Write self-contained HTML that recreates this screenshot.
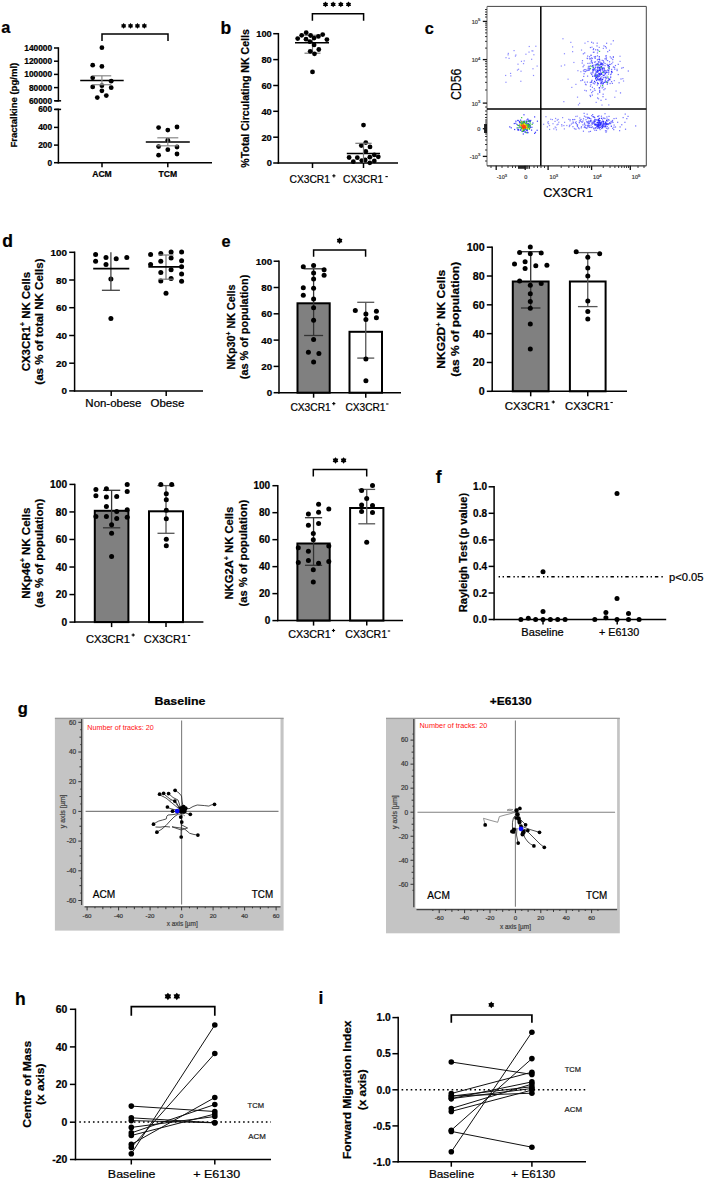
<!DOCTYPE html>
<html><head><meta charset="utf-8"><style>
html,body{margin:0;padding:0;background:#fff;}
svg{display:block;font-family:"Liberation Sans",sans-serif;}
</style></head><body>
<svg width="704" height="1181" viewBox="0 0 704 1181">
<rect width="704" height="1181" fill="#fff"/>
<text x="1.2" y="33.1" font-size="16.3" text-anchor="start" fill="#000" font-weight="bold"  stroke="#000" stroke-width="0.22">a</text>
<text x="220.6" y="33.55" font-size="17.5" text-anchor="start" fill="#000" font-weight="bold"  stroke="#000" stroke-width="0.22">b</text>
<text x="424.7" y="33.95" font-size="16.3" text-anchor="start" fill="#000" font-weight="bold"  stroke="#000" stroke-width="0.22">c</text>
<text x="2.3" y="246.55" font-size="17.5" text-anchor="start" fill="#000" font-weight="bold"  stroke="#000" stroke-width="0.22">d</text>
<text x="221.4" y="246.85" font-size="16.3" text-anchor="start" fill="#000" font-weight="bold"  stroke="#000" stroke-width="0.22">e</text>
<text x="435.8" y="482.9" font-size="17.5" text-anchor="start" fill="#000" font-weight="bold"  stroke="#000" stroke-width="0.22">f</text>
<text x="17.7" y="713.9" font-size="16.5" text-anchor="start" fill="#000" font-weight="bold"  stroke="#000" stroke-width="0.22">g</text>
<text x="15.1" y="1004.5" font-size="17.5" text-anchor="start" fill="#000" font-weight="bold"  stroke="#000" stroke-width="0.22">h</text>
<text x="318.6" y="1004.2" font-size="17.5" text-anchor="start" fill="#000" font-weight="bold"  stroke="#000" stroke-width="0.22">i</text>
<line x1="58.4" y1="47.25" x2="58.4" y2="101.55" stroke="#000" stroke-width="1.5" />
<line x1="54" y1="48" x2="58.4" y2="48" stroke="#000" stroke-width="1.5" />
<text x="52.2" y="51.02" font-size="8.4" text-anchor="end" fill="#000" font-weight="bold"  stroke="#000" stroke-width="0.22">140000</text>
<line x1="54" y1="61.2" x2="58.4" y2="61.2" stroke="#000" stroke-width="1.5" />
<text x="52.2" y="64.22" font-size="8.4" text-anchor="end" fill="#000" font-weight="bold"  stroke="#000" stroke-width="0.22">120000</text>
<line x1="54" y1="74.4" x2="58.4" y2="74.4" stroke="#000" stroke-width="1.5" />
<text x="52.2" y="77.42" font-size="8.4" text-anchor="end" fill="#000" font-weight="bold"  stroke="#000" stroke-width="0.22">100000</text>
<line x1="54" y1="87.6" x2="58.4" y2="87.6" stroke="#000" stroke-width="1.5" />
<text x="52.2" y="90.62" font-size="8.4" text-anchor="end" fill="#000" font-weight="bold"  stroke="#000" stroke-width="0.22">80000</text>
<line x1="54" y1="100.8" x2="58.4" y2="100.8" stroke="#000" stroke-width="1.5" />
<text x="52.2" y="103.82" font-size="8.4" text-anchor="end" fill="#000" font-weight="bold"  stroke="#000" stroke-width="0.22">60000</text>
<line x1="58.4" y1="108.65" x2="58.4" y2="163.45" stroke="#000" stroke-width="1.5" />
<line x1="54" y1="109.4" x2="58.4" y2="109.4" stroke="#000" stroke-width="1.5" />
<text x="52.2" y="112.42" font-size="8.4" text-anchor="end" fill="#000" font-weight="bold"  stroke="#000" stroke-width="0.22">600</text>
<line x1="54" y1="127.4" x2="58.4" y2="127.4" stroke="#000" stroke-width="1.5" />
<text x="52.2" y="130.42" font-size="8.4" text-anchor="end" fill="#000" font-weight="bold"  stroke="#000" stroke-width="0.22">400</text>
<line x1="54" y1="145.1" x2="58.4" y2="145.1" stroke="#000" stroke-width="1.5" />
<text x="52.2" y="148.12" font-size="8.4" text-anchor="end" fill="#000" font-weight="bold"  stroke="#000" stroke-width="0.22">200</text>
<line x1="54" y1="162.7" x2="58.4" y2="162.7" stroke="#000" stroke-width="1.5" />
<text x="52.2" y="165.72" font-size="8.4" text-anchor="end" fill="#000" font-weight="bold"  stroke="#000" stroke-width="0.22">0</text>
<line x1="57.65" y1="162.7" x2="212" y2="162.7" stroke="#000" stroke-width="1.5" />
<line x1="102" y1="162.7" x2="102" y2="167.2" stroke="#000" stroke-width="1.5" />
<line x1="167.8" y1="162.7" x2="167.8" y2="167.2" stroke="#000" stroke-width="1.5" />
<line x1="55.2" y1="100.8" x2="61.1" y2="100.8" stroke="#000" stroke-width="1.5" />
<line x1="55.2" y1="109.4" x2="61.1" y2="109.4" stroke="#000" stroke-width="1.5" />
<text transform="translate(17.2,105.2) rotate(-90)" font-size="9.6" text-anchor="middle" fill="#000" font-weight="bold" textLength="84.8" lengthAdjust="spacingAndGlyphs" stroke="#000" stroke-width="0.22">Fractalkine (pg/ml)</text>
<text x="102" y="177.3" font-size="8.6" text-anchor="middle" fill="#000" font-weight="bold"  stroke="#000" stroke-width="0.22">ACM</text>
<text x="167.8" y="177.3" font-size="8.6" text-anchor="middle" fill="#000" font-weight="bold"  stroke="#000" stroke-width="0.22">TCM</text>
<polyline points="102,41 102,34 168,34 168,41" fill="none" stroke="#000" stroke-width="1.5"/>
<polygon points="123.65,23 124.61,24.24 126.16,24.45 125.56,25.9 126.16,27.35 124.61,27.56 123.65,28.8 122.69,27.56 121.14,27.35 121.74,25.9 121.14,24.45 122.69,24.24" fill="#000"/>
<polygon points="130.55,23 131.51,24.24 133.06,24.45 132.46,25.9 133.06,27.35 131.51,27.56 130.55,28.8 129.59,27.56 128.04,27.35 128.64,25.9 128.04,24.45 129.59,24.24" fill="#000"/>
<polygon points="137.45,23 138.41,24.24 139.96,24.45 139.36,25.9 139.96,27.35 138.41,27.56 137.45,28.8 136.49,27.56 134.94,27.35 135.54,25.9 134.94,24.45 136.49,24.24" fill="#000"/>
<polygon points="144.35,23 145.31,24.24 146.86,24.45 146.26,25.9 146.86,27.35 145.31,27.56 144.35,28.8 143.39,27.56 141.84,27.35 142.44,25.9 141.84,24.45 143.39,24.24" fill="#000"/>
<circle cx="101.9" cy="47.7" r="2.4" fill="#000"/>
<circle cx="92.7" cy="65.2" r="2.4" fill="#000"/>
<circle cx="101.9" cy="66.4" r="2.4" fill="#000"/>
<circle cx="92.7" cy="77.8" r="2.4" fill="#000"/>
<circle cx="111.2" cy="81.2" r="2.4" fill="#000"/>
<circle cx="92.7" cy="86.9" r="2.4" fill="#000"/>
<circle cx="101.9" cy="85.7" r="2.4" fill="#000"/>
<circle cx="111.2" cy="87.7" r="2.4" fill="#000"/>
<circle cx="101.9" cy="90.8" r="2.4" fill="#000"/>
<circle cx="97.3" cy="97.6" r="2.4" fill="#000"/>
<circle cx="106.3" cy="95.6" r="2.4" fill="#000"/>
<line x1="80.2" y1="80.4" x2="123.7" y2="80.4" stroke="#000" stroke-width="1.5" />
<line x1="101.9" y1="75.8" x2="101.9" y2="84.7" stroke="#888" stroke-width="1.2" />
<line x1="92.55" y1="75.8" x2="111.25" y2="75.8" stroke="#888" stroke-width="1.2" />
<line x1="92.55" y1="84.7" x2="111.25" y2="84.7" stroke="#888" stroke-width="1.2" />
<circle cx="158.6" cy="127.6" r="2.4" fill="#000"/>
<circle cx="167.8" cy="130.1" r="2.4" fill="#000"/>
<circle cx="177" cy="127" r="2.4" fill="#000"/>
<circle cx="167.8" cy="140.2" r="2.4" fill="#000"/>
<circle cx="158.6" cy="146.6" r="2.4" fill="#000"/>
<circle cx="167.8" cy="149.7" r="2.4" fill="#000"/>
<circle cx="177" cy="147" r="2.4" fill="#000"/>
<circle cx="158.6" cy="155.2" r="2.4" fill="#000"/>
<circle cx="177" cy="154" r="2.4" fill="#000"/>
<line x1="145.8" y1="141.9" x2="189.8" y2="141.9" stroke="#000" stroke-width="1.5" />
<line x1="167.8" y1="137.8" x2="167.8" y2="145.8" stroke="#888" stroke-width="1.2" />
<line x1="157.3" y1="137.8" x2="178.3" y2="137.8" stroke="#888" stroke-width="1.2" />
<line x1="157.3" y1="145.8" x2="178.3" y2="145.8" stroke="#888" stroke-width="1.2" />
<line x1="278.4" y1="32.95" x2="278.4" y2="163.75" stroke="#000" stroke-width="1.5" />
<line x1="273.2" y1="33.7" x2="278.4" y2="33.7" stroke="#000" stroke-width="1.5" />
<text x="271.8" y="37.05" font-size="9.3" text-anchor="end" fill="#000" font-weight="bold"  stroke="#000" stroke-width="0.22">100</text>
<line x1="273.2" y1="59.6" x2="278.4" y2="59.6" stroke="#000" stroke-width="1.5" />
<text x="271.8" y="62.95" font-size="9.3" text-anchor="end" fill="#000" font-weight="bold"  stroke="#000" stroke-width="0.22">80</text>
<line x1="273.2" y1="85.5" x2="278.4" y2="85.5" stroke="#000" stroke-width="1.5" />
<text x="271.8" y="88.85" font-size="9.3" text-anchor="end" fill="#000" font-weight="bold"  stroke="#000" stroke-width="0.22">60</text>
<line x1="273.2" y1="111.3" x2="278.4" y2="111.3" stroke="#000" stroke-width="1.5" />
<text x="271.8" y="114.65" font-size="9.3" text-anchor="end" fill="#000" font-weight="bold"  stroke="#000" stroke-width="0.22">40</text>
<line x1="273.2" y1="137.2" x2="278.4" y2="137.2" stroke="#000" stroke-width="1.5" />
<text x="271.8" y="140.55" font-size="9.3" text-anchor="end" fill="#000" font-weight="bold"  stroke="#000" stroke-width="0.22">20</text>
<line x1="273.2" y1="163" x2="278.4" y2="163" stroke="#000" stroke-width="1.5" />
<text x="271.8" y="166.35" font-size="9.3" text-anchor="end" fill="#000" font-weight="bold"  stroke="#000" stroke-width="0.22">0</text>
<line x1="277.65" y1="163" x2="398" y2="163" stroke="#000" stroke-width="1.5" />
<line x1="312.5" y1="163" x2="312.5" y2="168" stroke="#000" stroke-width="1.5" />
<line x1="363.5" y1="163" x2="363.5" y2="168" stroke="#000" stroke-width="1.5" />
<text transform="translate(248.6,98.4) rotate(-90)" font-size="10.5" text-anchor="middle" fill="#000" font-weight="bold" textLength="138.5" lengthAdjust="spacingAndGlyphs" stroke="#000" stroke-width="0.22">%Total Circulating NK Cells</text>
<text x="289.48" y="182.8" font-size="10.6" fill="#000" textLength="40.53" lengthAdjust="spacingAndGlyphs" stroke="#000" stroke-width="0.22">CX3CR1</text>
<line x1="332.3" y1="175.8" x2="335.5" y2="175.8" stroke="#000" stroke-width="1.1" />
<line x1="333.9" y1="174.2" x2="333.9" y2="177.4" stroke="#000" stroke-width="1.1" />
<text x="343.08" y="182.8" font-size="10.6" fill="#000" textLength="40.11" lengthAdjust="spacingAndGlyphs" stroke="#000" stroke-width="0.22">CX3CR1</text>
<line x1="385.4" y1="176.6" x2="387.8" y2="176.6" stroke="#000" stroke-width="1.1" />
<polyline points="312.4,20.8 312.4,13.7 363.6,13.7 363.6,20.8" fill="none" stroke="#000" stroke-width="1.5"/>
<polygon points="325.5,1.45 326.47,2.71 328.05,2.93 327.44,4.4 328.05,5.88 326.47,6.09 325.5,7.35 324.52,6.09 322.94,5.88 323.55,4.4 322.94,2.92 324.52,2.71" fill="#000"/>
<polygon points="333.17,1.45 334.14,2.71 335.72,2.93 335.11,4.4 335.72,5.88 334.14,6.09 333.17,7.35 332.19,6.09 330.61,5.88 331.22,4.4 330.61,2.92 332.19,2.71" fill="#000"/>
<polygon points="340.83,1.45 341.81,2.71 343.39,2.93 342.78,4.4 343.39,5.88 341.81,6.09 340.83,7.35 339.86,6.09 338.28,5.88 338.89,4.4 338.28,2.92 339.86,2.71" fill="#000"/>
<polygon points="348.5,1.45 349.48,2.71 351.06,2.93 350.45,4.4 351.06,5.88 349.48,6.09 348.5,7.35 347.53,6.09 345.95,5.88 346.56,4.4 345.95,2.92 347.53,2.71" fill="#000"/>
<line x1="312.5" y1="35.3" x2="312.5" y2="53.2" stroke="#777" stroke-width="1.2" />
<line x1="304.5" y1="35.3" x2="320.5" y2="35.3" stroke="#777" stroke-width="1.2" />
<line x1="304.5" y1="53.2" x2="320.5" y2="53.2" stroke="#777" stroke-width="1.2" />
<circle cx="297.7" cy="38.6" r="2.4" fill="#000"/>
<circle cx="301.7" cy="35.3" r="2.4" fill="#000"/>
<circle cx="306.2" cy="32.7" r="2.4" fill="#000"/>
<circle cx="310.6" cy="35.5" r="2.4" fill="#000"/>
<circle cx="306" cy="39.2" r="2.4" fill="#000"/>
<circle cx="309.9" cy="41.7" r="2.4" fill="#000"/>
<circle cx="314.1" cy="38.1" r="2.4" fill="#000"/>
<circle cx="318.4" cy="36.4" r="2.4" fill="#000"/>
<circle cx="322.7" cy="34.6" r="2.4" fill="#000"/>
<circle cx="326.9" cy="39.6" r="2.4" fill="#000"/>
<circle cx="314.1" cy="44.9" r="2.4" fill="#000"/>
<circle cx="310.2" cy="51.3" r="2.4" fill="#000"/>
<circle cx="318.8" cy="49.5" r="2.4" fill="#000"/>
<circle cx="314.5" cy="53.8" r="2.4" fill="#000"/>
<circle cx="312.5" cy="71.9" r="2.4" fill="#000"/>
<line x1="295" y1="42.8" x2="329" y2="42.8" stroke="#000" stroke-width="1.5" />
<circle cx="363.5" cy="125.1" r="2.4" fill="#000"/>
<circle cx="365.8" cy="142.6" r="2.4" fill="#000"/>
<circle cx="361.3" cy="145.5" r="2.4" fill="#000"/>
<circle cx="370" cy="146.9" r="2.4" fill="#000"/>
<circle cx="365.8" cy="151.5" r="2.4" fill="#000"/>
<circle cx="349.1" cy="157.5" r="2.4" fill="#000"/>
<circle cx="357.3" cy="157.7" r="2.4" fill="#000"/>
<circle cx="374.3" cy="154.9" r="2.4" fill="#000"/>
<circle cx="378.3" cy="156.8" r="2.4" fill="#000"/>
<circle cx="369.8" cy="157.2" r="2.4" fill="#000"/>
<circle cx="353.3" cy="161.7" r="2.4" fill="#000"/>
<circle cx="361.8" cy="160.6" r="2.4" fill="#000"/>
<circle cx="365.2" cy="160" r="2.4" fill="#000"/>
<circle cx="369.8" cy="162.8" r="2.4" fill="#000"/>
<circle cx="374.3" cy="160.9" r="2.4" fill="#000"/>
<line x1="346.8" y1="153.4" x2="380" y2="153.4" stroke="#000" stroke-width="1.5" />
<line x1="363.5" y1="143.3" x2="363.5" y2="163" stroke="#777" stroke-width="1.2" />
<line x1="355.35" y1="143.3" x2="371.65" y2="143.3" stroke="#777" stroke-width="1.2" />
<defs><filter id="bl" x="-5%" y="-5%" width="110%" height="110%"><feGaussianBlur stdDeviation="0.35"/></filter></defs>
<g filter="url(#bl)">
<rect x="586.98" y="75.53" width="1.2" height="1.2" fill="#7070ff"/>
<rect x="606.95" y="64.84" width="1.2" height="1.2" fill="#7070ff"/>
<rect x="586.04" y="70.21" width="1.2" height="1.2" fill="#7070ff"/>
<rect x="602.3" y="84.18" width="1.2" height="1.2" fill="#7070ff"/>
<rect x="587.06" y="55.49" width="1.2" height="1.2" fill="#7070ff"/>
<rect x="604.35" y="76.69" width="1.2" height="1.2" fill="#7070ff"/>
<rect x="611.8" y="82.79" width="1.2" height="1.2" fill="#7070ff"/>
<rect x="597.08" y="67.71" width="1.2" height="1.2" fill="#7070ff"/>
<rect x="621.13" y="67.53" width="1.2" height="1.2" fill="#7070ff"/>
<rect x="590.94" y="57.34" width="1.2" height="1.2" fill="#7070ff"/>
<rect x="598.86" y="72.74" width="1.2" height="1.2" fill="#7070ff"/>
<rect x="594.9" y="70.25" width="1.2" height="1.2" fill="#7070ff"/>
<rect x="600.46" y="79.31" width="1.2" height="1.2" fill="#7070ff"/>
<rect x="607.87" y="73.52" width="1.2" height="1.2" fill="#7070ff"/>
<rect x="581.89" y="79.42" width="1.2" height="1.2" fill="#7070ff"/>
<rect x="585.22" y="68.94" width="1.2" height="1.2" fill="#7070ff"/>
<rect x="584.74" y="71.03" width="1.2" height="1.2" fill="#7070ff"/>
<rect x="590.99" y="73.57" width="1.2" height="1.2" fill="#7070ff"/>
<rect x="627.7" y="70.42" width="1.2" height="1.2" fill="#7070ff"/>
<rect x="605.58" y="55.12" width="1.2" height="1.2" fill="#7070ff"/>
<rect x="595.41" y="78.95" width="1.2" height="1.2" fill="#7070ff"/>
<rect x="597.17" y="75.44" width="1.2" height="1.2" fill="#7070ff"/>
<rect x="598.93" y="58.93" width="1.2" height="1.2" fill="#7070ff"/>
<rect x="603.07" y="61.26" width="1.2" height="1.2" fill="#7070ff"/>
<rect x="614.85" y="64.94" width="1.2" height="1.2" fill="#7070ff"/>
<rect x="604.17" y="71.03" width="1.2" height="1.2" fill="#7070ff"/>
<rect x="606.57" y="63.77" width="1.2" height="1.2" fill="#7070ff"/>
<rect x="606.99" y="69.51" width="1.2" height="1.2" fill="#7070ff"/>
<rect x="609.37" y="78.49" width="1.2" height="1.2" fill="#7070ff"/>
<rect x="599.27" y="61.64" width="1.2" height="1.2" fill="#7070ff"/>
<rect x="604.91" y="76.62" width="1.2" height="1.2" fill="#7070ff"/>
<rect x="612.78" y="66.48" width="1.2" height="1.2" fill="#7070ff"/>
<rect x="602.99" y="77.1" width="1.2" height="1.2" fill="#7070ff"/>
<rect x="600.55" y="73.5" width="1.2" height="1.2" fill="#7070ff"/>
<rect x="599.64" y="63.82" width="1.2" height="1.2" fill="#7070ff"/>
<rect x="588.87" y="66.24" width="1.2" height="1.2" fill="#7070ff"/>
<rect x="603.32" y="89.13" width="1.2" height="1.2" fill="#7070ff"/>
<rect x="606.79" y="83.64" width="1.2" height="1.2" fill="#7070ff"/>
<rect x="605" y="79.38" width="1.2" height="1.2" fill="#7070ff"/>
<rect x="599.65" y="80.26" width="1.2" height="1.2" fill="#7070ff"/>
<rect x="613.96" y="67.07" width="1.2" height="1.2" fill="#7070ff"/>
<rect x="591.76" y="94.52" width="1.2" height="1.2" fill="#7070ff"/>
<rect x="600.2" y="82.65" width="1.2" height="1.2" fill="#7070ff"/>
<rect x="605.86" y="57.37" width="1.2" height="1.2" fill="#7070ff"/>
<rect x="619.9" y="92.31" width="1.2" height="1.2" fill="#7070ff"/>
<rect x="599.59" y="80.03" width="1.2" height="1.2" fill="#7070ff"/>
<rect x="599.14" y="60.39" width="1.2" height="1.2" fill="#7070ff"/>
<rect x="596.99" y="75.49" width="1.2" height="1.2" fill="#7070ff"/>
<rect x="608.04" y="79.51" width="1.2" height="1.2" fill="#7070ff"/>
<rect x="598.54" y="87.26" width="1.2" height="1.2" fill="#7070ff"/>
<rect x="591.15" y="80.51" width="1.2" height="1.2" fill="#7070ff"/>
<rect x="608.01" y="67.5" width="1.2" height="1.2" fill="#7070ff"/>
<rect x="581.88" y="60.12" width="1.2" height="1.2" fill="#7070ff"/>
<rect x="600.13" y="77.33" width="1.2" height="1.2" fill="#7070ff"/>
<rect x="611.93" y="58.95" width="1.2" height="1.2" fill="#7070ff"/>
<rect x="598.02" y="78.79" width="1.2" height="1.2" fill="#7070ff"/>
<rect x="596.58" y="42.56" width="1.2" height="1.2" fill="#7070ff"/>
<rect x="605.26" y="98.75" width="1.2" height="1.2" fill="#7070ff"/>
<rect x="607.04" y="59.99" width="1.2" height="1.2" fill="#7070ff"/>
<rect x="594.29" y="73.66" width="1.2" height="1.2" fill="#7070ff"/>
<rect x="620.4" y="78.41" width="1.2" height="1.2" fill="#7070ff"/>
<rect x="599.02" y="89.69" width="1.2" height="1.2" fill="#7070ff"/>
<rect x="597.26" y="93.34" width="1.2" height="1.2" fill="#7070ff"/>
<rect x="591.83" y="65.3" width="1.2" height="1.2" fill="#7070ff"/>
<rect x="604.49" y="88.09" width="1.2" height="1.2" fill="#7070ff"/>
<rect x="603.89" y="74.62" width="1.2" height="1.2" fill="#7070ff"/>
<rect x="581.61" y="62.45" width="1.2" height="1.2" fill="#7070ff"/>
<rect x="592.5" y="64.6" width="1.2" height="1.2" fill="#7070ff"/>
<rect x="603.28" y="66.98" width="1.2" height="1.2" fill="#7070ff"/>
<rect x="605.09" y="71.99" width="1.2" height="1.2" fill="#7070ff"/>
<rect x="595" y="72.42" width="1.2" height="1.2" fill="#7070ff"/>
<rect x="601.86" y="81.3" width="1.2" height="1.2" fill="#7070ff"/>
<rect x="593.7" y="68.21" width="1.2" height="1.2" fill="#7070ff"/>
<rect x="585.73" y="90.25" width="1.2" height="1.2" fill="#7070ff"/>
<rect x="611.07" y="68.85" width="1.2" height="1.2" fill="#7070ff"/>
<rect x="593.69" y="56.17" width="1.2" height="1.2" fill="#7070ff"/>
<rect x="599.53" y="73.48" width="1.2" height="1.2" fill="#7070ff"/>
<rect x="617.64" y="73.96" width="1.2" height="1.2" fill="#7070ff"/>
<rect x="591" y="41.66" width="1.2" height="1.2" fill="#7070ff"/>
<rect x="610.68" y="73.27" width="1.2" height="1.2" fill="#7070ff"/>
<rect x="583.52" y="73.16" width="1.2" height="1.2" fill="#7070ff"/>
<rect x="583.52" y="112.76" width="1.2" height="1.2" fill="#7070ff"/>
<rect x="608.07" y="77.87" width="1.2" height="1.2" fill="#7070ff"/>
<rect x="596.42" y="45.32" width="1.2" height="1.2" fill="#7070ff"/>
<rect x="596.86" y="52.35" width="1.2" height="1.2" fill="#7070ff"/>
<rect x="603.37" y="45.33" width="1.2" height="1.2" fill="#7070ff"/>
<rect x="589.83" y="85.63" width="1.2" height="1.2" fill="#7070ff"/>
<rect x="612.79" y="56.83" width="1.2" height="1.2" fill="#7070ff"/>
<rect x="584.19" y="81.55" width="1.2" height="1.2" fill="#7070ff"/>
<rect x="605.68" y="59.16" width="1.2" height="1.2" fill="#7070ff"/>
<rect x="591.75" y="62.67" width="1.2" height="1.2" fill="#7070ff"/>
<rect x="587.3" y="62.84" width="1.2" height="1.2" fill="#7070ff"/>
<rect x="609.26" y="79.28" width="1.2" height="1.2" fill="#7070ff"/>
<rect x="616.51" y="69.96" width="1.2" height="1.2" fill="#7070ff"/>
<rect x="596.78" y="59.21" width="1.2" height="1.2" fill="#7070ff"/>
<rect x="596.89" y="55.24" width="1.2" height="1.2" fill="#7070ff"/>
<rect x="582" y="79.36" width="1.2" height="1.2" fill="#7070ff"/>
<rect x="610.96" y="81.04" width="1.2" height="1.2" fill="#7070ff"/>
<rect x="609.99" y="74.03" width="1.2" height="1.2" fill="#7070ff"/>
<rect x="591.54" y="72.04" width="1.2" height="1.2" fill="#7070ff"/>
<rect x="594.63" y="57.66" width="1.2" height="1.2" fill="#7070ff"/>
<rect x="582.77" y="53.21" width="1.2" height="1.2" fill="#7070ff"/>
<rect x="597.95" y="72.81" width="1.2" height="1.2" fill="#7070ff"/>
<rect x="593.73" y="88.15" width="1.2" height="1.2" fill="#7070ff"/>
<rect x="599.61" y="77.99" width="1.2" height="1.2" fill="#7070ff"/>
<rect x="608.97" y="61.16" width="1.2" height="1.2" fill="#7070ff"/>
<rect x="580.27" y="80.03" width="1.2" height="1.2" fill="#7070ff"/>
<rect x="591.8" y="86.73" width="1.2" height="1.2" fill="#7070ff"/>
<rect x="601.04" y="83.08" width="1.2" height="1.2" fill="#7070ff"/>
<rect x="604.87" y="46.03" width="1.2" height="1.2" fill="#7070ff"/>
<rect x="604.47" y="62.92" width="1.2" height="1.2" fill="#7070ff"/>
<rect x="591.2" y="65.78" width="1.2" height="1.2" fill="#7070ff"/>
<rect x="604.91" y="81.61" width="1.2" height="1.2" fill="#7070ff"/>
<rect x="607.1" y="51.08" width="1.2" height="1.2" fill="#7070ff"/>
<rect x="592.68" y="42.49" width="1.2" height="1.2" fill="#7070ff"/>
<rect x="597.08" y="78.2" width="1.2" height="1.2" fill="#7070ff"/>
<rect x="591.12" y="73.94" width="1.2" height="1.2" fill="#7070ff"/>
<rect x="600.08" y="83.09" width="1.2" height="1.2" fill="#7070ff"/>
<rect x="590.61" y="61.05" width="1.2" height="1.2" fill="#7070ff"/>
<rect x="591.13" y="92.03" width="1.2" height="1.2" fill="#7070ff"/>
<rect x="607.82" y="69.52" width="1.2" height="1.2" fill="#7070ff"/>
<rect x="600.03" y="72.37" width="1.2" height="1.2" fill="#7070ff"/>
<rect x="599.83" y="68.5" width="1.2" height="1.2" fill="#7070ff"/>
<rect x="594.99" y="55.92" width="1.2" height="1.2" fill="#7070ff"/>
<rect x="592.22" y="90.8" width="1.2" height="1.2" fill="#7070ff"/>
<rect x="602.83" y="71.78" width="1.2" height="1.2" fill="#7070ff"/>
<rect x="596.07" y="71.75" width="1.2" height="1.2" fill="#7070ff"/>
<rect x="601.18" y="63.25" width="1.2" height="1.2" fill="#7070ff"/>
<rect x="599.77" y="73.88" width="1.2" height="1.2" fill="#7070ff"/>
<rect x="591.26" y="61.53" width="1.2" height="1.2" fill="#7070ff"/>
<rect x="589.01" y="58.24" width="1.2" height="1.2" fill="#7070ff"/>
<rect x="606.01" y="42.68" width="1.2" height="1.2" fill="#7070ff"/>
<rect x="595.6" y="63.67" width="1.2" height="1.2" fill="#7070ff"/>
<rect x="592.42" y="72.17" width="1.2" height="1.2" fill="#7070ff"/>
<rect x="608.15" y="71.92" width="1.2" height="1.2" fill="#7070ff"/>
<rect x="596.74" y="63.65" width="1.2" height="1.2" fill="#7070ff"/>
<rect x="596.84" y="81.94" width="1.2" height="1.2" fill="#7070ff"/>
<rect x="594.45" y="57.24" width="1.2" height="1.2" fill="#7070ff"/>
<rect x="586.62" y="57.72" width="1.2" height="1.2" fill="#7070ff"/>
<rect x="585.49" y="84.19" width="1.2" height="1.2" fill="#7070ff"/>
<rect x="601.2" y="68.15" width="1.2" height="1.2" fill="#7070ff"/>
<rect x="611.14" y="63.11" width="1.2" height="1.2" fill="#7070ff"/>
<rect x="604.78" y="80.61" width="1.2" height="1.2" fill="#7070ff"/>
<rect x="584.08" y="52.32" width="1.2" height="1.2" fill="#7070ff"/>
<rect x="589.65" y="81.88" width="1.2" height="1.2" fill="#7070ff"/>
<rect x="609.66" y="56.27" width="1.2" height="1.2" fill="#7070ff"/>
<rect x="607.44" y="66.4" width="1.2" height="1.2" fill="#7070ff"/>
<rect x="594.46" y="64.39" width="1.2" height="1.2" fill="#7070ff"/>
<rect x="595.08" y="49.18" width="1.2" height="1.2" fill="#7070ff"/>
<rect x="588.99" y="56.17" width="1.2" height="1.2" fill="#7070ff"/>
<rect x="602.41" y="96.07" width="1.2" height="1.2" fill="#7070ff"/>
<rect x="622.59" y="66.96" width="1.2" height="1.2" fill="#7070ff"/>
<rect x="582.51" y="66.12" width="1.2" height="1.2" fill="#7070ff"/>
<rect x="589.55" y="94.8" width="1.2" height="1.2" fill="#7070ff"/>
<rect x="603.14" y="62.26" width="1.2" height="1.2" fill="#7070ff"/>
<rect x="606.42" y="77.43" width="1.2" height="1.2" fill="#7070ff"/>
<rect x="583.37" y="64.62" width="1.2" height="1.2" fill="#7070ff"/>
<rect x="595.85" y="71.23" width="1.2" height="1.2" fill="#7070ff"/>
<rect x="599.19" y="66.93" width="1.2" height="1.2" fill="#7070ff"/>
<rect x="599.71" y="63.97" width="1.2" height="1.2" fill="#7070ff"/>
<rect x="589.93" y="89.19" width="1.2" height="1.2" fill="#7070ff"/>
<rect x="601.24" y="76.26" width="1.2" height="1.2" fill="#7070ff"/>
<rect x="583.65" y="69.01" width="1.2" height="1.2" fill="#7070ff"/>
<rect x="605.37" y="55.51" width="1.2" height="1.2" fill="#7070ff"/>
<rect x="607.88" y="66.33" width="1.2" height="1.2" fill="#7070ff"/>
<rect x="601.62" y="69.4" width="1.2" height="1.2" fill="#7070ff"/>
<rect x="599.97" y="85.44" width="1.2" height="1.2" fill="#7070ff"/>
<rect x="594.37" y="89.77" width="1.2" height="1.2" fill="#7070ff"/>
<rect x="590.96" y="59.82" width="1.2" height="1.2" fill="#7070ff"/>
<rect x="604.4" y="58.21" width="1.2" height="1.2" fill="#7070ff"/>
<rect x="594.67" y="81.89" width="1.2" height="1.2" fill="#7070ff"/>
<rect x="608.89" y="49.7" width="1.2" height="1.2" fill="#7070ff"/>
<rect x="602.55" y="93.61" width="1.2" height="1.2" fill="#7070ff"/>
<rect x="608.75" y="68.12" width="1.2" height="1.2" fill="#7070ff"/>
<rect x="592.59" y="67.44" width="1.2" height="1.2" fill="#7070ff"/>
<rect x="587.62" y="67.83" width="1.2" height="1.2" fill="#7070ff"/>
<rect x="596.31" y="69.25" width="1.2" height="1.2" fill="#7070ff"/>
<rect x="608.64" y="68.24" width="1.2" height="1.2" fill="#7070ff"/>
<rect x="584.88" y="83.61" width="1.2" height="1.2" fill="#7070ff"/>
<rect x="588.35" y="65.63" width="1.2" height="1.2" fill="#7070ff"/>
<rect x="596.8" y="66.87" width="1.2" height="1.2" fill="#7070ff"/>
<rect x="588.97" y="68.01" width="1.2" height="1.2" fill="#7070ff"/>
<rect x="617.66" y="63.72" width="1.2" height="1.2" fill="#7070ff"/>
<rect x="596.77" y="84.49" width="1.2" height="1.2" fill="#7070ff"/>
<rect x="604.7" y="80.16" width="1.2" height="1.2" fill="#7070ff"/>
<rect x="605.76" y="47.38" width="1.2" height="1.2" fill="#7070ff"/>
<rect x="590.22" y="72.54" width="1.2" height="1.2" fill="#7070ff"/>
<rect x="602.49" y="86.53" width="1.2" height="1.2" fill="#7070ff"/>
<rect x="602.23" y="68.14" width="1.2" height="1.2" fill="#7070ff"/>
<rect x="598.35" y="68.47" width="1.2" height="1.2" fill="#7070ff"/>
<rect x="600.22" y="79.09" width="1.2" height="1.2" fill="#7070ff"/>
<rect x="594.94" y="61.24" width="1.2" height="1.2" fill="#7070ff"/>
<rect x="590.31" y="84.16" width="1.2" height="1.2" fill="#7070ff"/>
<rect x="609.53" y="82.91" width="1.2" height="1.2" fill="#7070ff"/>
<rect x="605.71" y="81" width="1.2" height="1.2" fill="#7070ff"/>
<rect x="597.98" y="78.97" width="1.2" height="1.2" fill="#7070ff"/>
<rect x="588.53" y="68.56" width="1.2" height="1.2" fill="#7070ff"/>
<rect x="591.4" y="79.72" width="1.2" height="1.2" fill="#7070ff"/>
<rect x="592.78" y="69.7" width="1.2" height="1.2" fill="#7070ff"/>
<rect x="601.6" y="87.26" width="1.2" height="1.2" fill="#7070ff"/>
<rect x="590.87" y="59.74" width="1.2" height="1.2" fill="#7070ff"/>
<rect x="605.36" y="57.72" width="1.2" height="1.2" fill="#7070ff"/>
<rect x="602.07" y="64.16" width="1.2" height="1.2" fill="#7070ff"/>
<rect x="597.05" y="49.15" width="1.2" height="1.2" fill="#7070ff"/>
<rect x="604.42" y="65" width="1.2" height="1.2" fill="#7070ff"/>
<rect x="589.91" y="95.93" width="1.2" height="1.2" fill="#7070ff"/>
<rect x="604.41" y="113.11" width="1.2" height="1.2" fill="#7070ff"/>
<rect x="601.67" y="66.82" width="1.2" height="1.2" fill="#7070ff"/>
<rect x="598.97" y="90.28" width="1.2" height="1.2" fill="#7070ff"/>
<rect x="597.76" y="76.41" width="1.2" height="1.2" fill="#7070ff"/>
<rect x="602.65" y="60.08" width="1.2" height="1.2" fill="#7070ff"/>
<rect x="599.16" y="64.97" width="1.2" height="1.2" fill="#7070ff"/>
<rect x="586.79" y="81.46" width="1.2" height="1.2" fill="#7070ff"/>
<rect x="603.99" y="71.89" width="1.2" height="1.2" fill="#7070ff"/>
<rect x="589.83" y="46.93" width="1.2" height="1.2" fill="#7070ff"/>
<rect x="602.37" y="69.83" width="1.2" height="1.2" fill="#7070ff"/>
<rect x="582.85" y="70.28" width="1.2" height="1.2" fill="#7070ff"/>
<rect x="584.31" y="70.68" width="1.2" height="1.2" fill="#7070ff"/>
<rect x="599.29" y="75.26" width="1.2" height="1.2" fill="#7070ff"/>
<rect x="599.95" y="73.05" width="1.2" height="1.2" fill="#7070ff"/>
<rect x="587.74" y="66.4" width="1.2" height="1.2" fill="#7070ff"/>
<rect x="593.4" y="68.17" width="1.2" height="1.2" fill="#7070ff"/>
<rect x="600.43" y="78.43" width="1.2" height="1.2" fill="#7070ff"/>
<rect x="612.72" y="40.18" width="1.2" height="1.2" fill="#7070ff"/>
<rect x="601.61" y="68.62" width="1.2" height="1.2" fill="#7070ff"/>
<rect x="618.49" y="82.2" width="1.2" height="1.2" fill="#7070ff"/>
<rect x="583.12" y="75.82" width="1.2" height="1.2" fill="#7070ff"/>
<rect x="593.31" y="82.92" width="1.2" height="1.2" fill="#7070ff"/>
<rect x="588.5" y="69.78" width="1.2" height="1.2" fill="#7070ff"/>
<rect x="596.82" y="69.84" width="1.2" height="1.2" fill="#7070ff"/>
<rect x="592.74" y="48.94" width="1.2" height="1.2" fill="#7070ff"/>
<rect x="602.14" y="82.99" width="1.2" height="1.2" fill="#7070ff"/>
<rect x="597.39" y="58.79" width="1.2" height="1.2" fill="#7070ff"/>
<rect x="599.83" y="77.78" width="1.2" height="1.2" fill="#7070ff"/>
<rect x="596.42" y="70.83" width="1.2" height="1.2" fill="#7070ff"/>
<rect x="610.68" y="57.58" width="1.2" height="1.2" fill="#7070ff"/>
<rect x="592.98" y="48.13" width="1.2" height="1.2" fill="#7070ff"/>
<rect x="591.7" y="62.13" width="1.2" height="1.2" fill="#7070ff"/>
<rect x="589.36" y="62.67" width="1.2" height="1.2" fill="#7070ff"/>
<rect x="614.17" y="68.64" width="1.2" height="1.2" fill="#7070ff"/>
<rect x="596.97" y="97.38" width="1.2" height="1.2" fill="#7070ff"/>
<rect x="597.45" y="50.19" width="1.2" height="1.2" fill="#7070ff"/>
<rect x="601.63" y="59.76" width="1.2" height="1.2" fill="#7070ff"/>
<rect x="612.75" y="56.05" width="1.2" height="1.2" fill="#7070ff"/>
<rect x="592.78" y="51.73" width="1.2" height="1.2" fill="#7070ff"/>
<rect x="598.88" y="58.81" width="1.2" height="1.2" fill="#7070ff"/>
<rect x="597.41" y="66.48" width="1.2" height="1.2" fill="#7070ff"/>
<rect x="592.48" y="82.32" width="1.2" height="1.2" fill="#7070ff"/>
<rect x="606.42" y="71.75" width="1.2" height="1.2" fill="#7070ff"/>
<rect x="589.9" y="58.15" width="1.2" height="1.2" fill="#7070ff"/>
<rect x="600.43" y="99.69" width="1.2" height="1.2" fill="#7070ff"/>
<rect x="593.89" y="61.58" width="1.2" height="1.2" fill="#7070ff"/>
<rect x="591.72" y="57.86" width="1.2" height="1.2" fill="#7070ff"/>
<rect x="589.25" y="68.54" width="1.2" height="1.2" fill="#7070ff"/>
<rect x="610.9" y="70.99" width="1.2" height="1.2" fill="#7070ff"/>
<rect x="593.4" y="51.62" width="1.2" height="1.2" fill="#7070ff"/>
<rect x="599.92" y="70.68" width="1.2" height="1.2" fill="#7070ff"/>
<rect x="586.96" y="57.96" width="1.2" height="1.2" fill="#7070ff"/>
<rect x="597.62" y="83.15" width="1.2" height="1.2" fill="#7070ff"/>
<rect x="603.64" y="73.47" width="1.2" height="1.2" fill="#7070ff"/>
<rect x="597.38" y="74.24" width="1.2" height="1.2" fill="#2a2aff"/>
<rect x="598.94" y="87.21" width="1.2" height="1.2" fill="#2a2aff"/>
<rect x="593.34" y="69.42" width="1.2" height="1.2" fill="#2a2aff"/>
<rect x="605.34" y="70.14" width="1.2" height="1.2" fill="#2a2aff"/>
<rect x="606.12" y="71.69" width="1.2" height="1.2" fill="#2a2aff"/>
<rect x="599.73" y="69.41" width="1.2" height="1.2" fill="#2a2aff"/>
<rect x="592.1" y="65.21" width="1.2" height="1.2" fill="#2a2aff"/>
<rect x="610.08" y="76.52" width="1.2" height="1.2" fill="#2a2aff"/>
<rect x="602.03" y="78.68" width="1.2" height="1.2" fill="#2a2aff"/>
<rect x="601.85" y="79.15" width="1.2" height="1.2" fill="#2a2aff"/>
<rect x="597.67" y="70.44" width="1.2" height="1.2" fill="#2a2aff"/>
<rect x="603.92" y="69.53" width="1.2" height="1.2" fill="#2a2aff"/>
<rect x="592.35" y="70.42" width="1.2" height="1.2" fill="#2a2aff"/>
<rect x="596.28" y="76.29" width="1.2" height="1.2" fill="#2a2aff"/>
<rect x="595.4" y="64.57" width="1.2" height="1.2" fill="#2a2aff"/>
<rect x="597.34" y="82.87" width="1.2" height="1.2" fill="#2a2aff"/>
<rect x="598.76" y="73.13" width="1.2" height="1.2" fill="#2a2aff"/>
<rect x="599.05" y="74.07" width="1.2" height="1.2" fill="#2a2aff"/>
<rect x="603.64" y="81.77" width="1.2" height="1.2" fill="#2a2aff"/>
<rect x="590.78" y="81.53" width="1.2" height="1.2" fill="#2a2aff"/>
<rect x="598.98" y="69.75" width="1.2" height="1.2" fill="#2a2aff"/>
<rect x="610.99" y="70.81" width="1.2" height="1.2" fill="#2a2aff"/>
<rect x="608.72" y="78.78" width="1.2" height="1.2" fill="#2a2aff"/>
<rect x="593.85" y="75.42" width="1.2" height="1.2" fill="#2a2aff"/>
<rect x="602.68" y="71.12" width="1.2" height="1.2" fill="#2a2aff"/>
<rect x="587.36" y="69.59" width="1.2" height="1.2" fill="#2a2aff"/>
<rect x="598.04" y="64.25" width="1.2" height="1.2" fill="#2a2aff"/>
<rect x="608.13" y="70.29" width="1.2" height="1.2" fill="#2a2aff"/>
<rect x="597.03" y="69.9" width="1.2" height="1.2" fill="#2a2aff"/>
<rect x="595.08" y="66.57" width="1.2" height="1.2" fill="#2a2aff"/>
<rect x="599.47" y="74.19" width="1.2" height="1.2" fill="#2a2aff"/>
<rect x="596.46" y="71.37" width="1.2" height="1.2" fill="#2a2aff"/>
<rect x="592.05" y="75.65" width="1.2" height="1.2" fill="#2a2aff"/>
<rect x="595.25" y="73.5" width="1.2" height="1.2" fill="#2a2aff"/>
<rect x="594.47" y="68.39" width="1.2" height="1.2" fill="#2a2aff"/>
<rect x="600.08" y="63.52" width="1.2" height="1.2" fill="#2a2aff"/>
<rect x="611.35" y="71.74" width="1.2" height="1.2" fill="#2a2aff"/>
<rect x="598.64" y="66.86" width="1.2" height="1.2" fill="#2a2aff"/>
<rect x="606.97" y="81.7" width="1.2" height="1.2" fill="#2a2aff"/>
<rect x="600.5" y="62.42" width="1.2" height="1.2" fill="#2a2aff"/>
<rect x="596.48" y="76.31" width="1.2" height="1.2" fill="#2a2aff"/>
<rect x="596.44" y="63.71" width="1.2" height="1.2" fill="#2a2aff"/>
<rect x="593.06" y="66.6" width="1.2" height="1.2" fill="#2a2aff"/>
<rect x="599.07" y="67.46" width="1.2" height="1.2" fill="#2a2aff"/>
<rect x="599.09" y="91.54" width="1.2" height="1.2" fill="#2a2aff"/>
<rect x="607.86" y="64.74" width="1.2" height="1.2" fill="#2a2aff"/>
<rect x="600.72" y="72.61" width="1.2" height="1.2" fill="#2a2aff"/>
<rect x="598.31" y="79.3" width="1.2" height="1.2" fill="#2a2aff"/>
<rect x="597.34" y="69.72" width="1.2" height="1.2" fill="#2a2aff"/>
<rect x="597.13" y="71.3" width="1.2" height="1.2" fill="#2a2aff"/>
<rect x="605.43" y="77.43" width="1.2" height="1.2" fill="#2a2aff"/>
<rect x="592.29" y="68.91" width="1.2" height="1.2" fill="#2a2aff"/>
<rect x="595.01" y="77.71" width="1.2" height="1.2" fill="#2a2aff"/>
<rect x="600.12" y="78.23" width="1.2" height="1.2" fill="#2a2aff"/>
<rect x="598.69" y="58.64" width="1.2" height="1.2" fill="#2a2aff"/>
<rect x="601.26" y="73.59" width="1.2" height="1.2" fill="#2a2aff"/>
<rect x="601.54" y="62.88" width="1.2" height="1.2" fill="#2a2aff"/>
<rect x="599.41" y="67.19" width="1.2" height="1.2" fill="#2a2aff"/>
<rect x="595.56" y="74.47" width="1.2" height="1.2" fill="#2a2aff"/>
<rect x="600.76" y="65.75" width="1.2" height="1.2" fill="#2a2aff"/>
<rect x="590.44" y="54.68" width="1.2" height="1.2" fill="#2a2aff"/>
<rect x="596.12" y="79.86" width="1.2" height="1.2" fill="#2a2aff"/>
<rect x="598.72" y="56.24" width="1.2" height="1.2" fill="#2a2aff"/>
<rect x="594.69" y="74.95" width="1.2" height="1.2" fill="#2a2aff"/>
<rect x="607.36" y="80.18" width="1.2" height="1.2" fill="#2a2aff"/>
<rect x="600.83" y="73.38" width="1.2" height="1.2" fill="#2a2aff"/>
<rect x="593.7" y="68.83" width="1.2" height="1.2" fill="#2a2aff"/>
<rect x="597.33" y="66.58" width="1.2" height="1.2" fill="#2a2aff"/>
<rect x="599.32" y="69.25" width="1.2" height="1.2" fill="#2a2aff"/>
<rect x="600.69" y="82.04" width="1.2" height="1.2" fill="#2a2aff"/>
<rect x="602.71" y="74.93" width="1.2" height="1.2" fill="#2a2aff"/>
<rect x="597.8" y="61.36" width="1.2" height="1.2" fill="#2a2aff"/>
<rect x="598.43" y="75.8" width="1.2" height="1.2" fill="#2a2aff"/>
<rect x="593.96" y="80.78" width="1.2" height="1.2" fill="#2a2aff"/>
<rect x="597.33" y="74.6" width="1.2" height="1.2" fill="#2a2aff"/>
<rect x="597.36" y="63.21" width="1.2" height="1.2" fill="#2a2aff"/>
<rect x="609.34" y="63.87" width="1.2" height="1.2" fill="#2a2aff"/>
<rect x="603.59" y="68.11" width="1.2" height="1.2" fill="#2a2aff"/>
<rect x="600.39" y="66.36" width="1.2" height="1.2" fill="#2a2aff"/>
<rect x="596.92" y="78.44" width="1.2" height="1.2" fill="#2a2aff"/>
<rect x="608.73" y="66.07" width="1.2" height="1.2" fill="#2a2aff"/>
<rect x="599.05" y="78.63" width="1.2" height="1.2" fill="#2a2aff"/>
<rect x="595.85" y="76.97" width="1.2" height="1.2" fill="#2a2aff"/>
<rect x="595.08" y="76.23" width="1.2" height="1.2" fill="#2a2aff"/>
<rect x="601.18" y="80.48" width="1.2" height="1.2" fill="#2a2aff"/>
<rect x="600.82" y="63.65" width="1.2" height="1.2" fill="#2a2aff"/>
<rect x="602.32" y="64.29" width="1.2" height="1.2" fill="#2a2aff"/>
<rect x="602.75" y="82.57" width="1.2" height="1.2" fill="#2a2aff"/>
<rect x="601.98" y="68.13" width="1.2" height="1.2" fill="#2a2aff"/>
<rect x="604.96" y="73.17" width="1.2" height="1.2" fill="#2a2aff"/>
<rect x="592.53" y="66.81" width="1.2" height="1.2" fill="#40d040"/>
<rect x="608.52" y="67.26" width="1.2" height="1.2" fill="#40d040"/>
<rect x="600.73" y="66.91" width="1.2" height="1.2" fill="#40d040"/>
<rect x="589.88" y="65.4" width="1.2" height="1.2" fill="#40d040"/>
<rect x="602.14" y="71.87" width="1.2" height="1.2" fill="#40d040"/>
<rect x="598.96" y="50.79" width="1.2" height="1.2" fill="#40d040"/>
<rect x="607.33" y="76.48" width="1.2" height="1.2" fill="#40d040"/>
<rect x="606.14" y="81.71" width="1.2" height="1.2" fill="#40d040"/>
<rect x="597.33" y="64.56" width="1.2" height="1.2" fill="#40d040"/>
<rect x="601.89" y="85.06" width="1.2" height="1.2" fill="#40d040"/>
<rect x="589.89" y="67.93" width="1.2" height="1.2" fill="#40d040"/>
<rect x="595.71" y="75.03" width="1.2" height="1.2" fill="#40d040"/>
<rect x="622.94" y="80.43" width="1.2" height="1.2" fill="#8c8cff"/>
<rect x="592.09" y="70.3" width="1.2" height="1.2" fill="#8c8cff"/>
<rect x="606.86" y="83.11" width="1.2" height="1.2" fill="#8c8cff"/>
<rect x="619.47" y="60.8" width="1.2" height="1.2" fill="#8c8cff"/>
<rect x="613.71" y="80.01" width="1.2" height="1.2" fill="#8c8cff"/>
<rect x="615.48" y="90.44" width="1.2" height="1.2" fill="#8c8cff"/>
<rect x="614.2" y="96.65" width="1.2" height="1.2" fill="#8c8cff"/>
<rect x="622.26" y="78.02" width="1.2" height="1.2" fill="#8c8cff"/>
<rect x="594.05" y="83.26" width="1.2" height="1.2" fill="#8c8cff"/>
<rect x="612.15" y="61.62" width="1.2" height="1.2" fill="#8c8cff"/>
<rect x="587.33" y="40.96" width="1.2" height="1.2" fill="#8c8cff"/>
<rect x="608.18" y="104.33" width="1.2" height="1.2" fill="#8c8cff"/>
<rect x="584.41" y="42.57" width="1.2" height="1.2" fill="#8c8cff"/>
<rect x="573.28" y="61.87" width="1.2" height="1.2" fill="#8c8cff"/>
<rect x="578.98" y="102.73" width="1.2" height="1.2" fill="#8c8cff"/>
<rect x="563.85" y="53.13" width="1.2" height="1.2" fill="#8c8cff"/>
<rect x="567.46" y="78.6" width="1.2" height="1.2" fill="#8c8cff"/>
<rect x="610.44" y="43.46" width="1.2" height="1.2" fill="#8c8cff"/>
<rect x="564.05" y="64.41" width="1.2" height="1.2" fill="#8c8cff"/>
<rect x="597.96" y="98.2" width="1.2" height="1.2" fill="#8c8cff"/>
<rect x="562.36" y="38.15" width="1.2" height="1.2" fill="#8c8cff"/>
<rect x="572" y="46.3" width="1.2" height="1.2" fill="#8c8cff"/>
<rect x="575.3" y="83.79" width="1.2" height="1.2" fill="#8c8cff"/>
<rect x="598.66" y="46.8" width="1.2" height="1.2" fill="#8c8cff"/>
<rect x="572.02" y="51.08" width="1.2" height="1.2" fill="#8c8cff"/>
<rect x="571.21" y="86.81" width="1.2" height="1.2" fill="#8c8cff"/>
<rect x="580.26" y="71.12" width="1.2" height="1.2" fill="#8c8cff"/>
<rect x="613.11" y="65.96" width="1.2" height="1.2" fill="#8c8cff"/>
<rect x="576.93" y="96.56" width="1.2" height="1.2" fill="#8c8cff"/>
<rect x="619.43" y="55.66" width="1.2" height="1.2" fill="#8c8cff"/>
<rect x="595.58" y="101.78" width="1.2" height="1.2" fill="#8c8cff"/>
<rect x="591.37" y="46.58" width="1.2" height="1.2" fill="#8c8cff"/>
<rect x="563.23" y="101.06" width="1.2" height="1.2" fill="#8c8cff"/>
<rect x="612.09" y="58.87" width="1.2" height="1.2" fill="#8c8cff"/>
<rect x="594.29" y="68.69" width="1.2" height="1.2" fill="#8c8cff"/>
<rect x="577.85" y="104.27" width="1.2" height="1.2" fill="#8c8cff"/>
<rect x="602.74" y="47.82" width="1.2" height="1.2" fill="#8c8cff"/>
<rect x="560.71" y="65.45" width="1.2" height="1.2" fill="#8c8cff"/>
<rect x="584.15" y="89.76" width="1.2" height="1.2" fill="#8c8cff"/>
<rect x="606.36" y="75.46" width="1.2" height="1.2" fill="#8c8cff"/>
<rect x="570.22" y="41.77" width="1.2" height="1.2" fill="#8c8cff"/>
<rect x="580.92" y="49.46" width="1.2" height="1.2" fill="#8c8cff"/>
<rect x="616.5" y="68.71" width="1.2" height="1.2" fill="#8c8cff"/>
<rect x="601.4" y="104.48" width="1.2" height="1.2" fill="#8c8cff"/>
<rect x="577.32" y="70.09" width="1.2" height="1.2" fill="#8c8cff"/>
<rect x="509.97" y="72.82" width="1.2" height="1.2" fill="#8c8cff"/>
<rect x="505.05" y="74.86" width="1.2" height="1.2" fill="#8c8cff"/>
<rect x="532.92" y="74.88" width="1.2" height="1.2" fill="#8c8cff"/>
<rect x="507.72" y="52.8" width="1.2" height="1.2" fill="#8c8cff"/>
<rect x="528.65" y="45.89" width="1.2" height="1.2" fill="#8c8cff"/>
<rect x="520.84" y="60.75" width="1.2" height="1.2" fill="#8c8cff"/>
<rect x="536.53" y="65.47" width="1.2" height="1.2" fill="#8c8cff"/>
<rect x="533.29" y="54.14" width="1.2" height="1.2" fill="#8c8cff"/>
<rect x="531.05" y="58.68" width="1.2" height="1.2" fill="#8c8cff"/>
<rect x="535.25" y="45.64" width="1.2" height="1.2" fill="#8c8cff"/>
<rect x="532.27" y="50.34" width="1.2" height="1.2" fill="#8c8cff"/>
<rect x="522.93" y="63.03" width="1.2" height="1.2" fill="#8c8cff"/>
<rect x="510.2" y="75.28" width="1.2" height="1.2" fill="#8c8cff"/>
<rect x="515.28" y="54.43" width="1.2" height="1.2" fill="#8c8cff"/>
<rect x="507.51" y="54.23" width="1.2" height="1.2" fill="#8c8cff"/>
<rect x="520.42" y="70.61" width="1.2" height="1.2" fill="#8c8cff"/>
<rect x="516.87" y="69.48" width="1.2" height="1.2" fill="#8c8cff"/>
<rect x="508.49" y="57.77" width="1.2" height="1.2" fill="#8c8cff"/>
<rect x="520.24" y="80.68" width="1.2" height="1.2" fill="#8c8cff"/>
<rect x="532.38" y="68.16" width="1.2" height="1.2" fill="#8c8cff"/>
<rect x="505.41" y="57.09" width="1.2" height="1.2" fill="#8c8cff"/>
<rect x="528.43" y="51.5" width="1.2" height="1.2" fill="#8c8cff"/>
<rect x="523.62" y="60.32" width="1.2" height="1.2" fill="#8c8cff"/>
<rect x="505.35" y="81.66" width="1.2" height="1.2" fill="#8c8cff"/>
<rect x="531.38" y="50.27" width="1.2" height="1.2" fill="#8c8cff"/>
<rect x="525.33" y="53.62" width="1.2" height="1.2" fill="#8c8cff"/>
<rect x="517.41" y="63.59" width="1.2" height="1.2" fill="#8c8cff"/>
<rect x="514.84" y="55.5" width="1.2" height="1.2" fill="#8c8cff"/>
<rect x="517.94" y="68.67" width="1.2" height="1.2" fill="#8c8cff"/>
<rect x="513.46" y="50" width="1.2" height="1.2" fill="#8c8cff"/>
<rect x="594.75" y="118.95" width="1.2" height="1.2" fill="#7070ff"/>
<rect x="610.53" y="120.76" width="1.2" height="1.2" fill="#7070ff"/>
<rect x="594.23" y="118.96" width="1.2" height="1.2" fill="#7070ff"/>
<rect x="598.45" y="120.94" width="1.2" height="1.2" fill="#7070ff"/>
<rect x="599.38" y="123.88" width="1.2" height="1.2" fill="#7070ff"/>
<rect x="587.73" y="116.86" width="1.2" height="1.2" fill="#7070ff"/>
<rect x="601.19" y="126.17" width="1.2" height="1.2" fill="#7070ff"/>
<rect x="604.35" y="117.92" width="1.2" height="1.2" fill="#7070ff"/>
<rect x="603.26" y="124.04" width="1.2" height="1.2" fill="#7070ff"/>
<rect x="599.41" y="124.22" width="1.2" height="1.2" fill="#7070ff"/>
<rect x="592.11" y="123.36" width="1.2" height="1.2" fill="#7070ff"/>
<rect x="607.12" y="120.48" width="1.2" height="1.2" fill="#7070ff"/>
<rect x="578.72" y="122.08" width="1.2" height="1.2" fill="#7070ff"/>
<rect x="598.35" y="115.12" width="1.2" height="1.2" fill="#7070ff"/>
<rect x="587.88" y="124.86" width="1.2" height="1.2" fill="#7070ff"/>
<rect x="594.2" y="122.87" width="1.2" height="1.2" fill="#7070ff"/>
<rect x="580.89" y="126.13" width="1.2" height="1.2" fill="#7070ff"/>
<rect x="617.05" y="121.7" width="1.2" height="1.2" fill="#7070ff"/>
<rect x="587.21" y="117.87" width="1.2" height="1.2" fill="#7070ff"/>
<rect x="606.69" y="122.92" width="1.2" height="1.2" fill="#7070ff"/>
<rect x="586.47" y="127.35" width="1.2" height="1.2" fill="#7070ff"/>
<rect x="605.18" y="124.91" width="1.2" height="1.2" fill="#7070ff"/>
<rect x="574.88" y="122.09" width="1.2" height="1.2" fill="#7070ff"/>
<rect x="603.51" y="117.6" width="1.2" height="1.2" fill="#7070ff"/>
<rect x="607.15" y="128.22" width="1.2" height="1.2" fill="#7070ff"/>
<rect x="608.4" y="119.61" width="1.2" height="1.2" fill="#7070ff"/>
<rect x="587.51" y="126.27" width="1.2" height="1.2" fill="#7070ff"/>
<rect x="607.93" y="127.42" width="1.2" height="1.2" fill="#7070ff"/>
<rect x="610.41" y="122.1" width="1.2" height="1.2" fill="#7070ff"/>
<rect x="591.08" y="115.08" width="1.2" height="1.2" fill="#7070ff"/>
<rect x="605.41" y="131.61" width="1.2" height="1.2" fill="#7070ff"/>
<rect x="590.44" y="120.6" width="1.2" height="1.2" fill="#7070ff"/>
<rect x="603.79" y="124" width="1.2" height="1.2" fill="#7070ff"/>
<rect x="579.55" y="119.64" width="1.2" height="1.2" fill="#7070ff"/>
<rect x="582.83" y="130.59" width="1.2" height="1.2" fill="#7070ff"/>
<rect x="587.39" y="125.92" width="1.2" height="1.2" fill="#7070ff"/>
<rect x="619.01" y="130.08" width="1.2" height="1.2" fill="#7070ff"/>
<rect x="613.11" y="129.02" width="1.2" height="1.2" fill="#7070ff"/>
<rect x="581.18" y="121.12" width="1.2" height="1.2" fill="#7070ff"/>
<rect x="587.26" y="121.34" width="1.2" height="1.2" fill="#7070ff"/>
<rect x="627.45" y="115.78" width="1.2" height="1.2" fill="#7070ff"/>
<rect x="602.7" y="117.55" width="1.2" height="1.2" fill="#7070ff"/>
<rect x="612.07" y="127.7" width="1.2" height="1.2" fill="#7070ff"/>
<rect x="589.86" y="130.78" width="1.2" height="1.2" fill="#7070ff"/>
<rect x="596.9" y="127.71" width="1.2" height="1.2" fill="#7070ff"/>
<rect x="599.74" y="120.26" width="1.2" height="1.2" fill="#7070ff"/>
<rect x="591.43" y="122.03" width="1.2" height="1.2" fill="#7070ff"/>
<rect x="603.41" y="123" width="1.2" height="1.2" fill="#7070ff"/>
<rect x="624.32" y="121.73" width="1.2" height="1.2" fill="#7070ff"/>
<rect x="590.4" y="119.62" width="1.2" height="1.2" fill="#7070ff"/>
<rect x="586.68" y="116.74" width="1.2" height="1.2" fill="#7070ff"/>
<rect x="584.18" y="126.13" width="1.2" height="1.2" fill="#7070ff"/>
<rect x="596.72" y="121.81" width="1.2" height="1.2" fill="#7070ff"/>
<rect x="600.2" y="126.77" width="1.2" height="1.2" fill="#7070ff"/>
<rect x="603.39" y="125.59" width="1.2" height="1.2" fill="#7070ff"/>
<rect x="589.28" y="121.45" width="1.2" height="1.2" fill="#7070ff"/>
<rect x="586.68" y="122.11" width="1.2" height="1.2" fill="#7070ff"/>
<rect x="586.19" y="121.01" width="1.2" height="1.2" fill="#7070ff"/>
<rect x="593.9" y="121.64" width="1.2" height="1.2" fill="#7070ff"/>
<rect x="592.8" y="120.53" width="1.2" height="1.2" fill="#7070ff"/>
<rect x="611.72" y="121.13" width="1.2" height="1.2" fill="#7070ff"/>
<rect x="583.86" y="123.27" width="1.2" height="1.2" fill="#7070ff"/>
<rect x="582.93" y="118.21" width="1.2" height="1.2" fill="#7070ff"/>
<rect x="597.01" y="115.83" width="1.2" height="1.2" fill="#7070ff"/>
<rect x="557.37" y="123.65" width="1.2" height="1.2" fill="#7070ff"/>
<rect x="608.42" y="115.82" width="1.2" height="1.2" fill="#7070ff"/>
<rect x="585.23" y="124.81" width="1.2" height="1.2" fill="#7070ff"/>
<rect x="572.15" y="119" width="1.2" height="1.2" fill="#7070ff"/>
<rect x="581.55" y="121.71" width="1.2" height="1.2" fill="#7070ff"/>
<rect x="572.33" y="126.08" width="1.2" height="1.2" fill="#7070ff"/>
<rect x="594.27" y="123.71" width="1.2" height="1.2" fill="#7070ff"/>
<rect x="592.06" y="114.01" width="1.2" height="1.2" fill="#7070ff"/>
<rect x="594.17" y="117.14" width="1.2" height="1.2" fill="#7070ff"/>
<rect x="596.12" y="119.09" width="1.2" height="1.2" fill="#7070ff"/>
<rect x="592.2" y="121.66" width="1.2" height="1.2" fill="#7070ff"/>
<rect x="605.27" y="125.57" width="1.2" height="1.2" fill="#7070ff"/>
<rect x="583.94" y="122.43" width="1.2" height="1.2" fill="#7070ff"/>
<rect x="613.51" y="124.48" width="1.2" height="1.2" fill="#7070ff"/>
<rect x="587.25" y="122.01" width="1.2" height="1.2" fill="#7070ff"/>
<rect x="591.83" y="126.27" width="1.2" height="1.2" fill="#7070ff"/>
<rect x="596.4" y="124" width="1.2" height="1.2" fill="#7070ff"/>
<rect x="622.54" y="116.99" width="1.2" height="1.2" fill="#7070ff"/>
<rect x="583.83" y="115.57" width="1.2" height="1.2" fill="#7070ff"/>
<rect x="576.89" y="125.93" width="1.2" height="1.2" fill="#7070ff"/>
<rect x="599.51" y="129.02" width="1.2" height="1.2" fill="#7070ff"/>
<rect x="572.31" y="118.98" width="1.2" height="1.2" fill="#7070ff"/>
<rect x="613.33" y="126.62" width="1.2" height="1.2" fill="#7070ff"/>
<rect x="606.62" y="125.99" width="1.2" height="1.2" fill="#7070ff"/>
<rect x="596.39" y="122.46" width="1.2" height="1.2" fill="#7070ff"/>
<rect x="596.39" y="125.87" width="1.2" height="1.2" fill="#7070ff"/>
<rect x="594.05" y="123.78" width="1.2" height="1.2" fill="#7070ff"/>
<rect x="613.44" y="118" width="1.2" height="1.2" fill="#7070ff"/>
<rect x="587" y="124.76" width="1.2" height="1.2" fill="#7070ff"/>
<rect x="592.84" y="121.87" width="1.2" height="1.2" fill="#7070ff"/>
<rect x="621.18" y="124.16" width="1.2" height="1.2" fill="#7070ff"/>
<rect x="590.99" y="126.89" width="1.2" height="1.2" fill="#7070ff"/>
<rect x="626.21" y="118.06" width="1.2" height="1.2" fill="#7070ff"/>
<rect x="587.96" y="122.97" width="1.2" height="1.2" fill="#7070ff"/>
<rect x="588.37" y="131.19" width="1.2" height="1.2" fill="#7070ff"/>
<rect x="602.31" y="120.91" width="1.2" height="1.2" fill="#7070ff"/>
<rect x="601.89" y="119.32" width="1.2" height="1.2" fill="#7070ff"/>
<rect x="588.74" y="122.92" width="1.2" height="1.2" fill="#7070ff"/>
<rect x="624.65" y="113.5" width="1.2" height="1.2" fill="#7070ff"/>
<rect x="601.04" y="127.9" width="1.2" height="1.2" fill="#7070ff"/>
<rect x="604.88" y="130.19" width="1.2" height="1.2" fill="#7070ff"/>
<rect x="601.41" y="123.09" width="1.2" height="1.2" fill="#7070ff"/>
<rect x="594.42" y="119.07" width="1.2" height="1.2" fill="#7070ff"/>
<rect x="615.62" y="117.77" width="1.2" height="1.2" fill="#7070ff"/>
<rect x="594.52" y="120.4" width="1.2" height="1.2" fill="#7070ff"/>
<rect x="586.58" y="113.61" width="1.2" height="1.2" fill="#7070ff"/>
<rect x="591.42" y="123.05" width="1.2" height="1.2" fill="#7070ff"/>
<rect x="597.72" y="125.88" width="1.2" height="1.2" fill="#7070ff"/>
<rect x="594.05" y="119.94" width="1.2" height="1.2" fill="#7070ff"/>
<rect x="599.69" y="125.16" width="1.2" height="1.2" fill="#7070ff"/>
<rect x="585.15" y="116.42" width="1.2" height="1.2" fill="#7070ff"/>
<rect x="583.7" y="126.73" width="1.2" height="1.2" fill="#7070ff"/>
<rect x="607.98" y="118.95" width="1.2" height="1.2" fill="#7070ff"/>
<rect x="597.34" y="125.86" width="1.2" height="1.2" fill="#7070ff"/>
<rect x="611.94" y="119.87" width="1.2" height="1.2" fill="#7070ff"/>
<rect x="593.12" y="128.14" width="1.2" height="1.2" fill="#7070ff"/>
<rect x="624.93" y="128.62" width="1.2" height="1.2" fill="#7070ff"/>
<rect x="582.31" y="124.3" width="1.2" height="1.2" fill="#7070ff"/>
<rect x="592.41" y="122.27" width="1.2" height="1.2" fill="#7070ff"/>
<rect x="588.04" y="120.58" width="1.2" height="1.2" fill="#7070ff"/>
<rect x="595.88" y="129.71" width="1.2" height="1.2" fill="#7070ff"/>
<rect x="604.39" y="124.21" width="1.2" height="1.2" fill="#7070ff"/>
<rect x="596.32" y="119.5" width="1.2" height="1.2" fill="#7070ff"/>
<rect x="593.25" y="127.46" width="1.2" height="1.2" fill="#7070ff"/>
<rect x="605.96" y="130.36" width="1.2" height="1.2" fill="#7070ff"/>
<rect x="599.13" y="122.42" width="1.2" height="1.2" fill="#7070ff"/>
<rect x="576.58" y="124.09" width="1.2" height="1.2" fill="#7070ff"/>
<rect x="575.32" y="128.6" width="1.2" height="1.2" fill="#7070ff"/>
<rect x="588.44" y="122.5" width="1.2" height="1.2" fill="#7070ff"/>
<rect x="579.79" y="120.52" width="1.2" height="1.2" fill="#7070ff"/>
<rect x="584.82" y="127.03" width="1.2" height="1.2" fill="#7070ff"/>
<rect x="598.98" y="117.78" width="1.2" height="1.2" fill="#7070ff"/>
<rect x="572.83" y="122.23" width="1.2" height="1.2" fill="#7070ff"/>
<rect x="590.16" y="118.06" width="1.2" height="1.2" fill="#7070ff"/>
<rect x="603.08" y="121.76" width="1.2" height="1.2" fill="#7070ff"/>
<rect x="597.34" y="120.14" width="1.2" height="1.2" fill="#7070ff"/>
<rect x="589.16" y="120.66" width="1.2" height="1.2" fill="#7070ff"/>
<rect x="576.76" y="125.02" width="1.2" height="1.2" fill="#7070ff"/>
<rect x="600.84" y="115.61" width="1.2" height="1.2" fill="#7070ff"/>
<rect x="597.23" y="127.12" width="1.2" height="1.2" fill="#7070ff"/>
<rect x="598.84" y="127.68" width="1.2" height="1.2" fill="#7070ff"/>
<rect x="592.78" y="122.51" width="1.2" height="1.2" fill="#7070ff"/>
<rect x="580.4" y="118.88" width="1.2" height="1.2" fill="#7070ff"/>
<rect x="574.12" y="118.92" width="1.2" height="1.2" fill="#7070ff"/>
<rect x="598.93" y="124.58" width="1.2" height="1.2" fill="#7070ff"/>
<rect x="609.96" y="123.02" width="1.2" height="1.2" fill="#7070ff"/>
<rect x="584.12" y="124.22" width="1.2" height="1.2" fill="#7070ff"/>
<rect x="594.25" y="129.64" width="1.2" height="1.2" fill="#7070ff"/>
<rect x="619.5" y="126.34" width="1.2" height="1.2" fill="#7070ff"/>
<rect x="582.36" y="120.4" width="1.2" height="1.2" fill="#7070ff"/>
<rect x="598.29" y="119.65" width="1.2" height="1.2" fill="#7070ff"/>
<rect x="602.28" y="125.24" width="1.2" height="1.2" fill="#7070ff"/>
<rect x="606.06" y="123.41" width="1.2" height="1.2" fill="#7070ff"/>
<rect x="585.4" y="119.13" width="1.2" height="1.2" fill="#7070ff"/>
<rect x="594.52" y="127.81" width="1.2" height="1.2" fill="#7070ff"/>
<rect x="614.89" y="126.41" width="1.2" height="1.2" fill="#7070ff"/>
<rect x="600.35" y="125.2" width="1.2" height="1.2" fill="#7070ff"/>
<rect x="605.87" y="127.67" width="1.2" height="1.2" fill="#7070ff"/>
<rect x="606.27" y="116.36" width="1.2" height="1.2" fill="#7070ff"/>
<rect x="607.44" y="124.04" width="1.2" height="1.2" fill="#7070ff"/>
<rect x="590.48" y="124.6" width="1.2" height="1.2" fill="#7070ff"/>
<rect x="599.46" y="122.28" width="1.2" height="1.2" fill="#7070ff"/>
<rect x="575.73" y="122.94" width="1.2" height="1.2" fill="#7070ff"/>
<rect x="602.68" y="122.31" width="1.2" height="1.2" fill="#7070ff"/>
<rect x="576.94" y="124.33" width="1.2" height="1.2" fill="#7070ff"/>
<rect x="604.63" y="123.22" width="1.2" height="1.2" fill="#7070ff"/>
<rect x="601.11" y="121.09" width="1.2" height="1.2" fill="#7070ff"/>
<rect x="588.1" y="124.6" width="1.2" height="1.2" fill="#7070ff"/>
<rect x="591.74" y="123.23" width="1.2" height="1.2" fill="#7070ff"/>
<rect x="635.07" y="125.35" width="1.2" height="1.2" fill="#7070ff"/>
<rect x="597.63" y="116.01" width="1.2" height="1.2" fill="#7070ff"/>
<rect x="597.16" y="125.53" width="1.2" height="1.2" fill="#7070ff"/>
<rect x="587.54" y="121.55" width="1.2" height="1.2" fill="#7070ff"/>
<rect x="568.95" y="124.72" width="1.2" height="1.2" fill="#7070ff"/>
<rect x="588.86" y="125.24" width="1.2" height="1.2" fill="#7070ff"/>
<rect x="612.37" y="121.85" width="1.2" height="1.2" fill="#7070ff"/>
<rect x="607.81" y="123.5" width="1.2" height="1.2" fill="#7070ff"/>
<rect x="593.55" y="121.38" width="1.2" height="1.2" fill="#7070ff"/>
<rect x="585.78" y="127.63" width="1.2" height="1.2" fill="#7070ff"/>
<rect x="606.56" y="118.48" width="1.2" height="1.2" fill="#7070ff"/>
<rect x="606.11" y="119.58" width="1.2" height="1.2" fill="#7070ff"/>
<rect x="577.94" y="127.3" width="1.2" height="1.2" fill="#7070ff"/>
<rect x="580.65" y="127.24" width="1.2" height="1.2" fill="#7070ff"/>
<rect x="598.39" y="126.11" width="1.2" height="1.2" fill="#7070ff"/>
<rect x="602.14" y="127.12" width="1.2" height="1.2" fill="#7070ff"/>
<rect x="600.17" y="124.81" width="1.2" height="1.2" fill="#7070ff"/>
<rect x="601.49" y="125.79" width="1.2" height="1.2" fill="#2a2aff"/>
<rect x="597.65" y="125.55" width="1.2" height="1.2" fill="#2a2aff"/>
<rect x="609.04" y="122.31" width="1.2" height="1.2" fill="#2a2aff"/>
<rect x="602.64" y="120.96" width="1.2" height="1.2" fill="#2a2aff"/>
<rect x="598.27" y="123.28" width="1.2" height="1.2" fill="#2a2aff"/>
<rect x="597.95" y="119.84" width="1.2" height="1.2" fill="#2a2aff"/>
<rect x="599.82" y="123.07" width="1.2" height="1.2" fill="#2a2aff"/>
<rect x="601.94" y="124.63" width="1.2" height="1.2" fill="#2a2aff"/>
<rect x="589.36" y="126.74" width="1.2" height="1.2" fill="#2a2aff"/>
<rect x="598.97" y="120.18" width="1.2" height="1.2" fill="#2a2aff"/>
<rect x="597.77" y="123.83" width="1.2" height="1.2" fill="#2a2aff"/>
<rect x="605.22" y="121.4" width="1.2" height="1.2" fill="#2a2aff"/>
<rect x="600.95" y="117.71" width="1.2" height="1.2" fill="#2a2aff"/>
<rect x="601.02" y="122.16" width="1.2" height="1.2" fill="#2a2aff"/>
<rect x="597.41" y="125.16" width="1.2" height="1.2" fill="#2a2aff"/>
<rect x="610.76" y="125.6" width="1.2" height="1.2" fill="#2a2aff"/>
<rect x="595.31" y="127.08" width="1.2" height="1.2" fill="#2a2aff"/>
<rect x="598" y="122.38" width="1.2" height="1.2" fill="#2a2aff"/>
<rect x="596.52" y="123.87" width="1.2" height="1.2" fill="#2a2aff"/>
<rect x="603.32" y="122.94" width="1.2" height="1.2" fill="#2a2aff"/>
<rect x="598.74" y="122.07" width="1.2" height="1.2" fill="#2a2aff"/>
<rect x="597.6" y="125.41" width="1.2" height="1.2" fill="#2a2aff"/>
<rect x="596.88" y="122.06" width="1.2" height="1.2" fill="#2a2aff"/>
<rect x="598.75" y="120.26" width="1.2" height="1.2" fill="#2a2aff"/>
<rect x="598.64" y="118.11" width="1.2" height="1.2" fill="#2a2aff"/>
<rect x="602.45" y="124.12" width="1.2" height="1.2" fill="#2a2aff"/>
<rect x="598.2" y="127.15" width="1.2" height="1.2" fill="#2a2aff"/>
<rect x="595.09" y="124.16" width="1.2" height="1.2" fill="#2a2aff"/>
<rect x="602.86" y="120.9" width="1.2" height="1.2" fill="#2a2aff"/>
<rect x="598.56" y="125.16" width="1.2" height="1.2" fill="#2a2aff"/>
<rect x="600.37" y="123.34" width="1.2" height="1.2" fill="#2a2aff"/>
<rect x="608.37" y="123.15" width="1.2" height="1.2" fill="#2a2aff"/>
<rect x="590.01" y="120.3" width="1.2" height="1.2" fill="#2a2aff"/>
<rect x="604.99" y="122.11" width="1.2" height="1.2" fill="#2a2aff"/>
<rect x="593.55" y="116.59" width="1.2" height="1.2" fill="#2a2aff"/>
<rect x="601.93" y="126.98" width="1.2" height="1.2" fill="#2a2aff"/>
<rect x="592.52" y="116.03" width="1.2" height="1.2" fill="#2a2aff"/>
<rect x="602.97" y="120.89" width="1.2" height="1.2" fill="#2a2aff"/>
<rect x="598.25" y="121.54" width="1.2" height="1.2" fill="#2a2aff"/>
<rect x="594.62" y="123.81" width="1.2" height="1.2" fill="#2a2aff"/>
<rect x="605.48" y="123.59" width="1.2" height="1.2" fill="#2a2aff"/>
<rect x="596.68" y="125.6" width="1.2" height="1.2" fill="#2a2aff"/>
<rect x="599.34" y="124.23" width="1.2" height="1.2" fill="#2a2aff"/>
<rect x="594.43" y="124.46" width="1.2" height="1.2" fill="#2a2aff"/>
<rect x="604.44" y="126.34" width="1.2" height="1.2" fill="#2a2aff"/>
<rect x="600.17" y="123.82" width="1.2" height="1.2" fill="#2a2aff"/>
<rect x="596.57" y="125.13" width="1.2" height="1.2" fill="#2a2aff"/>
<rect x="604.63" y="125.72" width="1.2" height="1.2" fill="#2a2aff"/>
<rect x="597.71" y="118.87" width="1.2" height="1.2" fill="#2a2aff"/>
<rect x="599.6" y="121.88" width="1.2" height="1.2" fill="#2a2aff"/>
<rect x="595.57" y="124.3" width="1.2" height="1.2" fill="#2a2aff"/>
<rect x="605.64" y="123.68" width="1.2" height="1.2" fill="#2a2aff"/>
<rect x="606.61" y="123.68" width="1.2" height="1.2" fill="#2a2aff"/>
<rect x="594.21" y="120.77" width="1.2" height="1.2" fill="#2a2aff"/>
<rect x="597.9" y="124.54" width="1.2" height="1.2" fill="#2a2aff"/>
<rect x="605.48" y="122.91" width="1.2" height="1.2" fill="#2a2aff"/>
<rect x="606.03" y="120.06" width="1.2" height="1.2" fill="#2a2aff"/>
<rect x="599.33" y="126.94" width="1.2" height="1.2" fill="#2a2aff"/>
<rect x="602.64" y="125.61" width="1.2" height="1.2" fill="#2a2aff"/>
<rect x="588.82" y="117.56" width="1.2" height="1.2" fill="#2a2aff"/>
<rect x="556.42" y="124.22" width="1.2" height="1.2" fill="#8c8cff"/>
<rect x="577.87" y="127.34" width="1.2" height="1.2" fill="#8c8cff"/>
<rect x="566.21" y="124.93" width="1.2" height="1.2" fill="#8c8cff"/>
<rect x="558.21" y="121.65" width="1.2" height="1.2" fill="#8c8cff"/>
<rect x="553.22" y="128.27" width="1.2" height="1.2" fill="#8c8cff"/>
<rect x="575.55" y="121.11" width="1.2" height="1.2" fill="#8c8cff"/>
<rect x="576.66" y="115.61" width="1.2" height="1.2" fill="#8c8cff"/>
<rect x="548.03" y="123.11" width="1.2" height="1.2" fill="#8c8cff"/>
<rect x="554.42" y="120.77" width="1.2" height="1.2" fill="#8c8cff"/>
<rect x="579.15" y="117.4" width="1.2" height="1.2" fill="#8c8cff"/>
<rect x="550.12" y="118.66" width="1.2" height="1.2" fill="#8c8cff"/>
<rect x="568.17" y="118.75" width="1.2" height="1.2" fill="#8c8cff"/>
<rect x="543.03" y="123.7" width="1.2" height="1.2" fill="#8c8cff"/>
<rect x="557.57" y="118.83" width="1.2" height="1.2" fill="#8c8cff"/>
<rect x="561.26" y="125.4" width="1.2" height="1.2" fill="#8c8cff"/>
<rect x="563.28" y="124.99" width="1.2" height="1.2" fill="#8c8cff"/>
<rect x="563.75" y="128.3" width="1.2" height="1.2" fill="#8c8cff"/>
<rect x="578.85" y="120.34" width="1.2" height="1.2" fill="#8c8cff"/>
<rect x="555.83" y="129.18" width="1.2" height="1.2" fill="#8c8cff"/>
<rect x="554.59" y="126.46" width="1.2" height="1.2" fill="#8c8cff"/>
<rect x="568.73" y="125.98" width="1.2" height="1.2" fill="#8c8cff"/>
<rect x="578.66" y="128.19" width="1.2" height="1.2" fill="#8c8cff"/>
<rect x="548.9" y="124.95" width="1.2" height="1.2" fill="#8c8cff"/>
<rect x="561.15" y="124.02" width="1.2" height="1.2" fill="#8c8cff"/>
<rect x="556.67" y="119.57" width="1.2" height="1.2" fill="#8c8cff"/>
<rect x="570.71" y="123.54" width="1.2" height="1.2" fill="#8c8cff"/>
<rect x="551.77" y="118.99" width="1.2" height="1.2" fill="#8c8cff"/>
<rect x="555.02" y="117.84" width="1.2" height="1.2" fill="#8c8cff"/>
<rect x="562.01" y="117.02" width="1.2" height="1.2" fill="#8c8cff"/>
<rect x="545.34" y="116.1" width="1.2" height="1.2" fill="#8c8cff"/>
<rect x="546.78" y="126.28" width="1.2" height="1.2" fill="#8c8cff"/>
<rect x="547.17" y="122.23" width="1.2" height="1.2" fill="#8c8cff"/>
<rect x="571.57" y="122.69" width="1.2" height="1.2" fill="#8c8cff"/>
<rect x="549.02" y="128.86" width="1.2" height="1.2" fill="#8c8cff"/>
<rect x="575.18" y="115.86" width="1.2" height="1.2" fill="#8c8cff"/>
<rect x="552.39" y="123.12" width="1.2" height="1.2" fill="#8c8cff"/>
<rect x="572.47" y="121.28" width="1.2" height="1.2" fill="#8c8cff"/>
<rect x="569.49" y="119.03" width="1.2" height="1.2" fill="#8c8cff"/>
<rect x="569.48" y="120.23" width="1.2" height="1.2" fill="#8c8cff"/>
<rect x="555.35" y="127.15" width="1.2" height="1.2" fill="#8c8cff"/>
<rect x="574.18" y="128.26" width="1.2" height="1.2" fill="#8c8cff"/>
<rect x="564" y="121.73" width="1.2" height="1.2" fill="#8c8cff"/>
<rect x="569.16" y="124.97" width="1.2" height="1.2" fill="#8c8cff"/>
<rect x="573.75" y="127.82" width="1.2" height="1.2" fill="#8c8cff"/>
<rect x="547.63" y="121.03" width="1.2" height="1.2" fill="#8c8cff"/>
<rect x="522.92" y="122.72" width="1.2" height="1.2" fill="#3a3aff"/>
<rect x="524.8" y="125.55" width="1.2" height="1.2" fill="#3a3aff"/>
<rect x="515.3" y="120.62" width="1.2" height="1.2" fill="#3a3aff"/>
<rect x="526.87" y="124.64" width="1.2" height="1.2" fill="#3a3aff"/>
<rect x="522.71" y="121.53" width="1.2" height="1.2" fill="#3a3aff"/>
<rect x="521.43" y="122.34" width="1.2" height="1.2" fill="#3a3aff"/>
<rect x="536.82" y="120.61" width="1.2" height="1.2" fill="#3a3aff"/>
<rect x="531.28" y="126.71" width="1.2" height="1.2" fill="#3a3aff"/>
<rect x="525.47" y="125.72" width="1.2" height="1.2" fill="#3a3aff"/>
<rect x="522.86" y="130.69" width="1.2" height="1.2" fill="#3a3aff"/>
<rect x="526.78" y="124.93" width="1.2" height="1.2" fill="#3a3aff"/>
<rect x="524" y="125.73" width="1.2" height="1.2" fill="#3a3aff"/>
<rect x="519.51" y="123.91" width="1.2" height="1.2" fill="#3a3aff"/>
<rect x="521.79" y="127.21" width="1.2" height="1.2" fill="#3a3aff"/>
<rect x="527.18" y="118.47" width="1.2" height="1.2" fill="#3a3aff"/>
<rect x="523.56" y="128.51" width="1.2" height="1.2" fill="#3a3aff"/>
<rect x="518.84" y="120.87" width="1.2" height="1.2" fill="#3a3aff"/>
<rect x="528.94" y="124.57" width="1.2" height="1.2" fill="#3a3aff"/>
<rect x="522.55" y="120.75" width="1.2" height="1.2" fill="#3a3aff"/>
<rect x="525.29" y="123.07" width="1.2" height="1.2" fill="#3a3aff"/>
<rect x="525.47" y="126.53" width="1.2" height="1.2" fill="#3a3aff"/>
<rect x="527.63" y="123.89" width="1.2" height="1.2" fill="#3a3aff"/>
<rect x="522.23" y="125.13" width="1.2" height="1.2" fill="#3a3aff"/>
<rect x="524.1" y="125.64" width="1.2" height="1.2" fill="#3a3aff"/>
<rect x="522.21" y="124.19" width="1.2" height="1.2" fill="#3a3aff"/>
<rect x="521.96" y="122.96" width="1.2" height="1.2" fill="#3a3aff"/>
<rect x="525.23" y="129.09" width="1.2" height="1.2" fill="#3a3aff"/>
<rect x="522.18" y="127.08" width="1.2" height="1.2" fill="#3a3aff"/>
<rect x="526.06" y="125.42" width="1.2" height="1.2" fill="#3a3aff"/>
<rect x="527.52" y="123.07" width="1.2" height="1.2" fill="#3a3aff"/>
<rect x="527.02" y="126.08" width="1.2" height="1.2" fill="#3a3aff"/>
<rect x="509.17" y="126.28" width="1.2" height="1.2" fill="#3a3aff"/>
<rect x="527.18" y="131.91" width="1.2" height="1.2" fill="#3a3aff"/>
<rect x="519.87" y="125.37" width="1.2" height="1.2" fill="#3a3aff"/>
<rect x="526.08" y="121.61" width="1.2" height="1.2" fill="#3a3aff"/>
<rect x="529.82" y="126.61" width="1.2" height="1.2" fill="#3a3aff"/>
<rect x="521.03" y="120.81" width="1.2" height="1.2" fill="#3a3aff"/>
<rect x="522.7" y="133.39" width="1.2" height="1.2" fill="#3a3aff"/>
<rect x="534.04" y="116.3" width="1.2" height="1.2" fill="#3a3aff"/>
<rect x="516.51" y="127.38" width="1.2" height="1.2" fill="#3a3aff"/>
<rect x="524.06" y="122.79" width="1.2" height="1.2" fill="#3a3aff"/>
<rect x="527.2" y="125.37" width="1.2" height="1.2" fill="#3a3aff"/>
<rect x="525.8" y="125.96" width="1.2" height="1.2" fill="#3a3aff"/>
<rect x="519.74" y="129.67" width="1.2" height="1.2" fill="#3a3aff"/>
<rect x="522.51" y="129.02" width="1.2" height="1.2" fill="#3a3aff"/>
<rect x="527.58" y="125.16" width="1.2" height="1.2" fill="#3a3aff"/>
<rect x="525.15" y="124.86" width="1.2" height="1.2" fill="#3a3aff"/>
<rect x="516.42" y="123.88" width="1.2" height="1.2" fill="#3a3aff"/>
<rect x="526.43" y="119.34" width="1.2" height="1.2" fill="#3a3aff"/>
<rect x="517.96" y="128.84" width="1.2" height="1.2" fill="#3a3aff"/>
<rect x="528.1" y="119.57" width="1.2" height="1.2" fill="#3a3aff"/>
<rect x="526.57" y="124.85" width="1.2" height="1.2" fill="#3a3aff"/>
<rect x="528.85" y="123.88" width="1.2" height="1.2" fill="#3a3aff"/>
<rect x="523.55" y="122.37" width="1.2" height="1.2" fill="#3a3aff"/>
<rect x="525.33" y="124.58" width="1.2" height="1.2" fill="#3a3aff"/>
<rect x="521.64" y="123.8" width="1.2" height="1.2" fill="#3a3aff"/>
<rect x="521.2" y="127.23" width="1.2" height="1.2" fill="#3a3aff"/>
<rect x="519.97" y="119.52" width="1.2" height="1.2" fill="#3a3aff"/>
<rect x="520.27" y="128.86" width="1.2" height="1.2" fill="#3a3aff"/>
<rect x="522.29" y="127.31" width="1.2" height="1.2" fill="#3a3aff"/>
<rect x="527.78" y="123.22" width="1.2" height="1.2" fill="#3a3aff"/>
<rect x="527.87" y="126.81" width="1.2" height="1.2" fill="#3a3aff"/>
<rect x="524.34" y="122.52" width="1.2" height="1.2" fill="#3a3aff"/>
<rect x="524.26" y="120.48" width="1.2" height="1.2" fill="#3a3aff"/>
<rect x="523.31" y="122.96" width="1.2" height="1.2" fill="#3a3aff"/>
<rect x="526.47" y="126.23" width="1.2" height="1.2" fill="#3a3aff"/>
<rect x="521.68" y="128.09" width="1.2" height="1.2" fill="#3a3aff"/>
<rect x="529.81" y="125.25" width="1.2" height="1.2" fill="#3a3aff"/>
<rect x="521.25" y="126.81" width="1.2" height="1.2" fill="#3a3aff"/>
<rect x="513.7" y="122.95" width="1.2" height="1.2" fill="#3a3aff"/>
<rect x="527.11" y="132.12" width="1.2" height="1.2" fill="#3a3aff"/>
<rect x="521.25" y="130.44" width="1.2" height="1.2" fill="#3a3aff"/>
<rect x="534.85" y="131.71" width="1.2" height="1.2" fill="#3a3aff"/>
<rect x="514.06" y="128.92" width="1.2" height="1.2" fill="#3a3aff"/>
<rect x="525.37" y="128.62" width="1.2" height="1.2" fill="#3a3aff"/>
<rect x="523.73" y="122.83" width="1.2" height="1.2" fill="#3a3aff"/>
<rect x="523.51" y="130.36" width="1.2" height="1.2" fill="#3a3aff"/>
<rect x="528.26" y="123.98" width="1.2" height="1.2" fill="#3a3aff"/>
<rect x="526.22" y="128.09" width="1.2" height="1.2" fill="#3a3aff"/>
<rect x="527.04" y="124.87" width="1.2" height="1.2" fill="#3a3aff"/>
<rect x="521.59" y="122.37" width="1.2" height="1.2" fill="#3a3aff"/>
<rect x="522.58" y="123.05" width="1.2" height="1.2" fill="#3a3aff"/>
<rect x="517.49" y="119.98" width="1.2" height="1.2" fill="#3a3aff"/>
<rect x="528.42" y="121.02" width="1.2" height="1.2" fill="#3a3aff"/>
<rect x="518.67" y="124.86" width="1.2" height="1.2" fill="#3a3aff"/>
<rect x="530.97" y="129.51" width="1.2" height="1.2" fill="#3a3aff"/>
<rect x="522.68" y="121.32" width="1.2" height="1.2" fill="#3a3aff"/>
<rect x="522.12" y="121.76" width="1.2" height="1.2" fill="#3a3aff"/>
<rect x="522.06" y="126.73" width="1.2" height="1.2" fill="#3a3aff"/>
<rect x="519.77" y="122.22" width="1.2" height="1.2" fill="#3a3aff"/>
<rect x="523.35" y="124.91" width="1.2" height="1.2" fill="#3a3aff"/>
<rect x="521.09" y="122.19" width="1.2" height="1.2" fill="#3a3aff"/>
<rect x="519.46" y="122.32" width="1.2" height="1.2" fill="#3a3aff"/>
<rect x="526.85" y="124.14" width="1.2" height="1.2" fill="#3a3aff"/>
<rect x="510.62" y="127.21" width="1.2" height="1.2" fill="#3a3aff"/>
<rect x="524.21" y="121.89" width="1.2" height="1.2" fill="#3a3aff"/>
<rect x="523.37" y="114.18" width="1.2" height="1.2" fill="#3a3aff"/>
<rect x="517.11" y="129.18" width="1.2" height="1.2" fill="#3a3aff"/>
<rect x="534.06" y="132.81" width="1.2" height="1.2" fill="#3a3aff"/>
<rect x="521.22" y="125.15" width="1.2" height="1.2" fill="#3a3aff"/>
<rect x="528" y="120.6" width="1.2" height="1.2" fill="#3a3aff"/>
<rect x="532.32" y="122.42" width="1.2" height="1.2" fill="#3a3aff"/>
<rect x="526.09" y="120.88" width="1.2" height="1.2" fill="#3a3aff"/>
<rect x="526.15" y="124.95" width="1.2" height="1.2" fill="#3a3aff"/>
<rect x="529.36" y="120.86" width="1.2" height="1.2" fill="#3a3aff"/>
<rect x="524.46" y="131.53" width="1.2" height="1.2" fill="#3a3aff"/>
<rect x="519.15" y="126.27" width="1.2" height="1.2" fill="#3a3aff"/>
<rect x="526.47" y="123.22" width="1.2" height="1.2" fill="#3a3aff"/>
<rect x="523.3" y="130.08" width="1.2" height="1.2" fill="#3a3aff"/>
<rect x="529.63" y="127.04" width="1.2" height="1.2" fill="#3a3aff"/>
<rect x="525.71" y="120.93" width="1.2" height="1.2" fill="#3a3aff"/>
<rect x="524.92" y="131.45" width="1.2" height="1.2" fill="#3a3aff"/>
<rect x="529.24" y="120.12" width="1.2" height="1.2" fill="#3a3aff"/>
<rect x="515.19" y="122.62" width="1.2" height="1.2" fill="#3a3aff"/>
<rect x="525.25" y="123.02" width="1.2" height="1.2" fill="#3a3aff"/>
<rect x="523.12" y="126.24" width="1.2" height="1.2" fill="#3a3aff"/>
<rect x="528.54" y="125.76" width="1.2" height="1.2" fill="#3a3aff"/>
<rect x="530.13" y="119.88" width="1.2" height="1.2" fill="#3a3aff"/>
<rect x="526.61" y="126.53" width="1.2" height="1.2" fill="#3a3aff"/>
<rect x="517.8" y="129.51" width="1.2" height="1.2" fill="#3a3aff"/>
<rect x="517.31" y="119.8" width="1.2" height="1.2" fill="#3a3aff"/>
<rect x="536.53" y="129.67" width="1.2" height="1.2" fill="#3a3aff"/>
<rect x="526.2" y="129.88" width="1.2" height="1.2" fill="#3a3aff"/>
<rect x="529.68" y="120.93" width="1.2" height="1.2" fill="#3a3aff"/>
<rect x="526.68" y="130.06" width="1.2" height="1.2" fill="#3a3aff"/>
<rect x="523.78" y="125.27" width="1.2" height="1.2" fill="#3a3aff"/>
<rect x="522.41" y="127.65" width="1.2" height="1.2" fill="#3a3aff"/>
<rect x="522.01" y="122.88" width="1.2" height="1.2" fill="#3a3aff"/>
<rect x="518.97" y="121.65" width="1.2" height="1.2" fill="#3a3aff"/>
<rect x="525.49" y="126.71" width="1.2" height="1.2" fill="#3a3aff"/>
<rect x="522.91" y="122.48" width="1.2" height="1.2" fill="#30c030"/>
<rect x="524.96" y="125.86" width="1.2" height="1.2" fill="#30c030"/>
<rect x="527.58" y="123.81" width="1.2" height="1.2" fill="#30c030"/>
<rect x="522.84" y="126.24" width="1.2" height="1.2" fill="#30c030"/>
<rect x="528.29" y="124.88" width="1.2" height="1.2" fill="#30c030"/>
<rect x="523.77" y="122.74" width="1.2" height="1.2" fill="#30c030"/>
<rect x="522.94" y="127.28" width="1.2" height="1.2" fill="#30c030"/>
<rect x="526.4" y="127.7" width="1.2" height="1.2" fill="#30c030"/>
<rect x="519.38" y="127.03" width="1.2" height="1.2" fill="#30c030"/>
<rect x="521.4" y="126.43" width="1.2" height="1.2" fill="#30c030"/>
<rect x="517.33" y="124.77" width="1.2" height="1.2" fill="#30c030"/>
<rect x="521.51" y="128.08" width="1.2" height="1.2" fill="#30c030"/>
<rect x="524.35" y="128.14" width="1.2" height="1.2" fill="#30c030"/>
<rect x="522.76" y="129.76" width="1.2" height="1.2" fill="#30c030"/>
<rect x="522.75" y="129.59" width="1.2" height="1.2" fill="#30c030"/>
<rect x="522.63" y="122.63" width="1.2" height="1.2" fill="#30c030"/>
<rect x="526.54" y="124.04" width="1.2" height="1.2" fill="#30c030"/>
<rect x="523.84" y="121.75" width="1.2" height="1.2" fill="#30c030"/>
<rect x="523.03" y="125.28" width="1.2" height="1.2" fill="#30c030"/>
<rect x="522.01" y="125.95" width="1.2" height="1.2" fill="#30c030"/>
<rect x="517.51" y="127.17" width="1.2" height="1.2" fill="#30c030"/>
<rect x="522.85" y="128.56" width="1.2" height="1.2" fill="#30c030"/>
<rect x="523.01" y="123.41" width="1.2" height="1.2" fill="#30c030"/>
<rect x="522.73" y="125.67" width="1.2" height="1.2" fill="#30c030"/>
<rect x="525.69" y="123.88" width="1.2" height="1.2" fill="#30c030"/>
<rect x="521.75" y="126.05" width="1.2" height="1.2" fill="#30c030"/>
<rect x="526.34" y="120.77" width="1.2" height="1.2" fill="#30c030"/>
<rect x="521.04" y="123.37" width="1.2" height="1.2" fill="#30c030"/>
<rect x="528.84" y="127.99" width="1.2" height="1.2" fill="#30c030"/>
<rect x="526.26" y="126.2" width="1.2" height="1.2" fill="#30c030"/>
<rect x="520.84" y="127.73" width="1.2" height="1.2" fill="#30c030"/>
<rect x="522.75" y="123.07" width="1.2" height="1.2" fill="#30c030"/>
<rect x="529.49" y="121.49" width="1.2" height="1.2" fill="#30c030"/>
<rect x="527.92" y="125.49" width="1.2" height="1.2" fill="#30c030"/>
<rect x="521.4" y="125.44" width="1.2" height="1.2" fill="#30c030"/>
<rect x="521.62" y="125.46" width="1.2" height="1.2" fill="#30c030"/>
<rect x="522.18" y="122.12" width="1.2" height="1.2" fill="#30c030"/>
<rect x="531.53" y="123.79" width="1.2" height="1.2" fill="#30c030"/>
<rect x="526.8" y="124.89" width="1.2" height="1.2" fill="#30c030"/>
<rect x="525.92" y="121.94" width="1.2" height="1.2" fill="#30c030"/>
<rect x="521.05" y="117.05" width="1.2" height="1.2" fill="#30c030"/>
<rect x="526.85" y="126.09" width="1.2" height="1.2" fill="#30c030"/>
<rect x="520.67" y="127.04" width="1.2" height="1.2" fill="#30c030"/>
<rect x="525.69" y="132.12" width="1.2" height="1.2" fill="#30c030"/>
<rect x="524.68" y="127.23" width="1.2" height="1.2" fill="#30c030"/>
<rect x="525.75" y="126.88" width="1.2" height="1.2" fill="#30c030"/>
<rect x="523.94" y="124" width="1.2" height="1.2" fill="#30c030"/>
<rect x="526.02" y="128.01" width="1.2" height="1.2" fill="#30c030"/>
<rect x="520.7" y="122.24" width="1.2" height="1.2" fill="#30c030"/>
<rect x="523.89" y="129.38" width="1.2" height="1.2" fill="#30c030"/>
<rect x="523.42" y="120.88" width="1.2" height="1.2" fill="#30c030"/>
<rect x="526.3" y="126.84" width="1.2" height="1.2" fill="#30c030"/>
<rect x="529.52" y="125.47" width="1.2" height="1.2" fill="#30c030"/>
<rect x="529.6" y="123.26" width="1.2" height="1.2" fill="#30c030"/>
<rect x="526.57" y="125.34" width="1.2" height="1.2" fill="#30c030"/>
<rect x="520.63" y="124.34" width="1.2" height="1.2" fill="#30c030"/>
<rect x="527.78" y="127.72" width="1.2" height="1.2" fill="#30c030"/>
<rect x="522.94" y="127.71" width="1.2" height="1.2" fill="#30c030"/>
<rect x="526.57" y="127.19" width="1.2" height="1.2" fill="#30c030"/>
<rect x="524.83" y="125.75" width="1.2" height="1.2" fill="#30c030"/>
<rect x="521.67" y="124.85" width="1.2" height="1.2" fill="#30c030"/>
<rect x="524.36" y="123.22" width="1.2" height="1.2" fill="#30c030"/>
<rect x="523.2" y="125.41" width="1.2" height="1.2" fill="#30c030"/>
<rect x="524.62" y="127.58" width="1.2" height="1.2" fill="#30c030"/>
<rect x="521.1" y="124.05" width="1.2" height="1.2" fill="#30c030"/>
<rect x="524.78" y="124.09" width="1.2" height="1.2" fill="#30c030"/>
<rect x="524.96" y="123.87" width="1.2" height="1.2" fill="#30c030"/>
<rect x="527.36" y="124.46" width="1.2" height="1.2" fill="#30c030"/>
<rect x="520.79" y="126.83" width="1.2" height="1.2" fill="#30c030"/>
<rect x="528.73" y="120.33" width="1.2" height="1.2" fill="#30c030"/>
<rect x="523.65" y="125.18" width="1.2" height="1.2" fill="#30c030"/>
<rect x="526.94" y="128.65" width="1.2" height="1.2" fill="#30c030"/>
<rect x="523.57" y="121.23" width="1.2" height="1.2" fill="#30c030"/>
<rect x="525.91" y="127.46" width="1.2" height="1.2" fill="#30c030"/>
<rect x="525.33" y="125.21" width="1.2" height="1.2" fill="#30c030"/>
<rect x="521.71" y="130.93" width="1.2" height="1.2" fill="#30c030"/>
<rect x="520.62" y="121.36" width="1.2" height="1.2" fill="#30c030"/>
<rect x="526.78" y="125.71" width="1.2" height="1.2" fill="#30c030"/>
<rect x="525.92" y="125.88" width="1.2" height="1.2" fill="#30c030"/>
<rect x="528.79" y="128.47" width="1.2" height="1.2" fill="#30c030"/>
<rect x="522.46" y="127.45" width="1.2" height="1.2" fill="#30c030"/>
<rect x="520.69" y="120.87" width="1.2" height="1.2" fill="#30c030"/>
<rect x="527.42" y="123.97" width="1.2" height="1.2" fill="#30c030"/>
<rect x="517.94" y="124.97" width="1.2" height="1.2" fill="#30c030"/>
<rect x="522.14" y="126.25" width="1.2" height="1.2" fill="#30c030"/>
<rect x="523.85" y="123.15" width="1.2" height="1.2" fill="#30c030"/>
<rect x="522" y="126.88" width="1.2" height="1.2" fill="#30c030"/>
<rect x="521.39" y="125.33" width="1.2" height="1.2" fill="#30c030"/>
<rect x="521.22" y="126.11" width="1.2" height="1.2" fill="#30c030"/>
<rect x="529.07" y="126.4" width="1.2" height="1.2" fill="#30c030"/>
<rect x="525.54" y="126.24" width="1.2" height="1.2" fill="#e8e020"/>
<rect x="521.76" y="125.02" width="1.2" height="1.2" fill="#e8e020"/>
<rect x="523.64" y="126.22" width="1.2" height="1.2" fill="#e8e020"/>
<rect x="522.42" y="126.5" width="1.2" height="1.2" fill="#e8e020"/>
<rect x="522.2" y="125.62" width="1.2" height="1.2" fill="#e8e020"/>
<rect x="523.49" y="123.65" width="1.2" height="1.2" fill="#e8e020"/>
<rect x="525.34" y="125.59" width="1.2" height="1.2" fill="#e8e020"/>
<rect x="523.71" y="125.46" width="1.2" height="1.2" fill="#e8e020"/>
<rect x="519.68" y="123.25" width="1.2" height="1.2" fill="#e8e020"/>
<rect x="521.89" y="127.11" width="1.2" height="1.2" fill="#e8e020"/>
<rect x="522.46" y="126.49" width="1.2" height="1.2" fill="#e8e020"/>
<rect x="521.64" y="124.15" width="1.2" height="1.2" fill="#e8e020"/>
<rect x="522.66" y="127.22" width="1.2" height="1.2" fill="#e8e020"/>
<rect x="520.5" y="125.23" width="1.2" height="1.2" fill="#e8e020"/>
<rect x="524.25" y="125.73" width="1.2" height="1.2" fill="#e8e020"/>
<rect x="523.48" y="126.77" width="1.2" height="1.2" fill="#e8e020"/>
<rect x="524.04" y="123.88" width="1.2" height="1.2" fill="#e8e020"/>
<rect x="524.66" y="124.25" width="1.2" height="1.2" fill="#e8e020"/>
<rect x="522.89" y="127.85" width="1.2" height="1.2" fill="#e8e020"/>
<rect x="527.95" y="127.86" width="1.2" height="1.2" fill="#e8e020"/>
<rect x="524.29" y="124.26" width="1.2" height="1.2" fill="#e8e020"/>
<rect x="522.13" y="128.2" width="1.2" height="1.2" fill="#e8e020"/>
<rect x="524.12" y="123.27" width="1.2" height="1.2" fill="#e8e020"/>
<rect x="526.36" y="126.45" width="1.2" height="1.2" fill="#e8e020"/>
<rect x="525.91" y="126.16" width="1.2" height="1.2" fill="#e8e020"/>
<rect x="519.6" y="124.32" width="1.2" height="1.2" fill="#e8e020"/>
<rect x="523.25" y="125.24" width="1.2" height="1.2" fill="#e8e020"/>
<rect x="526.26" y="124.43" width="1.2" height="1.2" fill="#e8e020"/>
<rect x="523.33" y="125.42" width="1.2" height="1.2" fill="#e8e020"/>
<rect x="523.35" y="123.84" width="1.2" height="1.2" fill="#e8e020"/>
<rect x="521.29" y="121.35" width="1.2" height="1.2" fill="#e8e020"/>
<rect x="524.12" y="125.18" width="1.2" height="1.2" fill="#e8e020"/>
<rect x="523.88" y="123.81" width="1.2" height="1.2" fill="#e8e020"/>
<rect x="523.52" y="123.94" width="1.2" height="1.2" fill="#e8e020"/>
<rect x="521.67" y="126.05" width="1.2" height="1.2" fill="#e8e020"/>
<rect x="524.67" y="126.45" width="1.2" height="1.2" fill="#e8e020"/>
<rect x="523.43" y="124.89" width="1.2" height="1.2" fill="#e8e020"/>
<rect x="526.05" y="127.52" width="1.2" height="1.2" fill="#e8e020"/>
<rect x="522.36" y="123.76" width="1.2" height="1.2" fill="#e8e020"/>
<rect x="524.18" y="126.02" width="1.2" height="1.2" fill="#e8e020"/>
<rect x="521.85" y="129.19" width="1.2" height="1.2" fill="#e8e020"/>
<rect x="519.72" y="124.16" width="1.2" height="1.2" fill="#e8e020"/>
<rect x="523.95" y="127.11" width="1.2" height="1.2" fill="#e8e020"/>
<rect x="520.15" y="124.81" width="1.2" height="1.2" fill="#e8e020"/>
<rect x="526.12" y="127.78" width="1.2" height="1.2" fill="#e8e020"/>
<rect x="523.25" y="126.04" width="1.2" height="1.2" fill="#ff4010"/>
<rect x="522.61" y="126.4" width="1.2" height="1.2" fill="#ff4010"/>
<rect x="522.45" y="123.96" width="1.2" height="1.2" fill="#ff4010"/>
<rect x="521.97" y="126.06" width="1.2" height="1.2" fill="#ff4010"/>
<rect x="522.18" y="127.12" width="1.2" height="1.2" fill="#ff4010"/>
<rect x="524.8" y="127.01" width="1.2" height="1.2" fill="#ff4010"/>
<rect x="524.17" y="127.15" width="1.2" height="1.2" fill="#ff4010"/>
<rect x="523.77" y="126.88" width="1.2" height="1.2" fill="#ff4010"/>
<rect x="523.98" y="126.8" width="1.2" height="1.2" fill="#ff4010"/>
<rect x="522.48" y="125.34" width="1.2" height="1.2" fill="#ff4010"/>
<rect x="522.5" y="126.84" width="1.2" height="1.2" fill="#ff4010"/>
<rect x="524.02" y="125.21" width="1.2" height="1.2" fill="#ff4010"/>
<rect x="522.51" y="125.42" width="1.2" height="1.2" fill="#ff4010"/>
<rect x="524.39" y="125.89" width="1.2" height="1.2" fill="#ff4010"/>
<rect x="523.26" y="125.31" width="1.2" height="1.2" fill="#ff4010"/>
<rect x="523.39" y="127.62" width="1.2" height="1.2" fill="#ff4010"/>
<rect x="522.81" y="125.65" width="1.2" height="1.2" fill="#ff4010"/>
<rect x="525.22" y="126.73" width="1.2" height="1.2" fill="#ff4010"/>
<rect x="522.36" y="127.1" width="1.2" height="1.2" fill="#ff4010"/>
<rect x="522.24" y="126.57" width="1.2" height="1.2" fill="#ff4010"/>
<rect x="520.96" y="125" width="1.2" height="1.2" fill="#ff4010"/>
<rect x="524.43" y="125.41" width="1.2" height="1.2" fill="#ff4010"/>
<rect x="522.78" y="126.06" width="1.2" height="1.2" fill="#ff4010"/>
<rect x="523.51" y="125.54" width="1.2" height="1.2" fill="#ff4010"/>
<rect x="522.83" y="127.82" width="1.2" height="1.2" fill="#ff4010"/>
</g>
<line x1="487" y1="6.4" x2="646.3" y2="6.4" stroke="#444" stroke-width="1.0" />
<line x1="646.3" y1="6.4" x2="646.3" y2="165.8" stroke="#444" stroke-width="1.0" />
<line x1="487" y1="6.4" x2="487" y2="165.8" stroke="#8a8a8a" stroke-width="1.3" />
<line x1="487" y1="165.8" x2="646.3" y2="165.8" stroke="#333" stroke-width="1.3" />
<line x1="540.8" y1="6.4" x2="540.8" y2="165.8" stroke="#000" stroke-width="1.5" />
<line x1="487" y1="108.9" x2="646.3" y2="108.9" stroke="#000" stroke-width="1.5" />
<line x1="482.8" y1="21.4" x2="487" y2="21.4" stroke="#111" stroke-width="1.3" />
<text x="480.3" y="23.9" font-size="5.6" text-anchor="end" fill="#444" stroke="#444" stroke-width="0.22">10<tspan font-size="4.2" dy="-2.6">5</tspan></text>
<line x1="482.8" y1="59.6" x2="487" y2="59.6" stroke="#111" stroke-width="1.3" />
<text x="480.3" y="62.1" font-size="5.6" text-anchor="end" fill="#444" stroke="#444" stroke-width="0.22">10<tspan font-size="4.2" dy="-2.6">4</tspan></text>
<line x1="482.8" y1="103.1" x2="487" y2="103.1" stroke="#111" stroke-width="1.3" />
<text x="480.3" y="105.6" font-size="5.6" text-anchor="end" fill="#444" stroke="#444" stroke-width="0.22">10<tspan font-size="4.2" dy="-2.6">3</tspan></text>
<line x1="482.8" y1="128.7" x2="487" y2="128.7" stroke="#111" stroke-width="1.3" />
<text x="480.3" y="131.2" font-size="5.6" text-anchor="end" fill="#444" stroke="#444" stroke-width="0.22">0</text>
<line x1="482.8" y1="156.4" x2="487" y2="156.4" stroke="#111" stroke-width="1.3" />
<text x="480.3" y="158.9" font-size="5.6" text-anchor="end" fill="#444" stroke="#444" stroke-width="0.22">-10<tspan font-size="4.2" dy="-2.6">3</tspan></text>
<line x1="485" y1="9.5" x2="487" y2="9.5" stroke="#222" stroke-width="0.9" />
<line x1="485" y1="12" x2="487" y2="12" stroke="#222" stroke-width="0.9" />
<line x1="485" y1="14.5" x2="487" y2="14.5" stroke="#222" stroke-width="0.9" />
<line x1="485" y1="17" x2="487" y2="17" stroke="#222" stroke-width="0.9" />
<line x1="485" y1="48.1" x2="487" y2="48.1" stroke="#222" stroke-width="0.9" />
<line x1="485" y1="90.01" x2="487" y2="90.01" stroke="#222" stroke-width="0.9" />
<line x1="485" y1="41.37" x2="487" y2="41.37" stroke="#222" stroke-width="0.9" />
<line x1="485" y1="82.35" x2="487" y2="82.35" stroke="#222" stroke-width="0.9" />
<line x1="485" y1="36.6" x2="487" y2="36.6" stroke="#222" stroke-width="0.9" />
<line x1="485" y1="76.91" x2="487" y2="76.91" stroke="#222" stroke-width="0.9" />
<line x1="485" y1="32.9" x2="487" y2="32.9" stroke="#222" stroke-width="0.9" />
<line x1="485" y1="72.69" x2="487" y2="72.69" stroke="#222" stroke-width="0.9" />
<line x1="485" y1="29.87" x2="487" y2="29.87" stroke="#222" stroke-width="0.9" />
<line x1="485" y1="69.25" x2="487" y2="69.25" stroke="#222" stroke-width="0.9" />
<line x1="485" y1="27.32" x2="487" y2="27.32" stroke="#222" stroke-width="0.9" />
<line x1="485" y1="66.34" x2="487" y2="66.34" stroke="#222" stroke-width="0.9" />
<line x1="485" y1="25.1" x2="487" y2="25.1" stroke="#222" stroke-width="0.9" />
<line x1="485" y1="63.82" x2="487" y2="63.82" stroke="#222" stroke-width="0.9" />
<line x1="485" y1="23.15" x2="487" y2="23.15" stroke="#222" stroke-width="0.9" />
<line x1="485" y1="61.59" x2="487" y2="61.59" stroke="#222" stroke-width="0.9" />
<line x1="485" y1="107" x2="487" y2="107" stroke="#222" stroke-width="0.9" />
<line x1="485" y1="111" x2="487" y2="111" stroke="#222" stroke-width="0.9" />
<line x1="485" y1="114.5" x2="487" y2="114.5" stroke="#222" stroke-width="0.9" />
<line x1="485" y1="117.5" x2="487" y2="117.5" stroke="#222" stroke-width="0.9" />
<line x1="485" y1="120" x2="487" y2="120" stroke="#222" stroke-width="0.9" />
<line x1="485" y1="122" x2="487" y2="122" stroke="#222" stroke-width="0.9" />
<line x1="485" y1="124" x2="487" y2="124" stroke="#222" stroke-width="0.9" />
<line x1="485" y1="125.5" x2="487" y2="125.5" stroke="#222" stroke-width="0.9" />
<line x1="485" y1="127" x2="487" y2="127" stroke="#222" stroke-width="0.9" />
<line x1="485" y1="130.5" x2="487" y2="130.5" stroke="#222" stroke-width="0.9" />
<line x1="485" y1="132" x2="487" y2="132" stroke="#222" stroke-width="0.9" />
<line x1="485" y1="134" x2="487" y2="134" stroke="#222" stroke-width="0.9" />
<line x1="485" y1="136.5" x2="487" y2="136.5" stroke="#222" stroke-width="0.9" />
<line x1="485" y1="140" x2="487" y2="140" stroke="#222" stroke-width="0.9" />
<line x1="485" y1="144.5" x2="487" y2="144.5" stroke="#222" stroke-width="0.9" />
<line x1="485" y1="150" x2="487" y2="150" stroke="#222" stroke-width="0.9" />
<line x1="485" y1="161" x2="487" y2="161" stroke="#222" stroke-width="0.9" />
<line x1="484" y1="124.5" x2="487" y2="124.5" stroke="#111" stroke-width="0.9" />
<line x1="484" y1="125.5" x2="487" y2="125.5" stroke="#111" stroke-width="0.9" />
<line x1="484" y1="126.5" x2="487" y2="126.5" stroke="#111" stroke-width="0.9" />
<line x1="484" y1="127.5" x2="487" y2="127.5" stroke="#111" stroke-width="0.9" />
<line x1="484" y1="129.5" x2="487" y2="129.5" stroke="#111" stroke-width="0.9" />
<line x1="484" y1="130.5" x2="487" y2="130.5" stroke="#111" stroke-width="0.9" />
<line x1="484" y1="131.5" x2="487" y2="131.5" stroke="#111" stroke-width="0.9" />
<line x1="484" y1="132.5" x2="487" y2="132.5" stroke="#111" stroke-width="0.9" />
<line x1="496.2" y1="165.8" x2="496.2" y2="170" stroke="#111" stroke-width="1.3" />
<text x="496.7" y="179.2" font-size="5.6" text-anchor="start" fill="#444" stroke="#444" stroke-width="0.22">-10<tspan font-size="4.2" dy="-2.6">3</tspan></text>
<line x1="525.2" y1="165.8" x2="525.2" y2="170" stroke="#111" stroke-width="1.3" />
<text x="525.7" y="179.2" font-size="5.6" text-anchor="middle" fill="#444" stroke="#444" stroke-width="0.22">0</text>
<line x1="548.1" y1="165.8" x2="548.1" y2="170" stroke="#111" stroke-width="1.3" />
<text x="549.6" y="179.2" font-size="5.6" text-anchor="start" fill="#444" stroke="#444" stroke-width="0.22">10<tspan font-size="4.2" dy="-2.6">3</tspan></text>
<line x1="591.6" y1="165.8" x2="591.6" y2="170" stroke="#111" stroke-width="1.3" />
<text x="593.1" y="179.2" font-size="5.6" text-anchor="start" fill="#444" stroke="#444" stroke-width="0.22">10<tspan font-size="4.2" dy="-2.6">4</tspan></text>
<line x1="630.3" y1="165.8" x2="630.3" y2="170" stroke="#111" stroke-width="1.3" />
<text x="631.8" y="179.2" font-size="5.6" text-anchor="start" fill="#444" stroke="#444" stroke-width="0.22">10<tspan font-size="4.2" dy="-2.6">5</tspan></text>
<line x1="491" y1="165.8" x2="491" y2="168" stroke="#222" stroke-width="0.9" />
<line x1="502" y1="165.8" x2="502" y2="168" stroke="#222" stroke-width="0.9" />
<line x1="508" y1="165.8" x2="508" y2="168" stroke="#222" stroke-width="0.9" />
<line x1="512.5" y1="165.8" x2="512.5" y2="168" stroke="#222" stroke-width="0.9" />
<line x1="515.5" y1="165.8" x2="515.5" y2="168" stroke="#222" stroke-width="0.9" />
<line x1="534" y1="165.8" x2="534" y2="168" stroke="#222" stroke-width="0.9" />
<line x1="537.5" y1="165.8" x2="537.5" y2="168" stroke="#222" stroke-width="0.9" />
<line x1="541" y1="165.8" x2="541" y2="168" stroke="#222" stroke-width="0.9" />
<line x1="544.5" y1="165.8" x2="544.5" y2="168" stroke="#222" stroke-width="0.9" />
<line x1="561.19" y1="165.8" x2="561.19" y2="168" stroke="#222" stroke-width="0.9" />
<line x1="603.25" y1="165.8" x2="603.25" y2="168" stroke="#222" stroke-width="0.9" />
<line x1="568.85" y1="165.8" x2="568.85" y2="168" stroke="#222" stroke-width="0.9" />
<line x1="610.06" y1="165.8" x2="610.06" y2="168" stroke="#222" stroke-width="0.9" />
<line x1="574.29" y1="165.8" x2="574.29" y2="168" stroke="#222" stroke-width="0.9" />
<line x1="614.9" y1="165.8" x2="614.9" y2="168" stroke="#222" stroke-width="0.9" />
<line x1="578.51" y1="165.8" x2="578.51" y2="168" stroke="#222" stroke-width="0.9" />
<line x1="618.65" y1="165.8" x2="618.65" y2="168" stroke="#222" stroke-width="0.9" />
<line x1="581.95" y1="165.8" x2="581.95" y2="168" stroke="#222" stroke-width="0.9" />
<line x1="621.71" y1="165.8" x2="621.71" y2="168" stroke="#222" stroke-width="0.9" />
<line x1="584.86" y1="165.8" x2="584.86" y2="168" stroke="#222" stroke-width="0.9" />
<line x1="624.31" y1="165.8" x2="624.31" y2="168" stroke="#222" stroke-width="0.9" />
<line x1="587.38" y1="165.8" x2="587.38" y2="168" stroke="#222" stroke-width="0.9" />
<line x1="626.55" y1="165.8" x2="626.55" y2="168" stroke="#222" stroke-width="0.9" />
<line x1="589.61" y1="165.8" x2="589.61" y2="168" stroke="#222" stroke-width="0.9" />
<line x1="628.53" y1="165.8" x2="628.53" y2="168" stroke="#222" stroke-width="0.9" />
<line x1="638" y1="165.8" x2="638" y2="168" stroke="#222" stroke-width="0.9" />
<line x1="644" y1="165.8" x2="644" y2="168" stroke="#222" stroke-width="0.9" />
<line x1="518.5" y1="165.8" x2="518.5" y2="168.8" stroke="#111" stroke-width="0.9" />
<line x1="519.5" y1="165.8" x2="519.5" y2="168.8" stroke="#111" stroke-width="0.9" />
<line x1="520.5" y1="165.8" x2="520.5" y2="168.8" stroke="#111" stroke-width="0.9" />
<line x1="521.5" y1="165.8" x2="521.5" y2="168.8" stroke="#111" stroke-width="0.9" />
<line x1="522.5" y1="165.8" x2="522.5" y2="168.8" stroke="#111" stroke-width="0.9" />
<line x1="523.5" y1="165.8" x2="523.5" y2="168.8" stroke="#111" stroke-width="0.9" />
<line x1="524.5" y1="165.8" x2="524.5" y2="168.8" stroke="#111" stroke-width="0.9" />
<line x1="526" y1="165.8" x2="526" y2="168.8" stroke="#111" stroke-width="0.9" />
<line x1="527" y1="165.8" x2="527" y2="168.8" stroke="#111" stroke-width="0.9" />
<line x1="528" y1="165.8" x2="528" y2="168.8" stroke="#111" stroke-width="0.9" />
<line x1="529.5" y1="165.8" x2="529.5" y2="168.8" stroke="#111" stroke-width="0.9" />
<text x="543.3" y="196.7" font-size="13.4" textLength="49.6" lengthAdjust="spacingAndGlyphs" fill="#000" stroke="#000" stroke-width="0.22">CX3CR1</text>
<text transform="translate(460.5,84.3) rotate(-90)" font-size="14.2" text-anchor="middle" textLength="31.5" lengthAdjust="spacingAndGlyphs" fill="#000" stroke="#000" stroke-width="0.22">CD56</text>
<line x1="74.6" y1="251.55" x2="74.6" y2="391.65" stroke="#000" stroke-width="1.5" />
<line x1="69.2" y1="252.3" x2="74.6" y2="252.3" stroke="#000" stroke-width="1.5" />
<text x="67.1" y="255.86" font-size="9.9" text-anchor="end" fill="#000" font-weight="bold"  stroke="#000" stroke-width="0.22">100</text>
<line x1="69.2" y1="280" x2="74.6" y2="280" stroke="#000" stroke-width="1.5" />
<text x="67.1" y="283.56" font-size="9.9" text-anchor="end" fill="#000" font-weight="bold"  stroke="#000" stroke-width="0.22">80</text>
<line x1="69.2" y1="307.7" x2="74.6" y2="307.7" stroke="#000" stroke-width="1.5" />
<text x="67.1" y="311.26" font-size="9.9" text-anchor="end" fill="#000" font-weight="bold"  stroke="#000" stroke-width="0.22">60</text>
<line x1="69.2" y1="335.5" x2="74.6" y2="335.5" stroke="#000" stroke-width="1.5" />
<text x="67.1" y="339.06" font-size="9.9" text-anchor="end" fill="#000" font-weight="bold"  stroke="#000" stroke-width="0.22">40</text>
<line x1="69.2" y1="363.2" x2="74.6" y2="363.2" stroke="#000" stroke-width="1.5" />
<text x="67.1" y="366.76" font-size="9.9" text-anchor="end" fill="#000" font-weight="bold"  stroke="#000" stroke-width="0.22">20</text>
<line x1="69.2" y1="390.9" x2="74.6" y2="390.9" stroke="#000" stroke-width="1.5" />
<text x="67.1" y="394.46" font-size="9.9" text-anchor="end" fill="#000" font-weight="bold"  stroke="#000" stroke-width="0.22">0</text>
<line x1="73.85" y1="390.9" x2="203" y2="390.9" stroke="#000" stroke-width="1.5" />
<line x1="111.2" y1="390.9" x2="111.2" y2="395.9" stroke="#000" stroke-width="1.5" />
<line x1="166.2" y1="390.9" x2="166.2" y2="395.9" stroke="#000" stroke-width="1.5" />
<text transform="translate(29.9,321.6) rotate(-90)" font-size="11" text-anchor="middle" fill="#000" font-weight="bold" textLength="99.4" lengthAdjust="spacingAndGlyphs" stroke="#000" stroke-width="0.22">CX3CR1<tspan font-size="7" dy="-4.5">+</tspan><tspan dy="4.5"> NK Cells</tspan></text>
<text transform="translate(43.3,321.6) rotate(-90)" font-size="11" text-anchor="middle" fill="#000" font-weight="bold" textLength="126.2" lengthAdjust="spacingAndGlyphs" stroke="#000" stroke-width="0.22">(as % of total NK Cells)</text>
<text x="85.36" y="406.8" font-size="10.9" fill="#000" textLength="56.04" lengthAdjust="spacingAndGlyphs" stroke="#000" stroke-width="0.22">Non-obese</text>
<text x="150.56" y="406.8" font-size="10.9" fill="#000" textLength="33.85" lengthAdjust="spacingAndGlyphs" stroke="#000" stroke-width="0.22">Obese</text>
<circle cx="95.6" cy="254.5" r="2.5" fill="#000"/>
<circle cx="95.6" cy="261.3" r="2.5" fill="#000"/>
<circle cx="106" cy="257.4" r="2.5" fill="#000"/>
<circle cx="106" cy="264.4" r="2.5" fill="#000"/>
<circle cx="116.2" cy="258.7" r="2.5" fill="#000"/>
<circle cx="126.8" cy="257.6" r="2.5" fill="#000"/>
<circle cx="110.9" cy="278.9" r="2.5" fill="#000"/>
<circle cx="110.9" cy="318.4" r="2.5" fill="#000"/>
<line x1="110.9" y1="252.3" x2="110.9" y2="290.3" stroke="#444" stroke-width="1.3" />
<line x1="101.9" y1="290.3" x2="119.9" y2="290.3" stroke="#444" stroke-width="1.3" />
<line x1="93.2" y1="268.6" x2="129.3" y2="268.6" stroke="#000" stroke-width="1.6" />
<circle cx="150.6" cy="254.5" r="2.5" fill="#000"/>
<circle cx="160.8" cy="253.6" r="2.5" fill="#000"/>
<circle cx="171.1" cy="251.9" r="2.5" fill="#000"/>
<circle cx="181.6" cy="251.9" r="2.5" fill="#000"/>
<circle cx="150.6" cy="264.4" r="2.5" fill="#000"/>
<circle cx="160.8" cy="261.3" r="2.5" fill="#000"/>
<circle cx="171.1" cy="257.9" r="2.5" fill="#000"/>
<circle cx="181.6" cy="260.8" r="2.5" fill="#000"/>
<circle cx="181.6" cy="266.8" r="2.5" fill="#000"/>
<circle cx="171.1" cy="269.8" r="2.5" fill="#000"/>
<circle cx="160.8" cy="272.4" r="2.5" fill="#000"/>
<circle cx="181.6" cy="274.1" r="2.5" fill="#000"/>
<circle cx="160.8" cy="280.9" r="2.5" fill="#000"/>
<circle cx="171.1" cy="278.4" r="2.5" fill="#000"/>
<circle cx="181.6" cy="281.2" r="2.5" fill="#000"/>
<circle cx="166" cy="293.2" r="2.5" fill="#000"/>
<line x1="166" y1="255" x2="166" y2="279.2" stroke="#777" stroke-width="1.2" />
<line x1="158.5" y1="255" x2="173.5" y2="255" stroke="#777" stroke-width="1.2" />
<line x1="158.5" y1="279.2" x2="173.5" y2="279.2" stroke="#777" stroke-width="1.2" />
<line x1="148.4" y1="266.9" x2="183" y2="266.9" stroke="#000" stroke-width="1.6" />
<rect x="297.5" y="303.3" width="32.2" height="89.4" fill="#808080" stroke="#000" stroke-width="2"/>
<rect x="349.5" y="331.8" width="32.5" height="60.9" fill="#fff" stroke="#000" stroke-width="2"/>
<line x1="279" y1="260.45" x2="279" y2="393.45" stroke="#000" stroke-width="1.5" />
<line x1="273.6" y1="261.2" x2="279" y2="261.2" stroke="#000" stroke-width="1.5" />
<text x="272.2" y="264.73" font-size="9.8" text-anchor="end" fill="#000" font-weight="bold"  stroke="#000" stroke-width="0.22">100</text>
<line x1="273.6" y1="287.5" x2="279" y2="287.5" stroke="#000" stroke-width="1.5" />
<text x="272.2" y="291.03" font-size="9.8" text-anchor="end" fill="#000" font-weight="bold"  stroke="#000" stroke-width="0.22">80</text>
<line x1="273.6" y1="313.8" x2="279" y2="313.8" stroke="#000" stroke-width="1.5" />
<text x="272.2" y="317.33" font-size="9.8" text-anchor="end" fill="#000" font-weight="bold"  stroke="#000" stroke-width="0.22">60</text>
<line x1="273.6" y1="340.1" x2="279" y2="340.1" stroke="#000" stroke-width="1.5" />
<text x="272.2" y="343.63" font-size="9.8" text-anchor="end" fill="#000" font-weight="bold"  stroke="#000" stroke-width="0.22">40</text>
<line x1="273.6" y1="366.4" x2="279" y2="366.4" stroke="#000" stroke-width="1.5" />
<text x="272.2" y="369.93" font-size="9.8" text-anchor="end" fill="#000" font-weight="bold"  stroke="#000" stroke-width="0.22">20</text>
<line x1="273.6" y1="392.7" x2="279" y2="392.7" stroke="#000" stroke-width="1.5" />
<text x="272.2" y="396.23" font-size="9.8" text-anchor="end" fill="#000" font-weight="bold"  stroke="#000" stroke-width="0.22">0</text>
<line x1="278.25" y1="392.7" x2="401" y2="392.7" stroke="#000" stroke-width="1.5" />
<line x1="313.6" y1="392.7" x2="313.6" y2="397.7" stroke="#000" stroke-width="1.5" />
<line x1="365.75" y1="392.7" x2="365.75" y2="397.7" stroke="#000" stroke-width="1.5" />
<line x1="313.6" y1="268.8" x2="313.6" y2="335.5" stroke="#333" stroke-width="1.3" />
<line x1="304.1" y1="268.8" x2="323.1" y2="268.8" stroke="#333" stroke-width="1.3" />
<line x1="304.1" y1="335.5" x2="323.1" y2="335.5" stroke="#333" stroke-width="1.3" />
<line x1="365.75" y1="302.3" x2="365.75" y2="358.1" stroke="#555" stroke-width="1.3" />
<line x1="357.25" y1="302.3" x2="374.25" y2="302.3" stroke="#555" stroke-width="1.3" />
<line x1="357.25" y1="358.1" x2="374.25" y2="358.1" stroke="#555" stroke-width="1.3" />
<circle cx="303.3" cy="266.7" r="2.5" fill="#000"/>
<circle cx="313.6" cy="265.6" r="2.5" fill="#000"/>
<circle cx="324.1" cy="269.8" r="2.5" fill="#000"/>
<circle cx="313.6" cy="273" r="2.5" fill="#000"/>
<circle cx="324.1" cy="275.3" r="2.5" fill="#000"/>
<circle cx="313.6" cy="278.9" r="2.5" fill="#000"/>
<circle cx="303.3" cy="287.8" r="2.5" fill="#000"/>
<circle cx="313.6" cy="288.3" r="2.5" fill="#000"/>
<circle cx="303.3" cy="295.3" r="2.5" fill="#000"/>
<circle cx="313.6" cy="299.1" r="2.5" fill="#000"/>
<circle cx="313.6" cy="307.8" r="2.5" fill="#000"/>
<circle cx="313.6" cy="320.3" r="2.5" fill="#000"/>
<circle cx="313.6" cy="339.4" r="2.5" fill="#000"/>
<circle cx="308.4" cy="352.2" r="2.5" fill="#000"/>
<circle cx="318.9" cy="353.4" r="2.5" fill="#000"/>
<circle cx="313.6" cy="362" r="2.5" fill="#000"/>
<circle cx="355.3" cy="310.5" r="2.5" fill="#000"/>
<circle cx="365.9" cy="314" r="2.5" fill="#000"/>
<circle cx="365.9" cy="319.5" r="2.5" fill="#000"/>
<circle cx="376.4" cy="311.3" r="2.5" fill="#000"/>
<circle cx="376.4" cy="317.8" r="2.5" fill="#000"/>
<circle cx="365.9" cy="358.9" r="2.5" fill="#000"/>
<circle cx="365.9" cy="380.8" r="2.5" fill="#000"/>
<text transform="translate(234.9,326.95) rotate(-90)" font-size="10.8" text-anchor="middle" fill="#000" font-weight="bold" textLength="85" lengthAdjust="spacingAndGlyphs" stroke="#000" stroke-width="0.22">NKp30<tspan font-size="6.7" dy="-4.32">+</tspan><tspan dy="4.32"> NK Cells</tspan></text>
<text transform="translate(247.8,326.95) rotate(-90)" font-size="10.8" text-anchor="middle" fill="#000" font-weight="bold" textLength="104.6" lengthAdjust="spacingAndGlyphs" stroke="#000" stroke-width="0.22">(as % of population)</text>
<text x="290.38" y="410.6" font-size="10.6" fill="#000" textLength="40.42" lengthAdjust="spacingAndGlyphs" stroke="#000" stroke-width="0.22">CX3CR1</text>
<line x1="332.2" y1="403.6" x2="335.4" y2="403.6" stroke="#000" stroke-width="1.1" />
<line x1="333.8" y1="402" x2="333.8" y2="405.2" stroke="#000" stroke-width="1.1" />
<text x="345.38" y="410.6" font-size="10.6" fill="#000" textLength="40.11" lengthAdjust="spacingAndGlyphs" stroke="#000" stroke-width="0.22">CX3CR1</text>
<line x1="386.1" y1="404" x2="388.5" y2="404" stroke="#000" stroke-width="1.1" />
<polyline points="313.6,256.8 313.6,250.1 365.6,250.1 365.6,256.8" fill="none" stroke="#000" stroke-width="1.5"/>
<polygon points="339.6,237.45 340.67,238.84 342.41,239.07 341.75,240.7 342.41,242.32 340.67,242.56 339.6,243.95 338.53,242.56 336.79,242.32 337.46,240.7 336.79,239.07 338.53,238.84" fill="#000"/>
<rect x="512.8" y="281.5" width="35.8" height="109.8" fill="#808080" stroke="#000" stroke-width="2"/>
<rect x="569.9" y="281.5" width="35.7" height="109.8" fill="#fff" stroke="#000" stroke-width="2"/>
<line x1="492.2" y1="246.45" x2="492.2" y2="392.05" stroke="#000" stroke-width="1.5" />
<line x1="486.8" y1="247.2" x2="492.2" y2="247.2" stroke="#000" stroke-width="1.5" />
<text x="484.7" y="251.05" font-size="10.7" text-anchor="end" fill="#000" font-weight="bold"  stroke="#000" stroke-width="0.22">100</text>
<line x1="486.8" y1="276.02" x2="492.2" y2="276.02" stroke="#000" stroke-width="1.5" />
<text x="484.7" y="279.87" font-size="10.7" text-anchor="end" fill="#000" font-weight="bold"  stroke="#000" stroke-width="0.22">80</text>
<line x1="486.8" y1="304.84" x2="492.2" y2="304.84" stroke="#000" stroke-width="1.5" />
<text x="484.7" y="308.69" font-size="10.7" text-anchor="end" fill="#000" font-weight="bold"  stroke="#000" stroke-width="0.22">60</text>
<line x1="486.8" y1="333.66" x2="492.2" y2="333.66" stroke="#000" stroke-width="1.5" />
<text x="484.7" y="337.51" font-size="10.7" text-anchor="end" fill="#000" font-weight="bold"  stroke="#000" stroke-width="0.22">40</text>
<line x1="486.8" y1="362.48" x2="492.2" y2="362.48" stroke="#000" stroke-width="1.5" />
<text x="484.7" y="366.33" font-size="10.7" text-anchor="end" fill="#000" font-weight="bold"  stroke="#000" stroke-width="0.22">20</text>
<line x1="486.8" y1="391.3" x2="492.2" y2="391.3" stroke="#000" stroke-width="1.5" />
<text x="484.7" y="395.15" font-size="10.7" text-anchor="end" fill="#000" font-weight="bold"  stroke="#000" stroke-width="0.22">0</text>
<line x1="491.45" y1="391.3" x2="627" y2="391.3" stroke="#000" stroke-width="1.5" />
<line x1="530.7" y1="391.3" x2="530.7" y2="396.3" stroke="#000" stroke-width="1.5" />
<line x1="587.75" y1="391.3" x2="587.75" y2="396.3" stroke="#000" stroke-width="1.5" />
<line x1="530.7" y1="251.7" x2="530.7" y2="308" stroke="#333" stroke-width="1.3" />
<line x1="520.95" y1="251.7" x2="540.45" y2="251.7" stroke="#333" stroke-width="1.3" />
<line x1="520.95" y1="308" x2="540.45" y2="308" stroke="#333" stroke-width="1.3" />
<line x1="587.75" y1="252.6" x2="587.75" y2="306.6" stroke="#555" stroke-width="1.3" />
<line x1="577.95" y1="252.6" x2="597.55" y2="252.6" stroke="#555" stroke-width="1.3" />
<line x1="577.95" y1="306.6" x2="597.55" y2="306.6" stroke="#555" stroke-width="1.3" />
<circle cx="530.3" cy="246.9" r="2.5" fill="#000"/>
<circle cx="519.6" cy="252.6" r="2.5" fill="#000"/>
<circle cx="530.3" cy="253.7" r="2.5" fill="#000"/>
<circle cx="541.2" cy="252.9" r="2.5" fill="#000"/>
<circle cx="514.5" cy="264" r="2.5" fill="#000"/>
<circle cx="525.1" cy="261.8" r="2.5" fill="#000"/>
<circle cx="525.1" cy="268.6" r="2.5" fill="#000"/>
<circle cx="535.8" cy="265.7" r="2.5" fill="#000"/>
<circle cx="546.9" cy="265.3" r="2.5" fill="#000"/>
<circle cx="519.6" cy="281" r="2.5" fill="#000"/>
<circle cx="541.2" cy="283.6" r="2.5" fill="#000"/>
<circle cx="530.3" cy="285.3" r="2.5" fill="#000"/>
<circle cx="530.3" cy="293.8" r="2.5" fill="#000"/>
<circle cx="530.3" cy="301.5" r="2.5" fill="#000"/>
<circle cx="530.3" cy="308.3" r="2.5" fill="#000"/>
<circle cx="530.3" cy="324" r="2.5" fill="#000"/>
<circle cx="530.3" cy="348.9" r="2.5" fill="#000"/>
<circle cx="576.2" cy="251.7" r="2.5" fill="#000"/>
<circle cx="599.7" cy="253.7" r="2.5" fill="#000"/>
<circle cx="587.8" cy="257.2" r="2.5" fill="#000"/>
<circle cx="587.8" cy="267.9" r="2.5" fill="#000"/>
<circle cx="587.8" cy="275.9" r="2.5" fill="#000"/>
<circle cx="587.8" cy="301.1" r="2.5" fill="#000"/>
<circle cx="587.8" cy="311.4" r="2.5" fill="#000"/>
<circle cx="587.8" cy="319" r="2.5" fill="#000"/>
<text transform="translate(445.4,319.25) rotate(-90)" font-size="11.8" text-anchor="middle" fill="#000" font-weight="bold" textLength="98.8" lengthAdjust="spacingAndGlyphs" stroke="#000" stroke-width="0.22">NKG2D<tspan font-size="7.32" dy="-4.72">+</tspan><tspan dy="4.72"> NK Cells</tspan></text>
<text transform="translate(458.8,319.25) rotate(-90)" font-size="11.8" text-anchor="middle" fill="#000" font-weight="bold" textLength="114.8" lengthAdjust="spacingAndGlyphs" stroke="#000" stroke-width="0.22">(as % of population)</text>
<text x="504.72" y="410.1" font-size="10.9" fill="#000" textLength="45.24" lengthAdjust="spacingAndGlyphs" stroke="#000" stroke-width="0.22">CX3CR1</text>
<line x1="551.7" y1="402" x2="554.9" y2="402" stroke="#000" stroke-width="1.1" />
<line x1="553.3" y1="400.4" x2="553.3" y2="403.6" stroke="#000" stroke-width="1.1" />
<text x="565.02" y="410.1" font-size="10.9" fill="#000" textLength="44.63" lengthAdjust="spacingAndGlyphs" stroke="#000" stroke-width="0.22">CX3CR1</text>
<line x1="610.4" y1="402.5" x2="612.8" y2="402.5" stroke="#000" stroke-width="1.1" />
<rect x="94.8" y="510.8" width="33.6" height="111.3" fill="#808080" stroke="#000" stroke-width="2"/>
<rect x="149" y="511.3" width="34" height="110.8" fill="#fff" stroke="#000" stroke-width="2"/>
<line x1="74.8" y1="483.65" x2="74.8" y2="622.85" stroke="#000" stroke-width="1.5" />
<line x1="69.4" y1="484.4" x2="74.8" y2="484.4" stroke="#000" stroke-width="1.5" />
<text x="67.1" y="488.07" font-size="10.2" text-anchor="end" fill="#000" font-weight="bold"  stroke="#000" stroke-width="0.22">100</text>
<line x1="69.4" y1="511.94" x2="74.8" y2="511.94" stroke="#000" stroke-width="1.5" />
<text x="67.1" y="515.61" font-size="10.2" text-anchor="end" fill="#000" font-weight="bold"  stroke="#000" stroke-width="0.22">80</text>
<line x1="69.4" y1="539.48" x2="74.8" y2="539.48" stroke="#000" stroke-width="1.5" />
<text x="67.1" y="543.15" font-size="10.2" text-anchor="end" fill="#000" font-weight="bold"  stroke="#000" stroke-width="0.22">60</text>
<line x1="69.4" y1="567.02" x2="74.8" y2="567.02" stroke="#000" stroke-width="1.5" />
<text x="67.1" y="570.69" font-size="10.2" text-anchor="end" fill="#000" font-weight="bold"  stroke="#000" stroke-width="0.22">40</text>
<line x1="69.4" y1="594.56" x2="74.8" y2="594.56" stroke="#000" stroke-width="1.5" />
<text x="67.1" y="598.23" font-size="10.2" text-anchor="end" fill="#000" font-weight="bold"  stroke="#000" stroke-width="0.22">20</text>
<line x1="69.4" y1="622.1" x2="74.8" y2="622.1" stroke="#000" stroke-width="1.5" />
<text x="67.1" y="625.77" font-size="10.2" text-anchor="end" fill="#000" font-weight="bold"  stroke="#000" stroke-width="0.22">0</text>
<line x1="74.05" y1="622.1" x2="203.4" y2="622.1" stroke="#000" stroke-width="1.5" />
<line x1="111.6" y1="622.1" x2="111.6" y2="627.1" stroke="#000" stroke-width="1.5" />
<line x1="166" y1="622.1" x2="166" y2="627.1" stroke="#000" stroke-width="1.5" />
<line x1="111.6" y1="490.3" x2="111.6" y2="527.8" stroke="#333" stroke-width="1.3" />
<line x1="102.95" y1="490.3" x2="120.25" y2="490.3" stroke="#333" stroke-width="1.3" />
<line x1="102.95" y1="527.8" x2="120.25" y2="527.8" stroke="#333" stroke-width="1.3" />
<line x1="166" y1="485.6" x2="166" y2="533.3" stroke="#555" stroke-width="1.3" />
<line x1="157.5" y1="485.6" x2="174.5" y2="485.6" stroke="#555" stroke-width="1.3" />
<line x1="157.5" y1="533.3" x2="174.5" y2="533.3" stroke="#555" stroke-width="1.3" />
<circle cx="95.9" cy="489.5" r="2.5" fill="#000"/>
<circle cx="106.4" cy="488.8" r="2.5" fill="#000"/>
<circle cx="127.2" cy="484.4" r="2.5" fill="#000"/>
<circle cx="127.2" cy="491.6" r="2.5" fill="#000"/>
<circle cx="95.9" cy="495.8" r="2.5" fill="#000"/>
<circle cx="106.4" cy="496.9" r="2.5" fill="#000"/>
<circle cx="116.7" cy="496.6" r="2.5" fill="#000"/>
<circle cx="106.4" cy="506.4" r="2.5" fill="#000"/>
<circle cx="116.7" cy="511.4" r="2.5" fill="#000"/>
<circle cx="127.2" cy="509.8" r="2.5" fill="#000"/>
<circle cx="95.9" cy="516.4" r="2.5" fill="#000"/>
<circle cx="106.4" cy="516.4" r="2.5" fill="#000"/>
<circle cx="116.7" cy="518.4" r="2.5" fill="#000"/>
<circle cx="127.2" cy="517.3" r="2.5" fill="#000"/>
<circle cx="111.6" cy="524.7" r="2.5" fill="#000"/>
<circle cx="111.6" cy="533.3" r="2.5" fill="#000"/>
<circle cx="111.6" cy="556.4" r="2.5" fill="#000"/>
<circle cx="160.8" cy="484.4" r="2.5" fill="#000"/>
<circle cx="171.7" cy="484.4" r="2.5" fill="#000"/>
<circle cx="166.3" cy="493.8" r="2.5" fill="#000"/>
<circle cx="166.3" cy="499.7" r="2.5" fill="#000"/>
<circle cx="166.3" cy="510.3" r="2.5" fill="#000"/>
<circle cx="166.3" cy="518.8" r="2.5" fill="#000"/>
<circle cx="166.3" cy="539.2" r="2.5" fill="#000"/>
<circle cx="166.3" cy="545.8" r="2.5" fill="#000"/>
<text transform="translate(29.7,553.25) rotate(-90)" font-size="11.4" text-anchor="middle" fill="#000" font-weight="bold" textLength="91.2" lengthAdjust="spacingAndGlyphs" stroke="#000" stroke-width="0.22">NKp46<tspan font-size="7.07" dy="-4.56">+</tspan><tspan dy="4.56"> NK Cells</tspan></text>
<text transform="translate(43.1,553.25) rotate(-90)" font-size="11.4" text-anchor="middle" fill="#000" font-weight="bold" textLength="109" lengthAdjust="spacingAndGlyphs" stroke="#000" stroke-width="0.22">(as % of population)</text>
<text x="85.93" y="642.5" font-size="10.6" fill="#000" textLength="44.01" lengthAdjust="spacingAndGlyphs" stroke="#000" stroke-width="0.22">CX3CR1</text>
<line x1="131.6" y1="635" x2="134.8" y2="635" stroke="#000" stroke-width="1.1" />
<line x1="133.2" y1="633.4" x2="133.2" y2="636.6" stroke="#000" stroke-width="1.1" />
<text x="143.84" y="642.5" font-size="10.6" fill="#000" textLength="43.19" lengthAdjust="spacingAndGlyphs" stroke="#000" stroke-width="0.22">CX3CR1</text>
<line x1="187.8" y1="635.5" x2="190.2" y2="635.5" stroke="#000" stroke-width="1.1" />
<rect x="297.4" y="543.5" width="32.3" height="77.1" fill="#808080" stroke="#000" stroke-width="2"/>
<rect x="350.1" y="508" width="33.3" height="112.6" fill="#fff" stroke="#000" stroke-width="2"/>
<line x1="277.8" y1="484.95" x2="277.8" y2="621.35" stroke="#000" stroke-width="1.5" />
<line x1="272.4" y1="485.7" x2="277.8" y2="485.7" stroke="#000" stroke-width="1.5" />
<text x="270.2" y="489.3" font-size="10" text-anchor="end" fill="#000" font-weight="bold"  stroke="#000" stroke-width="0.22">100</text>
<line x1="272.4" y1="512.68" x2="277.8" y2="512.68" stroke="#000" stroke-width="1.5" />
<text x="270.2" y="516.28" font-size="10" text-anchor="end" fill="#000" font-weight="bold"  stroke="#000" stroke-width="0.22">80</text>
<line x1="272.4" y1="539.66" x2="277.8" y2="539.66" stroke="#000" stroke-width="1.5" />
<text x="270.2" y="543.26" font-size="10" text-anchor="end" fill="#000" font-weight="bold"  stroke="#000" stroke-width="0.22">60</text>
<line x1="272.4" y1="566.64" x2="277.8" y2="566.64" stroke="#000" stroke-width="1.5" />
<text x="270.2" y="570.24" font-size="10" text-anchor="end" fill="#000" font-weight="bold"  stroke="#000" stroke-width="0.22">40</text>
<line x1="272.4" y1="593.62" x2="277.8" y2="593.62" stroke="#000" stroke-width="1.5" />
<text x="270.2" y="597.22" font-size="10" text-anchor="end" fill="#000" font-weight="bold"  stroke="#000" stroke-width="0.22">20</text>
<line x1="272.4" y1="620.6" x2="277.8" y2="620.6" stroke="#000" stroke-width="1.5" />
<text x="270.2" y="624.2" font-size="10" text-anchor="end" fill="#000" font-weight="bold"  stroke="#000" stroke-width="0.22">0</text>
<line x1="277.05" y1="620.6" x2="403" y2="620.6" stroke="#000" stroke-width="1.5" />
<line x1="313.55" y1="620.6" x2="313.55" y2="625.6" stroke="#000" stroke-width="1.5" />
<line x1="366.75" y1="620.6" x2="366.75" y2="625.6" stroke="#000" stroke-width="1.5" />
<line x1="313.55" y1="517.7" x2="313.55" y2="565.3" stroke="#333" stroke-width="1.3" />
<line x1="304.95" y1="517.7" x2="322.15" y2="517.7" stroke="#333" stroke-width="1.3" />
<line x1="304.95" y1="565.3" x2="322.15" y2="565.3" stroke="#333" stroke-width="1.3" />
<line x1="366.75" y1="489.4" x2="366.75" y2="523.8" stroke="#555" stroke-width="1.3" />
<line x1="358.35" y1="489.4" x2="375.15" y2="489.4" stroke="#555" stroke-width="1.3" />
<line x1="358.35" y1="523.8" x2="375.15" y2="523.8" stroke="#555" stroke-width="1.3" />
<circle cx="318.6" cy="504.2" r="2.5" fill="#000"/>
<circle cx="328.8" cy="508.9" r="2.5" fill="#000"/>
<circle cx="308.4" cy="514.1" r="2.5" fill="#000"/>
<circle cx="318.6" cy="512.2" r="2.5" fill="#000"/>
<circle cx="308.4" cy="525.3" r="2.5" fill="#000"/>
<circle cx="318.6" cy="523.4" r="2.5" fill="#000"/>
<circle cx="313.3" cy="533.6" r="2.5" fill="#000"/>
<circle cx="313.3" cy="539.8" r="2.5" fill="#000"/>
<circle cx="298.3" cy="547.7" r="2.5" fill="#000"/>
<circle cx="308.4" cy="551.3" r="2.5" fill="#000"/>
<circle cx="328.8" cy="546.1" r="2.5" fill="#000"/>
<circle cx="298.3" cy="562.5" r="2.5" fill="#000"/>
<circle cx="308.4" cy="560.6" r="2.5" fill="#000"/>
<circle cx="318.6" cy="563.3" r="2.5" fill="#000"/>
<circle cx="328.8" cy="561.4" r="2.5" fill="#000"/>
<circle cx="313.3" cy="569.8" r="2.5" fill="#000"/>
<circle cx="313.3" cy="582" r="2.5" fill="#000"/>
<circle cx="372.5" cy="485.6" r="2.5" fill="#000"/>
<circle cx="361.6" cy="490.6" r="2.5" fill="#000"/>
<circle cx="366.7" cy="498.4" r="2.5" fill="#000"/>
<circle cx="361.6" cy="505" r="2.5" fill="#000"/>
<circle cx="372.5" cy="505.5" r="2.5" fill="#000"/>
<circle cx="361.6" cy="511.4" r="2.5" fill="#000"/>
<circle cx="372.5" cy="512.5" r="2.5" fill="#000"/>
<circle cx="366.7" cy="542.2" r="2.5" fill="#000"/>
<text transform="translate(233.4,553.15) rotate(-90)" font-size="11.2" text-anchor="middle" fill="#000" font-weight="bold" textLength="92.8" lengthAdjust="spacingAndGlyphs" stroke="#000" stroke-width="0.22">NKG2A<tspan font-size="6.94" dy="-4.48">+</tspan><tspan dy="4.48"> NK Cells</tspan></text>
<text transform="translate(246.8,553.15) rotate(-90)" font-size="11.2" text-anchor="middle" fill="#000" font-weight="bold" textLength="106.8" lengthAdjust="spacingAndGlyphs" stroke="#000" stroke-width="0.22">(as % of population)</text>
<text x="288.35" y="637.8" font-size="10.4" fill="#000" textLength="42.47" lengthAdjust="spacingAndGlyphs" stroke="#000" stroke-width="0.22">CX3CR1</text>
<line x1="331.9" y1="630.5" x2="335.1" y2="630.5" stroke="#000" stroke-width="1.1" />
<line x1="333.5" y1="628.9" x2="333.5" y2="632.1" stroke="#000" stroke-width="1.1" />
<text x="345.36" y="637.8" font-size="10.4" fill="#000" textLength="41.76" lengthAdjust="spacingAndGlyphs" stroke="#000" stroke-width="0.22">CX3CR1</text>
<line x1="387.8" y1="631" x2="390.2" y2="631" stroke="#000" stroke-width="1.1" />
<polyline points="313.3,476.4 313.3,469.6 366.7,469.6 366.7,476.4" fill="none" stroke="#000" stroke-width="1.5"/>
<polygon points="335.5,457.15 336.57,458.54 338.31,458.77 337.64,460.4 338.31,462.02 336.57,462.26 335.5,463.65 334.43,462.26 332.69,462.02 333.36,460.4 332.69,458.77 334.43,458.54" fill="#000"/>
<polygon points="343.6,457.15 344.67,458.54 346.41,458.77 345.75,460.4 346.41,462.02 344.67,462.26 343.6,463.65 342.53,462.26 340.79,462.02 341.46,460.4 340.79,458.77 342.53,458.54" fill="#000"/>
<line x1="494.1" y1="486.05" x2="494.1" y2="620.25" stroke="#000" stroke-width="1.5" />
<line x1="488.6" y1="486.8" x2="494.1" y2="486.8" stroke="#000" stroke-width="1.5" />
<text x="487" y="490.4" font-size="10" text-anchor="end" fill="#000" font-weight="bold"  stroke="#000" stroke-width="0.22">1.0</text>
<line x1="488.6" y1="513.3" x2="494.1" y2="513.3" stroke="#000" stroke-width="1.5" />
<text x="487" y="516.9" font-size="10" text-anchor="end" fill="#000" font-weight="bold"  stroke="#000" stroke-width="0.22">0.8</text>
<line x1="488.6" y1="539.9" x2="494.1" y2="539.9" stroke="#000" stroke-width="1.5" />
<text x="487" y="543.5" font-size="10" text-anchor="end" fill="#000" font-weight="bold"  stroke="#000" stroke-width="0.22">0.6</text>
<line x1="488.6" y1="566.4" x2="494.1" y2="566.4" stroke="#000" stroke-width="1.5" />
<text x="487" y="570" font-size="10" text-anchor="end" fill="#000" font-weight="bold"  stroke="#000" stroke-width="0.22">0.4</text>
<line x1="488.6" y1="593" x2="494.1" y2="593" stroke="#000" stroke-width="1.5" />
<text x="487" y="596.6" font-size="10" text-anchor="end" fill="#000" font-weight="bold"  stroke="#000" stroke-width="0.22">0.2</text>
<line x1="488.6" y1="619.5" x2="494.1" y2="619.5" stroke="#000" stroke-width="1.5" />
<text x="487" y="623.1" font-size="10" text-anchor="end" fill="#000" font-weight="bold"  stroke="#000" stroke-width="0.22">0.0</text>
<line x1="493.35" y1="619.5" x2="666.2" y2="619.5" stroke="#000" stroke-width="1.5" />
<line x1="543" y1="619.5" x2="543" y2="624.5" stroke="#000" stroke-width="1.5" />
<line x1="617.2" y1="619.5" x2="617.2" y2="624.5" stroke="#000" stroke-width="1.5" />
<line x1="495.5" y1="576.8" x2="663.4" y2="576.8" stroke="#000" stroke-width="1.5" stroke-dasharray="3.4,3.1,1.4,2.6,1.4,2.9" stroke-dashoffset="3.4"/>
<text x="668.97" y="580.6" font-size="11.2" fill="#000" textLength="34.6" lengthAdjust="spacingAndGlyphs" stroke="#000" stroke-width="0.22">p&lt;0.05</text>
<text transform="translate(466.7,552.5) rotate(-90)" font-size="10.6" text-anchor="middle" fill="#000" font-weight="bold" textLength="119.3" lengthAdjust="spacingAndGlyphs" stroke="#000" stroke-width="0.22">Rayleigh Test (p value)</text>
<text x="521.39" y="636.3" font-size="10.4" fill="#000" textLength="42.39" lengthAdjust="spacingAndGlyphs" stroke="#000" stroke-width="0.22">Baseline</text>
<text x="598.97" y="636.3" font-size="10.4" fill="#000" textLength="40.35" lengthAdjust="spacingAndGlyphs" stroke="#000" stroke-width="0.22">+ E6130</text>
<circle cx="543" cy="571.8" r="2.5" fill="#000"/>
<circle cx="543" cy="611.6" r="2.5" fill="#000"/>
<circle cx="520.9" cy="619.5" r="2.5" fill="#000"/>
<circle cx="528.3" cy="618.3" r="2.5" fill="#000"/>
<circle cx="535.6" cy="619.5" r="2.5" fill="#000"/>
<circle cx="543" cy="619.5" r="2.5" fill="#000"/>
<circle cx="550.4" cy="619.5" r="2.5" fill="#000"/>
<circle cx="557.7" cy="619.5" r="2.5" fill="#000"/>
<circle cx="565.1" cy="619.5" r="2.5" fill="#000"/>
<circle cx="617" cy="493.4" r="2.5" fill="#000"/>
<circle cx="617" cy="598.5" r="2.5" fill="#000"/>
<circle cx="605.9" cy="612.4" r="2.5" fill="#000"/>
<circle cx="628.5" cy="613.6" r="2.5" fill="#000"/>
<circle cx="594.8" cy="619.5" r="2.5" fill="#000"/>
<circle cx="605.9" cy="617.7" r="2.5" fill="#000"/>
<circle cx="617" cy="619.5" r="2.5" fill="#000"/>
<circle cx="628.5" cy="619.5" r="2.5" fill="#000"/>
<circle cx="639.1" cy="619.5" r="2.5" fill="#000"/>
<text x="180" y="704.9" font-size="11.6" text-anchor="middle" fill="#000" font-weight="bold" textLength="51" lengthAdjust="spacingAndGlyphs" stroke="#000" stroke-width="0.22">Baseline</text>
<text x="510.7" y="704.9" font-size="11.6" text-anchor="middle" fill="#000" font-weight="bold" textLength="41.8" lengthAdjust="spacingAndGlyphs" stroke="#000" stroke-width="0.22">+E6130</text>
<rect x="54.9" y="717.8" width="228.7" height="212.8" fill="#c4c4c4"/>
<rect x="54.9" y="717.8" width="228.7" height="1.3" fill="#9a9a9a"/>
<rect x="83.6" y="719" width="196.9" height="187" fill="#fff"/>
<line x1="81.6" y1="719" x2="81.6" y2="905" stroke="#444" stroke-width="1.3" />
<line x1="84.6" y1="906.9" x2="280.5" y2="906.9" stroke="#444" stroke-width="1.3" />
<line x1="78.3" y1="900.5" x2="81.6" y2="900.5" stroke="#333" stroke-width="1.0" />
<text x="76.2" y="902.8" font-size="6.5" text-anchor="end" fill="#3a3a3a"  stroke="#3a3a3a" stroke-width="0.22">-60</text>
<line x1="87.1" y1="906.9" x2="87.1" y2="910.4" stroke="#333" stroke-width="1.0" />
<text x="87.1" y="917.7" font-size="6.2" text-anchor="middle" fill="#3a3a3a"  stroke="#3a3a3a" stroke-width="0.22">-60</text>
<line x1="80.3" y1="893.07" x2="81.6" y2="893.07" stroke="#333" stroke-width="1.0" />
<line x1="94.97" y1="906.9" x2="94.97" y2="908.3" stroke="#333" stroke-width="1.0" />
<line x1="79.4" y1="885.65" x2="81.6" y2="885.65" stroke="#333" stroke-width="1.0" />
<line x1="102.85" y1="906.9" x2="102.85" y2="909.2" stroke="#333" stroke-width="1.0" />
<line x1="80.3" y1="878.22" x2="81.6" y2="878.22" stroke="#333" stroke-width="1.0" />
<line x1="110.72" y1="906.9" x2="110.72" y2="908.3" stroke="#333" stroke-width="1.0" />
<line x1="78.3" y1="870.8" x2="81.6" y2="870.8" stroke="#333" stroke-width="1.0" />
<text x="76.2" y="873.1" font-size="6.5" text-anchor="end" fill="#3a3a3a"  stroke="#3a3a3a" stroke-width="0.22">-40</text>
<line x1="118.6" y1="906.9" x2="118.6" y2="910.4" stroke="#333" stroke-width="1.0" />
<text x="118.6" y="917.7" font-size="6.2" text-anchor="middle" fill="#3a3a3a"  stroke="#3a3a3a" stroke-width="0.22">-40</text>
<line x1="80.3" y1="863.38" x2="81.6" y2="863.38" stroke="#333" stroke-width="1.0" />
<line x1="126.47" y1="906.9" x2="126.47" y2="908.3" stroke="#333" stroke-width="1.0" />
<line x1="79.4" y1="855.95" x2="81.6" y2="855.95" stroke="#333" stroke-width="1.0" />
<line x1="134.35" y1="906.9" x2="134.35" y2="909.2" stroke="#333" stroke-width="1.0" />
<line x1="80.3" y1="848.52" x2="81.6" y2="848.52" stroke="#333" stroke-width="1.0" />
<line x1="142.22" y1="906.9" x2="142.22" y2="908.3" stroke="#333" stroke-width="1.0" />
<line x1="78.3" y1="841.1" x2="81.6" y2="841.1" stroke="#333" stroke-width="1.0" />
<text x="76.2" y="843.4" font-size="6.5" text-anchor="end" fill="#3a3a3a"  stroke="#3a3a3a" stroke-width="0.22">-20</text>
<line x1="150.1" y1="906.9" x2="150.1" y2="910.4" stroke="#333" stroke-width="1.0" />
<text x="150.1" y="917.7" font-size="6.2" text-anchor="middle" fill="#3a3a3a"  stroke="#3a3a3a" stroke-width="0.22">-20</text>
<line x1="80.3" y1="833.67" x2="81.6" y2="833.67" stroke="#333" stroke-width="1.0" />
<line x1="157.97" y1="906.9" x2="157.97" y2="908.3" stroke="#333" stroke-width="1.0" />
<line x1="79.4" y1="826.25" x2="81.6" y2="826.25" stroke="#333" stroke-width="1.0" />
<line x1="165.85" y1="906.9" x2="165.85" y2="909.2" stroke="#333" stroke-width="1.0" />
<line x1="80.3" y1="818.82" x2="81.6" y2="818.82" stroke="#333" stroke-width="1.0" />
<line x1="173.72" y1="906.9" x2="173.72" y2="908.3" stroke="#333" stroke-width="1.0" />
<line x1="78.3" y1="811.4" x2="81.6" y2="811.4" stroke="#333" stroke-width="1.0" />
<text x="76.2" y="813.7" font-size="6.5" text-anchor="end" fill="#3a3a3a"  stroke="#3a3a3a" stroke-width="0.22">0</text>
<line x1="181.6" y1="906.9" x2="181.6" y2="910.4" stroke="#333" stroke-width="1.0" />
<text x="181.6" y="917.7" font-size="6.2" text-anchor="middle" fill="#3a3a3a"  stroke="#3a3a3a" stroke-width="0.22">0</text>
<line x1="80.3" y1="803.98" x2="81.6" y2="803.98" stroke="#333" stroke-width="1.0" />
<line x1="189.47" y1="906.9" x2="189.47" y2="908.3" stroke="#333" stroke-width="1.0" />
<line x1="79.4" y1="796.55" x2="81.6" y2="796.55" stroke="#333" stroke-width="1.0" />
<line x1="197.35" y1="906.9" x2="197.35" y2="909.2" stroke="#333" stroke-width="1.0" />
<line x1="80.3" y1="789.12" x2="81.6" y2="789.12" stroke="#333" stroke-width="1.0" />
<line x1="205.22" y1="906.9" x2="205.22" y2="908.3" stroke="#333" stroke-width="1.0" />
<line x1="78.3" y1="781.7" x2="81.6" y2="781.7" stroke="#333" stroke-width="1.0" />
<text x="76.2" y="784" font-size="6.5" text-anchor="end" fill="#3a3a3a"  stroke="#3a3a3a" stroke-width="0.22">20</text>
<line x1="213.1" y1="906.9" x2="213.1" y2="910.4" stroke="#333" stroke-width="1.0" />
<text x="213.1" y="917.7" font-size="6.2" text-anchor="middle" fill="#3a3a3a"  stroke="#3a3a3a" stroke-width="0.22">20</text>
<line x1="80.3" y1="774.27" x2="81.6" y2="774.27" stroke="#333" stroke-width="1.0" />
<line x1="220.97" y1="906.9" x2="220.97" y2="908.3" stroke="#333" stroke-width="1.0" />
<line x1="79.4" y1="766.85" x2="81.6" y2="766.85" stroke="#333" stroke-width="1.0" />
<line x1="228.85" y1="906.9" x2="228.85" y2="909.2" stroke="#333" stroke-width="1.0" />
<line x1="80.3" y1="759.42" x2="81.6" y2="759.42" stroke="#333" stroke-width="1.0" />
<line x1="236.72" y1="906.9" x2="236.72" y2="908.3" stroke="#333" stroke-width="1.0" />
<line x1="78.3" y1="752" x2="81.6" y2="752" stroke="#333" stroke-width="1.0" />
<text x="76.2" y="754.3" font-size="6.5" text-anchor="end" fill="#3a3a3a"  stroke="#3a3a3a" stroke-width="0.22">40</text>
<line x1="244.6" y1="906.9" x2="244.6" y2="910.4" stroke="#333" stroke-width="1.0" />
<text x="244.6" y="917.7" font-size="6.2" text-anchor="middle" fill="#3a3a3a"  stroke="#3a3a3a" stroke-width="0.22">40</text>
<line x1="80.3" y1="744.58" x2="81.6" y2="744.58" stroke="#333" stroke-width="1.0" />
<line x1="252.47" y1="906.9" x2="252.47" y2="908.3" stroke="#333" stroke-width="1.0" />
<line x1="79.4" y1="737.15" x2="81.6" y2="737.15" stroke="#333" stroke-width="1.0" />
<line x1="260.35" y1="906.9" x2="260.35" y2="909.2" stroke="#333" stroke-width="1.0" />
<line x1="80.3" y1="729.73" x2="81.6" y2="729.73" stroke="#333" stroke-width="1.0" />
<line x1="268.23" y1="906.9" x2="268.23" y2="908.3" stroke="#333" stroke-width="1.0" />
<line x1="78.3" y1="722.3" x2="81.6" y2="722.3" stroke="#333" stroke-width="1.0" />
<text x="76.2" y="724.6" font-size="6.5" text-anchor="end" fill="#3a3a3a"  stroke="#3a3a3a" stroke-width="0.22">60</text>
<line x1="276.1" y1="906.9" x2="276.1" y2="910.4" stroke="#333" stroke-width="1.0" />
<text x="276.1" y="917.7" font-size="6.2" text-anchor="middle" fill="#3a3a3a"  stroke="#3a3a3a" stroke-width="0.22">60</text>
<line x1="85.6" y1="811.4" x2="278.5" y2="811.4" stroke="#808080" stroke-width="1.1" />
<line x1="181.6" y1="720.5" x2="181.6" y2="904.5" stroke="#808080" stroke-width="1.1" />
<text x="87.3" y="729.5" font-size="7.3" text-anchor="start" fill="#ff1010" textLength="66.4" lengthAdjust="spacingAndGlyphs">Number of tracks: 20</text>
<text x="182.2" y="926.4" font-size="6.3" text-anchor="middle" fill="#444" textLength="31" lengthAdjust="spacingAndGlyphs" stroke="#444" stroke-width="0.22">x axis [µm]</text>
<text transform="translate(65.2,811.4) rotate(-90)" font-size="6.3" text-anchor="middle" fill="#444" textLength="33.8" lengthAdjust="spacingAndGlyphs" stroke="#444" stroke-width="0.22">y axis [µm]</text>
<polyline points="183,810 186,808 189,808.8 193,806.5 197.2,805 201,805.3 204.7,805.6 208.9,806.1 211,805 214.5,804.3" fill="none" stroke="#222" stroke-width="0.8" stroke-linejoin="round"/>
<polyline points="179,813 174,814.5 168,815 166.8,816.2 166.3,818.9 162.6,820 158.8,821 156,822.5 153.5,824.2" fill="none" stroke="#222" stroke-width="0.8" stroke-linejoin="round"/>
<polyline points="178,814 174,817 170,821 166,825.5 162,829 156.9,832.2" fill="none" stroke="#222" stroke-width="0.8" stroke-linejoin="round"/>
<polyline points="170,827 165,826.5 160,827.2 155.5,827" fill="none" stroke="#202020" stroke-width="0.8" stroke-linejoin="round"/>
<polyline points="181,820 181.2,824.7 187.6,828 181.2,830 172,826.8 184,828.5 189.7,833.3 194,834.5 197.9,835.1" fill="none" stroke="#222" stroke-width="0.8" stroke-linejoin="round"/>
<polyline points="181.5,822 181.3,828 181,833 181.2,837" fill="none" stroke="#222" stroke-width="0.8" stroke-linejoin="round"/>
<polyline points="181,812 181.3,816 180.7,817.1" fill="none" stroke="#222" stroke-width="0.8" stroke-linejoin="round"/>
<polyline points="182,815 181.6,819 181.8,822.1" fill="none" stroke="#222" stroke-width="0.8" stroke-linejoin="round"/>
<polyline points="183,806 182,801 181.5,796 179,793 175.1,790.3" fill="none" stroke="#222" stroke-width="0.8" stroke-linejoin="round"/>
<polyline points="180,806 178,800 173,797.5 168.6,793.6" fill="none" stroke="#222" stroke-width="0.8" stroke-linejoin="round"/>
<polyline points="179,807 176,802 170,799 165,795 163.6,793.3" fill="none" stroke="#222" stroke-width="0.8" stroke-linejoin="round"/>
<polyline points="178,808 172,803 166,798 161,795.5 159.6,794.2" fill="none" stroke="#222" stroke-width="0.8" stroke-linejoin="round"/>
<polyline points="180,809 177,805 174.8,801.1" fill="none" stroke="#222" stroke-width="0.8" stroke-linejoin="round"/>
<polyline points="176,810 170,808.5 167.4,807" fill="none" stroke="#222" stroke-width="0.8" stroke-linejoin="round"/>
<polyline points="177,812 174,811.5 172.5,811.2" fill="none" stroke="#222" stroke-width="0.8" stroke-linejoin="round"/>
<polyline points="184,812 187,813.5 190.3,814.3" fill="none" stroke="#222" stroke-width="0.8" stroke-linejoin="round"/>
<polyline points="183,809 185.7,808.2" fill="none" stroke="#222" stroke-width="0.8" stroke-linejoin="round"/>
<polyline points="172,800 169.5,800.2 171,802.5" fill="none" stroke="#777" stroke-width="0.8" stroke-linejoin="round"/>
<polyline points="176,815 182,814 185,816" fill="none" stroke="#777" stroke-width="0.8" stroke-linejoin="round"/>
<polyline points="182,810 184,811 183.5,812" fill="none" stroke="#222" stroke-width="0.8" stroke-linejoin="round"/>
<circle cx="214.5" cy="804.3" r="1.85" fill="#000"/>
<circle cx="153.5" cy="824.2" r="1.85" fill="#000"/>
<circle cx="156.9" cy="832.2" r="1.85" fill="#000"/>
<circle cx="197.9" cy="835.1" r="1.85" fill="#000"/>
<circle cx="181.2" cy="837" r="1.85" fill="#000"/>
<circle cx="180.7" cy="817.1" r="1.85" fill="#000"/>
<circle cx="181.8" cy="822.1" r="1.85" fill="#000"/>
<circle cx="175.1" cy="790.3" r="1.85" fill="#000"/>
<circle cx="168.6" cy="793.6" r="1.85" fill="#000"/>
<circle cx="163.6" cy="793.3" r="1.85" fill="#000"/>
<circle cx="159.6" cy="794.2" r="1.85" fill="#000"/>
<circle cx="174.8" cy="801.1" r="1.85" fill="#000"/>
<circle cx="167.4" cy="807" r="1.85" fill="#000"/>
<circle cx="172.5" cy="811.2" r="1.85" fill="#000"/>
<circle cx="190.3" cy="814.3" r="1.85" fill="#000"/>
<circle cx="185.7" cy="808.2" r="1.85" fill="#000"/>
<circle cx="183.5" cy="812" r="1.85" fill="#000"/>
<circle cx="182" cy="808.5" r="2.6" fill="#000"/>
<circle cx="184" cy="811" r="2.6" fill="#000"/>
<circle cx="181" cy="811.5" r="2.2" fill="#000"/>
<circle cx="183.5" cy="807" r="2.2" fill="#000"/>
<circle cx="180" cy="808" r="1.8" fill="#000"/>
<circle cx="185.5" cy="809" r="1.8" fill="#000"/>
<circle cx="177.2" cy="811.1" r="2.4" fill="#0a0aff"/>
<text x="104" y="898.16" font-size="11" text-anchor="middle" fill="#000" textLength="22.5" lengthAdjust="spacingAndGlyphs" stroke="#000" stroke-width="0.22">ACM</text>
<text x="262.5" y="897.86" font-size="11" text-anchor="middle" fill="#000" textLength="21.3" lengthAdjust="spacingAndGlyphs" stroke="#000" stroke-width="0.22">TCM</text>
<rect x="386" y="717.8" width="233.8" height="215.5" fill="#c4c4c4"/>
<rect x="386" y="717.8" width="233.8" height="1.3" fill="#9a9a9a"/>
<rect x="415.5" y="719" width="201.6" height="189.3" fill="#fff"/>
<line x1="413.8" y1="719" x2="413.8" y2="907.3" stroke="#444" stroke-width="1.3" />
<line x1="416.5" y1="909.6" x2="617.1" y2="909.6" stroke="#444" stroke-width="1.3" />
<line x1="412.5" y1="890.3" x2="413.8" y2="890.3" stroke="#333" stroke-width="1.0" />
<line x1="432.85" y1="909.6" x2="432.85" y2="911" stroke="#333" stroke-width="1.0" />
<line x1="410.5" y1="884.29" x2="413.8" y2="884.29" stroke="#333" stroke-width="1.0" />
<text x="408.2" y="886.59" font-size="6.5" text-anchor="end" fill="#3a3a3a"  stroke="#3a3a3a" stroke-width="0.22">-60</text>
<line x1="439.2" y1="909.6" x2="439.2" y2="913.1" stroke="#333" stroke-width="1.0" />
<text x="439.2" y="920.1" font-size="6.2" text-anchor="middle" fill="#3a3a3a"  stroke="#3a3a3a" stroke-width="0.22">-60</text>
<line x1="412.5" y1="878.28" x2="413.8" y2="878.28" stroke="#333" stroke-width="1.0" />
<line x1="445.55" y1="909.6" x2="445.55" y2="911" stroke="#333" stroke-width="1.0" />
<line x1="411.6" y1="872.28" x2="413.8" y2="872.28" stroke="#333" stroke-width="1.0" />
<line x1="451.9" y1="909.6" x2="451.9" y2="911.9" stroke="#333" stroke-width="1.0" />
<line x1="412.5" y1="866.27" x2="413.8" y2="866.27" stroke="#333" stroke-width="1.0" />
<line x1="458.25" y1="909.6" x2="458.25" y2="911" stroke="#333" stroke-width="1.0" />
<line x1="410.5" y1="860.26" x2="413.8" y2="860.26" stroke="#333" stroke-width="1.0" />
<text x="408.2" y="862.56" font-size="6.5" text-anchor="end" fill="#3a3a3a"  stroke="#3a3a3a" stroke-width="0.22">-40</text>
<line x1="464.6" y1="909.6" x2="464.6" y2="913.1" stroke="#333" stroke-width="1.0" />
<text x="464.6" y="920.1" font-size="6.2" text-anchor="middle" fill="#3a3a3a"  stroke="#3a3a3a" stroke-width="0.22">-40</text>
<line x1="412.5" y1="854.25" x2="413.8" y2="854.25" stroke="#333" stroke-width="1.0" />
<line x1="470.95" y1="909.6" x2="470.95" y2="911" stroke="#333" stroke-width="1.0" />
<line x1="411.6" y1="848.25" x2="413.8" y2="848.25" stroke="#333" stroke-width="1.0" />
<line x1="477.3" y1="909.6" x2="477.3" y2="911.9" stroke="#333" stroke-width="1.0" />
<line x1="412.5" y1="842.24" x2="413.8" y2="842.24" stroke="#333" stroke-width="1.0" />
<line x1="483.65" y1="909.6" x2="483.65" y2="911" stroke="#333" stroke-width="1.0" />
<line x1="410.5" y1="836.23" x2="413.8" y2="836.23" stroke="#333" stroke-width="1.0" />
<text x="408.2" y="838.53" font-size="6.5" text-anchor="end" fill="#3a3a3a"  stroke="#3a3a3a" stroke-width="0.22">-20</text>
<line x1="490" y1="909.6" x2="490" y2="913.1" stroke="#333" stroke-width="1.0" />
<text x="490" y="920.1" font-size="6.2" text-anchor="middle" fill="#3a3a3a"  stroke="#3a3a3a" stroke-width="0.22">-20</text>
<line x1="412.5" y1="830.22" x2="413.8" y2="830.22" stroke="#333" stroke-width="1.0" />
<line x1="496.35" y1="909.6" x2="496.35" y2="911" stroke="#333" stroke-width="1.0" />
<line x1="411.6" y1="824.22" x2="413.8" y2="824.22" stroke="#333" stroke-width="1.0" />
<line x1="502.7" y1="909.6" x2="502.7" y2="911.9" stroke="#333" stroke-width="1.0" />
<line x1="412.5" y1="818.21" x2="413.8" y2="818.21" stroke="#333" stroke-width="1.0" />
<line x1="509.05" y1="909.6" x2="509.05" y2="911" stroke="#333" stroke-width="1.0" />
<line x1="410.5" y1="812.2" x2="413.8" y2="812.2" stroke="#333" stroke-width="1.0" />
<text x="408.2" y="814.5" font-size="6.5" text-anchor="end" fill="#3a3a3a"  stroke="#3a3a3a" stroke-width="0.22">0</text>
<line x1="515.4" y1="909.6" x2="515.4" y2="913.1" stroke="#333" stroke-width="1.0" />
<text x="515.4" y="920.1" font-size="6.2" text-anchor="middle" fill="#3a3a3a"  stroke="#3a3a3a" stroke-width="0.22">0</text>
<line x1="412.5" y1="806.19" x2="413.8" y2="806.19" stroke="#333" stroke-width="1.0" />
<line x1="521.75" y1="909.6" x2="521.75" y2="911" stroke="#333" stroke-width="1.0" />
<line x1="411.6" y1="800.19" x2="413.8" y2="800.19" stroke="#333" stroke-width="1.0" />
<line x1="528.1" y1="909.6" x2="528.1" y2="911.9" stroke="#333" stroke-width="1.0" />
<line x1="412.5" y1="794.18" x2="413.8" y2="794.18" stroke="#333" stroke-width="1.0" />
<line x1="534.45" y1="909.6" x2="534.45" y2="911" stroke="#333" stroke-width="1.0" />
<line x1="410.5" y1="788.17" x2="413.8" y2="788.17" stroke="#333" stroke-width="1.0" />
<text x="408.2" y="790.47" font-size="6.5" text-anchor="end" fill="#3a3a3a"  stroke="#3a3a3a" stroke-width="0.22">20</text>
<line x1="540.8" y1="909.6" x2="540.8" y2="913.1" stroke="#333" stroke-width="1.0" />
<text x="540.8" y="920.1" font-size="6.2" text-anchor="middle" fill="#3a3a3a"  stroke="#3a3a3a" stroke-width="0.22">20</text>
<line x1="412.5" y1="782.16" x2="413.8" y2="782.16" stroke="#333" stroke-width="1.0" />
<line x1="547.15" y1="909.6" x2="547.15" y2="911" stroke="#333" stroke-width="1.0" />
<line x1="411.6" y1="776.16" x2="413.8" y2="776.16" stroke="#333" stroke-width="1.0" />
<line x1="553.5" y1="909.6" x2="553.5" y2="911.9" stroke="#333" stroke-width="1.0" />
<line x1="412.5" y1="770.15" x2="413.8" y2="770.15" stroke="#333" stroke-width="1.0" />
<line x1="559.85" y1="909.6" x2="559.85" y2="911" stroke="#333" stroke-width="1.0" />
<line x1="410.5" y1="764.14" x2="413.8" y2="764.14" stroke="#333" stroke-width="1.0" />
<text x="408.2" y="766.44" font-size="6.5" text-anchor="end" fill="#3a3a3a"  stroke="#3a3a3a" stroke-width="0.22">40</text>
<line x1="566.2" y1="909.6" x2="566.2" y2="913.1" stroke="#333" stroke-width="1.0" />
<text x="566.2" y="920.1" font-size="6.2" text-anchor="middle" fill="#3a3a3a"  stroke="#3a3a3a" stroke-width="0.22">40</text>
<line x1="412.5" y1="758.13" x2="413.8" y2="758.13" stroke="#333" stroke-width="1.0" />
<line x1="572.55" y1="909.6" x2="572.55" y2="911" stroke="#333" stroke-width="1.0" />
<line x1="411.6" y1="752.12" x2="413.8" y2="752.12" stroke="#333" stroke-width="1.0" />
<line x1="578.9" y1="909.6" x2="578.9" y2="911.9" stroke="#333" stroke-width="1.0" />
<line x1="412.5" y1="746.12" x2="413.8" y2="746.12" stroke="#333" stroke-width="1.0" />
<line x1="585.25" y1="909.6" x2="585.25" y2="911" stroke="#333" stroke-width="1.0" />
<line x1="410.5" y1="740.11" x2="413.8" y2="740.11" stroke="#333" stroke-width="1.0" />
<text x="408.2" y="742.41" font-size="6.5" text-anchor="end" fill="#3a3a3a"  stroke="#3a3a3a" stroke-width="0.22">60</text>
<line x1="591.6" y1="909.6" x2="591.6" y2="913.1" stroke="#333" stroke-width="1.0" />
<text x="591.6" y="920.1" font-size="6.2" text-anchor="middle" fill="#3a3a3a"  stroke="#3a3a3a" stroke-width="0.22">60</text>
<line x1="412.5" y1="734.1" x2="413.8" y2="734.1" stroke="#333" stroke-width="1.0" />
<line x1="597.95" y1="909.6" x2="597.95" y2="911" stroke="#333" stroke-width="1.0" />
<line x1="417.5" y1="812.2" x2="615.1" y2="812.2" stroke="#808080" stroke-width="1.1" />
<line x1="515.4" y1="720.5" x2="515.4" y2="906.8" stroke="#808080" stroke-width="1.1" />
<text x="419.6" y="728.3" font-size="7.3" text-anchor="start" fill="#ff1010" textLength="67.8" lengthAdjust="spacingAndGlyphs">Number of tracks: 20</text>
<text x="515.5" y="928.6" font-size="6.3" text-anchor="middle" fill="#444" textLength="31" lengthAdjust="spacingAndGlyphs" stroke="#444" stroke-width="0.22">x axis [µm]</text>
<text transform="translate(396.9,812.2) rotate(-90)" font-size="6.3" text-anchor="middle" fill="#444" textLength="33.8" lengthAdjust="spacingAndGlyphs" stroke="#444" stroke-width="0.22">y axis [µm]</text>
<polyline points="515.5,812 512.5,813.2 505,815 499.4,816.6 497.7,822.3 491,820.5 483.5,818.3 485.2,824.9" fill="none" stroke="#777" stroke-width="0.8" stroke-linejoin="round"/>
<polyline points="514,812 511,810.5 507,810.2 509,809.2 513,809.5" fill="none" stroke="#777" stroke-width="0.8" stroke-linejoin="round"/>
<polyline points="517,809 519.9,808.4" fill="none" stroke="#222" stroke-width="0.8" stroke-linejoin="round"/>
<polyline points="521,826 526,828 530,829.5 535,831 539.5,832.3" fill="none" stroke="#222" stroke-width="0.8" stroke-linejoin="round"/>
<polyline points="521,828 524,829.5 527.8,830.5" fill="none" stroke="#222" stroke-width="0.8" stroke-linejoin="round"/>
<polyline points="522,832 522.7,833.6" fill="none" stroke="#222" stroke-width="0.8" stroke-linejoin="round"/>
<polyline points="517,828 516.5,835 517.5,840 518.2,843.1" fill="none" stroke="#222" stroke-width="0.8" stroke-linejoin="round"/>
<polyline points="523,833 525,838 528,842 530.5,844 533.9,845.9" fill="none" stroke="#222" stroke-width="0.8" stroke-linejoin="round"/>
<polyline points="524,829 529,833 533,837 536,840 540,844 544.3,847.3" fill="none" stroke="#222" stroke-width="0.8" stroke-linejoin="round"/>
<polyline points="515,816 513.4,818 512.5,822.3 512.4,827 513.6,831.9" fill="none" stroke="#222" stroke-width="0.8" stroke-linejoin="round"/>
<polyline points="517,812 517.5,818 519,824.8 521,826" fill="none" stroke="#222" stroke-width="0.8" stroke-linejoin="round"/>
<polyline points="516,814 520,819 524,823 525.6,824.8" fill="none" stroke="#222" stroke-width="0.8" stroke-linejoin="round"/>
<circle cx="519.9" cy="808.4" r="1.85" fill="#000"/>
<circle cx="539.5" cy="832.3" r="1.85" fill="#000"/>
<circle cx="527.8" cy="830.5" r="1.85" fill="#000"/>
<circle cx="522.7" cy="833.6" r="1.85" fill="#000"/>
<circle cx="518.2" cy="843.1" r="1.85" fill="#000"/>
<circle cx="533.9" cy="845.9" r="1.85" fill="#000"/>
<circle cx="544.3" cy="847.3" r="1.85" fill="#000"/>
<circle cx="513.6" cy="831.9" r="1.85" fill="#000"/>
<circle cx="521" cy="826" r="1.85" fill="#000"/>
<circle cx="525.6" cy="824.8" r="1.85" fill="#000"/>
<circle cx="485.2" cy="824.9" r="1.9" fill="#000"/>
<circle cx="516.5" cy="810.5" r="2.2" fill="#000"/>
<circle cx="517.5" cy="814.5" r="2.3" fill="#000"/>
<circle cx="518.5" cy="818.5" r="2.3" fill="#000"/>
<circle cx="519.5" cy="822" r="2.2" fill="#000"/>
<circle cx="516" cy="818" r="1.8" fill="#000"/>
<circle cx="514" cy="829.5" r="2.1" fill="#000"/>
<circle cx="512" cy="831.5" r="2.0" fill="#000"/>
<circle cx="523.5" cy="832" r="2.3" fill="#000"/>
<circle cx="522.5" cy="834.5" r="2.0" fill="#000"/>
<circle cx="521" cy="828.8" r="2.4" fill="#0a0aff"/>
<text x="438.6" y="899.16" font-size="11" text-anchor="middle" fill="#000" textLength="22.5" lengthAdjust="spacingAndGlyphs" stroke="#000" stroke-width="0.22">ACM</text>
<text x="596.6" y="898.86" font-size="11" text-anchor="middle" fill="#000" textLength="21.3" lengthAdjust="spacingAndGlyphs" stroke="#000" stroke-width="0.22">TCM</text>
<line x1="75.5" y1="1008.55" x2="75.5" y2="1160.25" stroke="#000" stroke-width="1.5" />
<line x1="69.9" y1="1009.3" x2="75.5" y2="1009.3" stroke="#000" stroke-width="1.5" />
<text x="67.4" y="1013.04" font-size="10.4" text-anchor="end" fill="#000" font-weight="bold"  stroke="#000" stroke-width="0.22">60</text>
<line x1="69.9" y1="1046.9" x2="75.5" y2="1046.9" stroke="#000" stroke-width="1.5" />
<text x="67.4" y="1050.64" font-size="10.4" text-anchor="end" fill="#000" font-weight="bold"  stroke="#000" stroke-width="0.22">40</text>
<line x1="69.9" y1="1084.4" x2="75.5" y2="1084.4" stroke="#000" stroke-width="1.5" />
<text x="67.4" y="1088.14" font-size="10.4" text-anchor="end" fill="#000" font-weight="bold"  stroke="#000" stroke-width="0.22">20</text>
<line x1="69.9" y1="1122.2" x2="75.5" y2="1122.2" stroke="#000" stroke-width="1.5" />
<text x="67.4" y="1125.94" font-size="10.4" text-anchor="end" fill="#000" font-weight="bold"  stroke="#000" stroke-width="0.22">0</text>
<line x1="69.9" y1="1159.5" x2="75.5" y2="1159.5" stroke="#000" stroke-width="1.5" />
<text x="67.4" y="1163.24" font-size="10.4" text-anchor="end" fill="#000" font-weight="bold"  stroke="#000" stroke-width="0.22">-20</text>
<line x1="74.75" y1="1159.5" x2="271" y2="1159.5" stroke="#000" stroke-width="1.5" />
<line x1="131.3" y1="1159.5" x2="131.3" y2="1164.5" stroke="#000" stroke-width="1.5" />
<line x1="214.8" y1="1159.5" x2="214.8" y2="1164.5" stroke="#000" stroke-width="1.5" />
<line x1="79.3" y1="1122.1" x2="271" y2="1122.1" stroke="#000" stroke-width="1.5" stroke-dasharray="1.6,2.95"/>
<polyline points="131.3,1015.8 131.3,1006.7 214.8,1006.7 214.8,1015.8" fill="none" stroke="#000" stroke-width="1.7"/>
<polygon points="167.9,992.65 169.14,994.26 171.15,994.52 170.38,996.4 171.15,998.27 169.14,998.54 167.9,1000.15 166.66,998.54 164.65,998.27 165.43,996.4 164.65,994.52 166.66,994.26" fill="#000"/>
<polygon points="176.8,992.65 178.04,994.26 180.05,994.52 179.28,996.4 180.05,998.27 178.04,998.54 176.8,1000.15 175.56,998.54 173.55,998.27 174.33,996.4 173.55,994.52 175.56,994.26" fill="#000"/>
<text x="107.88" y="1178.1" font-size="11.8" fill="#000" textLength="47.67" lengthAdjust="spacingAndGlyphs" stroke="#000" stroke-width="0.22">Baseline</text>
<text x="193.19" y="1178.1" font-size="11.8" fill="#000" textLength="46.91" lengthAdjust="spacingAndGlyphs" stroke="#000" stroke-width="0.22">+ E6130</text>
<text x="255.8" y="1107.9" font-size="7.9" text-anchor="middle" fill="#222" textLength="16.4" lengthAdjust="spacingAndGlyphs" stroke="#222" stroke-width="0.22">TCM</text>
<text x="257" y="1139" font-size="7.9" text-anchor="middle" fill="#222" textLength="17.5" lengthAdjust="spacingAndGlyphs" stroke="#222" stroke-width="0.22">ACM</text>
<text transform="translate(30.5,1084.3) rotate(-90)" font-size="11.8" text-anchor="middle" fill="#000" font-weight="bold" textLength="86.9" lengthAdjust="spacingAndGlyphs" stroke="#000" stroke-width="0.22">Centre of Mass</text>
<text transform="translate(44.1,1084.3) rotate(-90)" font-size="11.8" text-anchor="middle" fill="#000" font-weight="bold" textLength="41.5" lengthAdjust="spacingAndGlyphs" stroke="#000" stroke-width="0.22">(x axis)</text>
<line x1="131.3" y1="1106.1" x2="214.8" y2="1111.5" stroke="#111" stroke-width="1.0" />
<line x1="131.3" y1="1117.8" x2="214.8" y2="1122.8" stroke="#111" stroke-width="1.0" />
<line x1="131.3" y1="1120.6" x2="214.8" y2="1122.8" stroke="#111" stroke-width="1.0" />
<line x1="131.3" y1="1127.4" x2="214.8" y2="1116.5" stroke="#111" stroke-width="1.0" />
<line x1="131.3" y1="1132.9" x2="214.8" y2="1104.5" stroke="#111" stroke-width="1.0" />
<line x1="131.3" y1="1135.5" x2="214.8" y2="1114" stroke="#111" stroke-width="1.0" />
<line x1="131.3" y1="1144.4" x2="214.8" y2="1097.5" stroke="#111" stroke-width="1.0" />
<line x1="131.3" y1="1147.4" x2="214.8" y2="1053.5" stroke="#111" stroke-width="1.0" />
<line x1="131.3" y1="1153.8" x2="214.8" y2="1025" stroke="#111" stroke-width="1.0" />
<circle cx="131.3" cy="1106.1" r="2.8" fill="#000"/>
<circle cx="214.8" cy="1111.5" r="2.8" fill="#000"/>
<circle cx="131.3" cy="1117.8" r="2.8" fill="#000"/>
<circle cx="214.8" cy="1122.8" r="2.8" fill="#000"/>
<circle cx="131.3" cy="1120.6" r="2.8" fill="#000"/>
<circle cx="214.8" cy="1122.8" r="2.8" fill="#000"/>
<circle cx="131.3" cy="1127.4" r="2.8" fill="#000"/>
<circle cx="214.8" cy="1116.5" r="2.8" fill="#000"/>
<circle cx="131.3" cy="1132.9" r="2.8" fill="#000"/>
<circle cx="214.8" cy="1104.5" r="2.8" fill="#000"/>
<circle cx="131.3" cy="1135.5" r="2.8" fill="#000"/>
<circle cx="214.8" cy="1114" r="2.8" fill="#000"/>
<circle cx="131.3" cy="1144.4" r="2.8" fill="#000"/>
<circle cx="214.8" cy="1097.5" r="2.8" fill="#000"/>
<circle cx="131.3" cy="1147.4" r="2.8" fill="#000"/>
<circle cx="214.8" cy="1053.5" r="2.8" fill="#000"/>
<circle cx="131.3" cy="1153.8" r="2.8" fill="#000"/>
<circle cx="214.8" cy="1025" r="2.8" fill="#000"/>
<line x1="398.2" y1="1016.85" x2="398.2" y2="1162.55" stroke="#000" stroke-width="1.5" />
<line x1="392.4" y1="1017.6" x2="398.2" y2="1017.6" stroke="#000" stroke-width="1.5" />
<text x="390.8" y="1021.31" font-size="10.3" text-anchor="end" fill="#000" font-weight="bold"  stroke="#000" stroke-width="0.22">1.0</text>
<line x1="392.4" y1="1053.7" x2="398.2" y2="1053.7" stroke="#000" stroke-width="1.5" />
<text x="390.8" y="1057.41" font-size="10.3" text-anchor="end" fill="#000" font-weight="bold"  stroke="#000" stroke-width="0.22">0.5</text>
<line x1="392.4" y1="1089.8" x2="398.2" y2="1089.8" stroke="#000" stroke-width="1.5" />
<text x="390.8" y="1093.51" font-size="10.3" text-anchor="end" fill="#000" font-weight="bold"  stroke="#000" stroke-width="0.22">0.0</text>
<line x1="392.4" y1="1125.9" x2="398.2" y2="1125.9" stroke="#000" stroke-width="1.5" />
<text x="390.8" y="1129.61" font-size="10.3" text-anchor="end" fill="#000" font-weight="bold"  stroke="#000" stroke-width="0.22">-0.5</text>
<line x1="392.4" y1="1161.8" x2="398.2" y2="1161.8" stroke="#000" stroke-width="1.5" />
<text x="390.8" y="1165.51" font-size="10.3" text-anchor="end" fill="#000" font-weight="bold"  stroke="#000" stroke-width="0.22">-1.0</text>
<line x1="397.45" y1="1161.7" x2="586" y2="1161.7" stroke="#000" stroke-width="1.5" />
<line x1="451.3" y1="1161.7" x2="451.3" y2="1166.7" stroke="#000" stroke-width="1.5" />
<line x1="531.9" y1="1161.7" x2="531.9" y2="1166.7" stroke="#000" stroke-width="1.5" />
<line x1="401.6" y1="1089.8" x2="586" y2="1089.8" stroke="#000" stroke-width="1.5" stroke-dasharray="1.6,2.95"/>
<polyline points="451.3,1022.8 451.3,1015 531.9,1015 531.9,1022.8" fill="none" stroke="#000" stroke-width="1.7"/>
<polygon points="491.3,1001.5 492.42,1002.96 494.24,1003.2 493.54,1004.9 494.24,1006.6 492.42,1006.84 491.3,1008.3 490.18,1006.84 488.36,1006.6 489.06,1004.9 488.36,1003.2 490.18,1002.96" fill="#000"/>
<text x="428.93" y="1178.3" font-size="11.8" fill="#000" textLength="45.29" lengthAdjust="spacingAndGlyphs" stroke="#000" stroke-width="0.22">Baseline</text>
<text x="511.33" y="1178.3" font-size="11.8" fill="#000" textLength="43.94" lengthAdjust="spacingAndGlyphs" stroke="#000" stroke-width="0.22">+ E6130</text>
<text x="572.9" y="1071.5" font-size="7.9" text-anchor="middle" fill="#222" textLength="16.2" lengthAdjust="spacingAndGlyphs" stroke="#222" stroke-width="0.22">TCM</text>
<text x="573.3" y="1111.8" font-size="7.9" text-anchor="middle" fill="#222" textLength="17.5" lengthAdjust="spacingAndGlyphs" stroke="#222" stroke-width="0.22">ACM</text>
<text transform="translate(350.8,1089.8) rotate(-90)" font-size="11.8" text-anchor="middle" fill="#000" font-weight="bold" textLength="138.6" lengthAdjust="spacingAndGlyphs" stroke="#000" stroke-width="0.22">Forward Migration Index</text>
<text transform="translate(365.6,1089.8) rotate(-90)" font-size="11.8" text-anchor="middle" fill="#000" font-weight="bold" textLength="41" lengthAdjust="spacingAndGlyphs" stroke="#000" stroke-width="0.22">(x axis)</text>
<line x1="451.3" y1="1062" x2="531.9" y2="1074.4" stroke="#111" stroke-width="1.0" />
<line x1="451.3" y1="1093.5" x2="531.9" y2="1072.2" stroke="#111" stroke-width="1.0" />
<line x1="451.3" y1="1096.1" x2="531.9" y2="1086.7" stroke="#111" stroke-width="1.0" />
<line x1="451.3" y1="1098.6" x2="531.9" y2="1088.5" stroke="#111" stroke-width="1.0" />
<line x1="451.3" y1="1098.6" x2="531.9" y2="1081.9" stroke="#111" stroke-width="1.0" />
<line x1="451.3" y1="1108.5" x2="531.9" y2="1084.1" stroke="#111" stroke-width="1.0" />
<line x1="451.3" y1="1111.4" x2="531.9" y2="1090.1" stroke="#111" stroke-width="1.0" />
<line x1="451.3" y1="1130.2" x2="531.9" y2="1058.6" stroke="#111" stroke-width="1.0" />
<line x1="451.3" y1="1131.4" x2="531.9" y2="1147.2" stroke="#111" stroke-width="1.0" />
<line x1="451.3" y1="1151.8" x2="531.9" y2="1032.2" stroke="#111" stroke-width="1.0" />
<line x1="451.3" y1="1096" x2="531.9" y2="1093.2" stroke="#111" stroke-width="1.0" />
<circle cx="451.3" cy="1062" r="2.8" fill="#000"/>
<circle cx="531.9" cy="1074.4" r="2.8" fill="#000"/>
<circle cx="451.3" cy="1093.5" r="2.8" fill="#000"/>
<circle cx="531.9" cy="1072.2" r="2.8" fill="#000"/>
<circle cx="451.3" cy="1096.1" r="2.8" fill="#000"/>
<circle cx="531.9" cy="1086.7" r="2.8" fill="#000"/>
<circle cx="451.3" cy="1098.6" r="2.8" fill="#000"/>
<circle cx="531.9" cy="1088.5" r="2.8" fill="#000"/>
<circle cx="451.3" cy="1098.6" r="2.8" fill="#000"/>
<circle cx="531.9" cy="1081.9" r="2.8" fill="#000"/>
<circle cx="451.3" cy="1108.5" r="2.8" fill="#000"/>
<circle cx="531.9" cy="1084.1" r="2.8" fill="#000"/>
<circle cx="451.3" cy="1111.4" r="2.8" fill="#000"/>
<circle cx="531.9" cy="1090.1" r="2.8" fill="#000"/>
<circle cx="451.3" cy="1130.2" r="2.8" fill="#000"/>
<circle cx="531.9" cy="1058.6" r="2.8" fill="#000"/>
<circle cx="451.3" cy="1131.4" r="2.8" fill="#000"/>
<circle cx="531.9" cy="1147.2" r="2.8" fill="#000"/>
<circle cx="451.3" cy="1151.8" r="2.8" fill="#000"/>
<circle cx="531.9" cy="1032.2" r="2.8" fill="#000"/>
<circle cx="451.3" cy="1096" r="2.8" fill="#000"/>
<circle cx="531.9" cy="1093.2" r="2.8" fill="#000"/>
</svg>
</body></html>
